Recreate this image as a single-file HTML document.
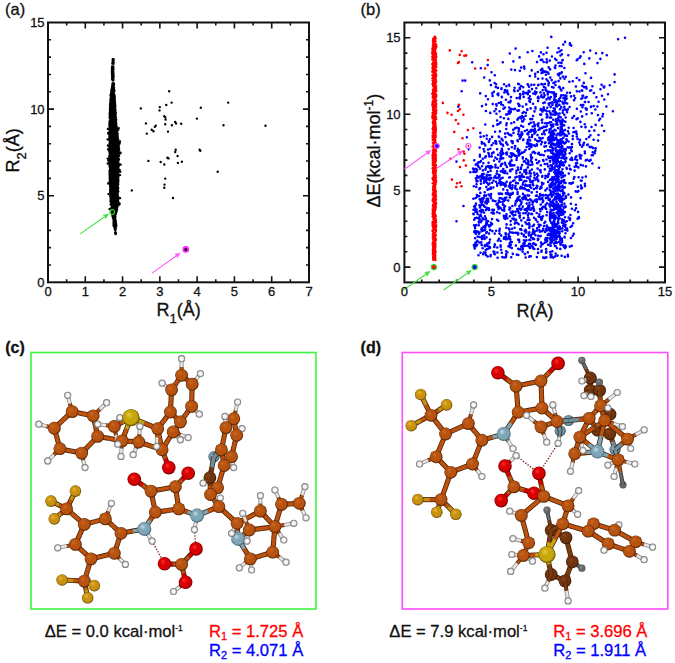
<!DOCTYPE html>
<html><head><meta charset="utf-8"><style>
html,body{margin:0;padding:0;background:#fff;}
body{width:675px;height:663px;overflow:hidden;}
svg{display:block;font-family:"Liberation Sans", sans-serif;}
text{stroke:currentColor;stroke-width:0.3px;}
</style></head><body>
<svg width="675" height="663" viewBox="0 0 675 663">
<path d="M113.0 59.2h0M113.5 59.2h0M113.3 59.4h0M112.7 59.5h0M112.7 59.4h0M112.7 59.2h0M113.1 60.6h0M112.7 60.1h0M113.4 60.7h0M113.3 60.2h0M113.8 59.9h0M113.7 60.1h0M112.7 60.8h0M112.9 61.4h0M112.7 61.2h0M113.3 61.0h0M113.2 60.8h0M112.6 60.9h0M113.3 61.8h0M112.8 62.0h0M113.0 61.7h0M113.5 62.1h0M112.7 62.0h0M113.1 62.2h0M113.4 62.5h0M113.7 62.4h0M112.9 62.9h0M112.5 62.7h0M112.4 62.8h0M113.4 62.8h0M113.5 63.4h0M113.3 63.6h0M113.1 63.5h0M113.5 63.9h0M113.0 63.6h0M112.3 63.7h0M113.0 67.1h0M113.3 66.5h0M112.6 66.8h0M112.0 66.7h0M112.2 66.4h0M112.0 66.9h0M112.1 67.3h0M112.6 67.8h0M112.0 67.5h0M112.8 67.8h0M113.3 67.8h0M112.4 67.4h0M112.5 68.6h0M113.5 68.0h0M112.2 68.1h0M112.3 68.3h0M112.9 68.1h0M111.9 68.2h0M112.5 69.2h0M113.5 69.3h0M112.8 69.2h0M113.0 68.7h0M113.4 69.3h0M113.4 69.3h0M112.6 69.8h0M112.1 70.0h0M112.0 69.6h0M112.3 69.6h0M112.5 69.5h0M111.9 69.6h0M112.1 70.6h0M111.9 71.0h0M112.9 70.4h0M112.3 70.6h0M112.5 70.4h0M113.3 71.1h0M112.7 71.5h0M112.0 71.2h0M112.5 71.3h0M113.3 71.2h0M111.9 71.9h0M112.8 71.2h0M112.8 71.9h0M112.8 72.7h0M113.4 72.5h0M112.3 72.2h0M112.2 72.5h0M112.8 72.5h0M112.5 72.9h0M113.3 73.5h0M113.3 73.3h0M113.3 73.3h0M112.3 73.1h0M112.5 72.7h0M111.9 73.7h0M112.3 74.1h0M113.5 73.9h0M113.5 74.3h0M113.5 73.8h0M112.3 73.7h0M112.2 74.5h0M113.0 75.0h0M113.3 74.7h0M113.0 74.9h0M112.0 74.8h0M113.4 74.9h0M113.2 75.5h0M112.2 75.7h0M112.5 75.7h0M113.6 75.4h0M112.6 75.9h0M113.1 75.2h0M112.1 76.0h0M113.4 76.5h0M112.1 76.6h0M113.6 76.4h0M112.5 76.3h0M112.1 75.9h0M113.6 77.2h0M112.8 77.4h0M112.6 77.4h0M113.3 76.9h0M112.3 76.9h0M112.3 77.2h0M112.3 77.8h0M112.1 78.2h0M112.5 77.9h0M112.9 78.2h0M112.6 78.2h0M112.8 77.9h0M112.8 78.3h0M112.6 78.4h0M111.9 78.9h0M112.2 78.7h0M113.1 78.7h0M112.5 78.7h0M112.8 79.7h0M112.1 79.5h0M112.3 79.3h0M113.2 79.5h0M112.9 79.7h0M113.5 79.5h0M113.0 80.3h0M112.8 80.5h0M112.7 80.3h0M112.8 80.7h0M113.1 80.6h0M113.5 80.1h0M113.3 83.9h0M113.8 83.2h0M112.5 83.5h0M112.5 83.3h0M112.5 83.6h0M113.7 83.8h0M112.6 84.5h0M113.5 84.0h0M113.9 84.7h0M112.7 84.7h0M113.1 84.3h0M114.1 84.6h0M112.5 85.0h0M113.2 85.0h0M112.6 85.0h0M113.6 84.7h0M113.3 85.1h0M112.3 85.0h0M113.4 85.1h0M112.2 86.3h0M113.7 86.3h0M112.3 85.7h0M112.2 86.1h0M112.7 85.6h0M113.0 86.2h0M113.8 85.7h0M112.3 87.0h0M113.3 86.9h0M112.2 86.3h0M113.5 86.6h0M112.1 87.1h0M113.4 86.9h0M112.1 87.0h0M112.0 87.8h0M112.9 87.4h0M113.2 87.8h0M112.5 87.2h0M113.1 87.3h0M112.1 87.2h0M111.9 87.3h0M112.6 87.3h0M113.7 88.1h0M113.0 88.0h0M112.6 87.9h0M112.3 87.9h0M113.6 88.3h0M112.2 88.3h0M114.1 88.0h0M113.8 88.2h0M112.9 89.4h0M112.7 89.1h0M113.5 89.5h0M112.5 89.4h0M113.5 89.2h0M112.7 89.0h0M111.7 88.8h0M111.7 89.3h0M112.2 89.6h0M111.7 90.2h0M114.0 90.0h0M112.3 89.7h0M112.3 89.9h0M111.9 89.9h0M112.2 90.3h0M114.3 89.9h0M112.1 91.1h0M112.3 90.6h0M111.3 90.6h0M112.8 90.7h0M111.9 90.7h0M111.3 90.5h0M111.6 90.6h0M111.4 90.3h0M112.2 90.5h0M113.1 91.5h0M113.6 91.6h0M113.5 91.8h0M112.4 91.4h0M114.4 91.2h0M113.6 91.6h0M111.3 91.8h0M114.1 91.6h0M113.6 91.7h0M111.5 92.3h0M112.8 92.6h0M113.8 92.6h0M113.1 92.6h0M113.4 92.5h0M111.8 91.9h0M111.5 92.2h0M111.4 92.6h0M113.0 92.4h0M113.2 93.2h0M112.7 92.7h0M113.8 93.3h0M112.7 93.1h0M113.3 92.8h0M113.6 92.9h0M111.2 92.9h0M113.6 92.9h0M113.6 93.5h0M112.7 93.0h0M112.6 94.0h0M113.7 94.0h0M113.2 93.6h0M111.3 93.7h0M113.6 93.7h0M112.9 93.5h0M111.0 93.7h0M113.3 94.1h0M113.3 93.7h0M112.7 93.9h0M112.5 94.4h0M114.2 94.5h0M114.5 95.0h0M110.7 94.7h0M113.9 95.1h0M112.4 94.5h0M111.5 95.1h0M111.5 94.8h0M111.2 94.7h0M114.4 94.4h0M113.9 95.5h0M114.2 95.7h0M111.5 95.8h0M112.5 95.1h0M110.5 95.5h0M112.4 95.3h0M111.1 95.4h0M111.8 95.8h0M110.5 95.7h0M114.0 95.2h0M114.4 96.5h0M114.3 96.1h0M112.0 96.2h0M114.7 96.4h0M112.0 96.2h0M111.6 95.9h0M110.8 96.6h0M111.6 96.6h0M111.5 96.1h0M112.6 96.1h0M112.0 96.7h0M114.3 97.3h0M113.1 97.4h0M114.5 97.1h0M113.5 96.7h0M113.6 97.1h0M113.7 97.2h0M111.6 96.7h0M114.5 96.8h0M112.4 97.0h0M111.7 97.3h0M114.7 96.9h0M113.3 97.7h0M112.8 97.8h0M111.1 97.6h0M111.3 98.2h0M112.6 97.7h0M114.4 98.3h0M112.4 97.6h0M111.2 97.6h0M111.9 97.6h0M111.4 97.7h0M112.9 98.2h0M113.7 98.6h0M112.2 98.7h0M112.0 98.6h0M110.6 98.5h0M114.8 98.4h0M112.6 98.8h0M114.3 98.5h0M111.5 98.5h0M112.1 98.7h0M114.7 99.0h0M114.3 98.3h0M110.4 99.7h0M114.5 99.5h0M113.0 99.1h0M112.1 99.8h0M114.1 99.8h0M114.8 99.3h0M110.8 99.2h0M112.7 99.6h0M114.7 99.7h0M113.3 99.7h0M112.4 99.5h0M110.4 100.5h0M111.3 100.6h0M113.3 100.1h0M110.8 100.1h0M113.3 100.5h0M110.7 100.0h0M112.7 100.4h0M112.1 100.1h0M113.1 99.9h0M111.7 100.3h0M114.8 100.4h0M114.5 100.3h0M111.3 100.9h0M114.9 101.3h0M111.7 100.7h0M112.6 101.2h0M112.2 100.9h0M113.5 101.4h0M111.3 100.7h0M111.8 101.0h0M113.5 100.9h0M114.1 101.3h0M112.7 100.9h0M114.9 100.9h0M114.2 101.7h0M111.2 102.1h0M111.6 102.3h0M112.6 101.6h0M111.3 101.8h0M113.5 102.3h0M110.9 101.8h0M111.2 102.3h0M110.8 101.5h0M110.4 101.8h0M114.6 102.2h0M113.8 102.3h0M114.9 102.6h0M111.0 103.0h0M113.9 102.3h0M113.5 102.6h0M112.0 102.6h0M111.0 102.3h0M111.5 102.6h0M115.0 102.4h0M115.0 102.5h0M111.9 103.0h0M114.3 102.6h0M110.3 102.7h0M112.0 103.8h0M111.1 103.4h0M114.7 103.1h0M112.2 103.7h0M114.1 103.1h0M110.2 103.2h0M114.9 103.3h0M114.0 103.8h0M111.8 103.3h0M115.1 103.6h0M111.4 103.7h0M111.7 103.3h0M110.0 104.5h0M114.9 104.4h0M115.0 103.9h0M111.3 104.3h0M115.1 104.7h0M112.1 104.1h0M112.3 104.3h0M115.0 104.0h0M114.3 104.5h0M114.4 104.5h0M113.2 104.2h0M111.7 104.2h0M114.2 104.8h0M111.0 105.3h0M111.3 104.8h0M110.2 105.1h0M111.7 105.5h0M114.8 105.5h0M111.4 104.8h0M110.5 105.1h0M113.8 105.1h0M111.2 105.0h0M113.3 105.2h0M114.0 105.4h0M113.6 104.8h0M114.6 105.7h0M113.1 105.8h0M114.0 105.7h0M111.3 105.7h0M110.8 106.2h0M113.1 105.8h0M112.1 106.3h0M112.7 105.7h0M114.4 106.0h0M115.4 105.6h0M112.6 106.2h0M114.6 106.2h0M110.2 105.7h0M110.6 106.5h0M115.4 106.8h0M115.1 106.6h0M114.8 106.7h0M111.4 106.9h0M115.2 106.4h0M113.3 106.8h0M111.1 106.6h0M110.7 106.5h0M111.3 106.8h0M113.6 106.5h0M110.0 106.6h0M113.7 106.4h0M111.7 107.3h0M114.4 107.5h0M110.2 107.2h0M112.1 107.5h0M113.5 107.2h0M110.8 107.7h0M112.2 107.3h0M111.6 107.9h0M111.7 107.6h0M111.9 107.4h0M114.8 107.9h0M111.9 107.3h0M114.0 107.3h0M109.9 108.6h0M112.3 108.6h0M112.2 108.6h0M112.5 108.0h0M109.9 108.3h0M113.6 108.6h0M110.3 108.4h0M112.0 108.3h0M110.7 108.1h0M112.9 108.6h0M110.5 108.3h0M114.5 108.7h0M111.0 108.0h0M115.4 109.5h0M112.6 108.7h0M115.3 109.0h0M115.1 109.2h0M114.7 108.8h0M114.4 108.9h0M112.2 109.4h0M114.7 108.8h0M111.1 109.0h0M112.9 109.0h0M110.5 108.9h0M114.1 109.4h0M110.0 109.1h0M114.3 109.5h0M114.8 109.6h0M113.4 109.9h0M113.5 109.7h0M112.3 110.0h0M112.3 110.0h0M112.4 109.9h0M109.9 110.0h0M112.7 109.7h0M114.3 110.1h0M112.5 109.6h0M112.6 109.6h0M110.5 109.8h0M110.3 110.7h0M112.8 110.3h0M113.6 110.4h0M114.2 110.9h0M112.8 110.3h0M112.8 110.6h0M115.5 110.4h0M114.9 111.1h0M114.2 111.0h0M110.9 111.1h0M112.7 111.1h0M115.3 110.4h0M114.5 111.0h0M110.1 110.6h0M114.4 111.2h0M115.2 111.3h0M114.7 111.2h0M112.8 111.8h0M111.0 111.3h0M112.8 111.4h0M110.0 111.2h0M110.7 111.8h0M113.9 111.8h0M110.8 111.7h0M110.4 111.5h0M113.6 111.4h0M115.1 111.5h0M113.3 111.8h0M110.4 112.7h0M113.6 112.2h0M114.7 112.1h0M115.9 112.4h0M111.9 112.5h0M112.5 112.0h0M114.3 111.9h0M114.8 112.1h0M113.7 112.7h0M113.3 112.4h0M111.6 111.9h0M109.9 112.0h0M113.5 112.2h0M112.9 112.6h0M110.5 112.9h0M113.8 112.7h0M109.7 113.0h0M110.4 113.0h0M111.1 113.2h0M113.4 112.9h0M113.6 113.1h0M110.5 113.4h0M111.2 112.8h0M110.3 113.2h0M115.2 113.3h0M112.2 112.9h0M109.8 113.2h0M113.2 113.0h0M113.8 113.9h0M115.6 114.1h0M111.2 114.2h0M109.9 113.9h0M112.2 113.7h0M110.0 114.1h0M109.7 113.9h0M115.6 113.6h0M110.9 114.0h0M112.9 114.0h0M114.8 113.6h0M111.6 113.7h0M110.0 114.2h0M114.6 114.1h0M109.7 115.0h0M114.4 114.7h0M114.4 114.7h0M111.1 114.4h0M111.1 114.3h0M111.8 114.9h0M114.1 115.0h0M114.2 114.5h0M113.2 114.6h0M114.7 114.7h0M111.3 114.8h0M115.8 114.5h0M115.3 114.3h0M111.3 114.5h0M114.5 115.9h0M114.5 115.4h0M115.3 115.4h0M111.2 115.8h0M113.7 115.7h0M113.9 115.9h0M112.7 115.8h0M114.2 115.8h0M112.5 115.7h0M113.3 115.3h0M111.0 115.6h0M110.1 115.8h0M110.6 115.1h0M110.3 115.8h0M111.9 116.0h0M109.8 115.9h0M114.1 116.4h0M114.2 116.5h0M110.0 116.4h0M112.0 116.6h0M115.0 116.6h0M110.0 116.6h0M115.6 116.7h0M110.3 116.1h0M110.3 115.9h0M115.2 116.5h0M113.8 116.6h0M113.7 116.1h0M110.2 116.8h0M114.6 116.9h0M111.7 117.0h0M109.7 116.9h0M111.4 117.3h0M112.0 117.0h0M116.0 117.1h0M115.2 117.2h0M109.8 117.0h0M112.5 117.3h0M111.9 117.3h0M113.1 116.9h0M115.3 116.8h0M115.0 116.8h0M109.6 116.9h0M114.7 118.3h0M109.6 117.9h0M112.9 118.1h0M110.8 117.9h0M111.9 118.2h0M111.3 118.3h0M111.5 117.7h0M114.3 117.9h0M110.3 118.0h0M110.1 118.1h0M114.2 118.1h0M113.8 117.8h0M112.2 117.8h0M115.5 117.6h0M115.5 117.5h0M110.9 118.5h0M115.7 118.7h0M112.1 119.0h0M111.1 118.7h0M113.1 118.9h0M114.6 118.8h0M111.9 118.6h0M110.6 119.0h0M114.0 118.9h0M110.7 118.7h0M114.8 118.8h0M110.4 118.7h0M115.5 118.5h0M110.8 118.5h0M114.3 119.0h0M110.6 119.2h0M111.2 119.4h0M113.1 119.2h0M111.8 119.3h0M116.2 119.7h0M110.2 119.9h0M110.2 119.4h0M116.3 119.7h0M114.5 119.4h0M110.8 119.6h0M110.2 119.3h0M112.2 119.1h0M112.2 119.7h0M114.3 119.5h0M113.8 119.5h0M110.5 120.4h0M112.3 120.5h0M115.8 120.2h0M113.5 120.5h0M112.4 120.1h0M114.5 120.6h0M114.9 120.5h0M115.4 120.4h0M113.9 120.3h0M111.7 120.4h0M110.2 120.2h0M114.9 120.5h0M113.9 120.1h0M112.4 120.3h0M113.8 120.2h0M114.2 121.4h0M110.7 121.2h0M114.9 121.0h0M112.9 121.5h0M109.7 121.1h0M110.6 121.3h0M116.1 121.1h0M110.2 121.2h0M113.3 121.3h0M113.1 121.2h0M115.3 121.1h0M112.3 121.5h0M110.9 121.2h0M112.2 121.3h0M110.3 121.5h0M112.0 121.5h0M111.4 121.8h0M109.5 121.8h0M112.4 122.1h0M111.9 121.7h0M111.0 122.1h0M116.1 121.9h0M111.0 122.1h0M112.2 121.7h0M110.3 122.1h0M115.2 122.0h0M112.8 121.9h0M111.0 122.3h0M111.9 122.0h0M115.2 122.2h0M112.8 122.5h0M113.3 122.4h0M115.4 122.6h0M115.5 122.5h0M112.1 122.5h0M112.5 122.4h0M109.4 122.9h0M111.4 122.5h0M111.6 122.7h0M112.5 122.8h0M114.1 122.6h0M116.1 123.0h0M109.8 123.0h0M115.9 122.9h0M110.4 123.0h0M114.0 123.1h0M109.5 123.9h0M114.2 123.3h0M110.1 123.2h0M111.1 123.7h0M111.9 123.2h0M116.0 123.7h0M110.6 123.8h0M113.8 123.7h0M114.2 123.8h0M115.1 123.8h0M110.8 123.7h0M113.2 123.7h0M112.6 123.8h0M113.4 123.3h0M111.1 123.2h0M113.0 123.9h0M112.8 124.0h0M113.0 124.3h0M113.4 124.6h0M109.4 124.6h0M112.8 124.4h0M114.3 124.6h0M112.1 124.2h0M116.4 124.0h0M114.1 124.4h0M109.6 124.4h0M114.4 124.6h0M111.8 124.7h0M113.1 124.3h0M116.0 123.9h0M114.7 124.4h0M111.9 125.4h0M112.1 125.1h0M113.3 125.3h0M110.9 125.0h0M112.5 125.1h0M115.5 124.9h0M115.5 125.0h0M113.1 124.9h0M113.1 125.5h0M114.2 125.3h0M111.8 125.0h0M111.6 125.2h0M114.1 125.3h0M109.7 125.3h0M116.0 125.1h0M109.7 124.9h0M109.4 125.7h0M116.3 126.0h0M114.3 126.1h0M116.2 126.0h0M114.0 126.0h0M114.6 126.0h0M114.5 125.7h0M114.4 125.9h0M115.1 125.6h0M110.7 125.5h0M115.2 126.2h0M114.3 125.8h0M115.6 126.1h0M113.6 125.7h0M111.6 125.8h0M111.8 125.8h0M114.3 127.0h0M109.8 126.8h0M109.7 126.4h0M115.5 126.8h0M116.4 126.7h0M109.5 126.6h0M113.9 127.1h0M116.8 126.7h0M112.5 126.4h0M114.3 126.5h0M110.5 126.3h0M109.4 126.8h0M110.3 127.1h0M110.0 127.0h0M110.3 126.3h0M114.8 126.5h0M115.0 127.2h0M109.7 127.7h0M114.9 127.8h0M115.0 127.2h0M114.2 127.7h0M112.9 127.8h0M111.3 127.9h0M114.9 127.1h0M109.5 127.6h0M115.7 127.2h0M111.8 127.7h0M110.6 127.8h0M113.1 127.1h0M112.2 127.6h0M112.7 127.6h0M110.5 127.7h0M112.2 128.4h0M114.3 128.2h0M112.4 128.5h0M116.7 128.5h0M113.8 128.1h0M109.8 128.7h0M114.8 128.6h0M111.9 128.4h0M117.0 128.6h0M114.0 128.1h0M112.7 128.6h0M112.3 128.4h0M114.0 128.6h0M115.7 128.1h0M109.4 128.1h0M112.6 128.4h0M115.7 128.6h0M109.7 129.4h0M115.8 129.4h0M113.9 128.9h0M116.1 129.3h0M114.7 129.4h0M112.1 128.8h0M113.7 129.3h0M110.9 129.3h0M116.7 128.9h0M114.1 129.2h0M113.0 128.9h0M111.3 129.3h0M115.6 129.1h0M110.0 129.3h0M115.4 128.9h0M113.9 129.4h0M116.3 129.1h0M113.1 130.0h0M110.8 129.7h0M110.8 130.1h0M112.2 130.0h0M112.5 129.9h0M110.5 129.5h0M117.3 129.8h0M110.2 130.0h0M115.6 129.6h0M114.1 129.8h0M113.5 129.5h0M109.6 130.3h0M116.3 129.9h0M113.9 129.7h0M115.6 129.8h0M116.9 130.1h0M115.9 130.3h0M111.4 130.3h0M110.9 130.4h0M110.0 130.3h0M113.8 131.0h0M113.0 131.1h0M116.7 130.4h0M114.2 130.6h0M110.3 131.1h0M111.4 130.8h0M114.5 131.1h0M114.7 130.6h0M112.9 130.4h0M117.1 131.1h0M111.1 130.3h0M111.4 130.6h0M116.6 131.0h0M116.1 130.3h0M115.7 131.7h0M114.6 131.9h0M109.8 131.2h0M115.5 131.9h0M114.9 131.3h0M114.2 131.7h0M110.2 131.4h0M111.4 131.2h0M113.2 131.2h0M111.3 131.2h0M114.9 131.1h0M115.2 131.3h0M109.6 131.8h0M111.1 131.8h0M116.4 131.8h0M110.5 131.5h0M110.1 131.8h0M116.3 132.4h0M113.0 132.2h0M116.1 132.3h0M114.5 132.0h0M111.1 131.9h0M115.2 132.3h0M110.5 132.6h0M111.5 132.2h0M110.6 132.1h0M116.3 132.2h0M110.7 132.3h0M111.9 132.6h0M110.2 132.7h0M109.8 132.6h0M114.8 132.1h0M113.3 132.1h0M111.4 132.1h0M112.3 133.5h0M117.6 133.4h0M110.1 132.9h0M116.8 132.7h0M115.4 132.9h0M117.5 132.7h0M116.0 133.0h0M110.5 132.7h0M116.3 133.1h0M110.8 133.0h0M116.9 132.9h0M114.1 132.8h0M110.8 133.3h0M115.2 132.9h0M110.0 132.8h0M114.4 133.1h0M111.6 132.9h0M114.5 134.1h0M116.2 134.0h0M111.0 133.6h0M115.5 133.8h0M115.4 133.5h0M116.1 133.8h0M116.4 134.2h0M113.5 133.5h0M117.0 133.9h0M116.7 133.7h0M110.9 134.2h0M112.4 133.6h0M112.4 134.0h0M109.3 133.9h0M113.1 133.9h0M110.3 134.1h0M116.2 134.2h0M112.0 134.1h0M112.5 134.9h0M109.8 135.0h0M117.4 134.7h0M113.7 134.7h0M113.9 134.3h0M117.6 134.5h0M110.8 134.4h0M111.4 135.0h0M109.5 134.4h0M115.3 134.5h0M109.4 134.8h0M114.2 134.7h0M115.3 134.4h0M116.7 134.9h0M109.7 134.4h0M113.5 134.7h0M111.7 134.4h0M112.7 134.4h0M114.4 135.8h0M110.5 135.6h0M115.7 135.2h0M116.4 135.9h0M112.6 135.4h0M116.5 135.5h0M112.7 135.9h0M116.0 135.4h0M111.3 135.4h0M113.0 135.9h0M116.2 135.8h0M116.3 135.8h0M109.7 135.5h0M117.6 135.8h0M111.4 135.4h0M114.7 135.4h0M113.9 135.2h0M113.0 135.5h0M109.4 136.0h0M117.7 136.5h0M117.4 136.4h0M116.3 136.6h0M117.0 135.9h0M114.9 136.1h0M115.2 136.1h0M114.0 136.6h0M114.7 136.1h0M113.8 136.2h0M117.6 136.1h0M111.9 136.4h0M110.3 136.4h0M117.6 136.3h0M111.6 136.3h0M113.9 136.0h0M110.3 136.0h0M111.8 136.2h0M111.8 136.9h0M110.0 137.1h0M116.7 137.2h0M114.3 137.2h0M111.0 137.3h0M113.3 137.1h0M114.7 137.1h0M112.0 136.9h0M111.2 137.1h0M112.6 137.2h0M109.4 137.0h0M116.9 136.9h0M114.2 137.1h0M111.8 137.5h0M111.9 137.3h0M110.7 136.8h0M116.9 137.1h0M109.8 137.0h0M113.2 138.1h0M110.2 137.7h0M117.8 138.1h0M110.6 137.8h0M112.4 138.0h0M114.7 138.2h0M116.6 137.9h0M115.8 138.1h0M116.0 137.9h0M116.2 138.1h0M117.4 137.6h0M117.0 137.5h0M116.1 138.0h0M113.7 138.3h0M114.3 137.8h0M116.2 138.2h0M114.7 137.8h0M113.3 137.9h0M115.8 138.5h0M112.8 138.7h0M112.7 138.6h0M116.3 139.0h0M113.7 138.7h0M110.9 138.5h0M110.5 138.8h0M114.5 138.4h0M117.5 138.6h0M116.8 139.0h0M117.9 138.5h0M113.1 139.0h0M109.3 138.3h0M114.3 138.7h0M117.5 138.9h0M114.1 139.1h0M113.9 138.7h0M115.4 138.6h0M112.5 138.8h0M112.4 139.9h0M115.4 139.5h0M110.1 139.4h0M112.9 139.5h0M114.5 139.8h0M118.0 139.5h0M113.2 139.6h0M118.3 139.4h0M114.1 139.8h0M110.8 139.4h0M118.1 139.8h0M113.9 139.2h0M117.4 139.7h0M116.7 139.9h0M117.3 139.4h0M110.7 139.3h0M113.9 139.5h0M110.9 139.2h0M115.0 139.6h0M112.5 140.7h0M115.1 139.9h0M113.0 140.5h0M112.0 140.5h0M109.3 140.1h0M117.0 140.4h0M115.4 140.1h0M113.8 140.3h0M111.7 140.4h0M114.1 140.7h0M114.5 140.2h0M110.3 140.0h0M116.2 140.0h0M110.1 140.0h0M114.0 140.6h0M114.9 140.5h0M109.8 139.9h0M116.3 140.2h0M115.8 140.2h0M110.8 140.9h0M110.1 141.4h0M114.6 141.0h0M113.4 141.0h0M109.7 141.4h0M114.6 141.5h0M113.3 141.2h0M111.5 140.7h0M117.9 141.4h0M112.1 141.4h0M116.8 140.9h0M114.8 141.5h0M113.8 141.5h0M111.5 141.0h0M115.9 140.9h0M112.1 141.4h0M113.7 141.3h0M111.5 140.8h0M112.5 140.8h0M118.3 141.7h0M114.5 141.6h0M114.2 141.8h0M113.0 141.6h0M110.4 142.2h0M112.5 141.7h0M111.0 141.7h0M111.4 141.5h0M115.4 141.8h0M110.7 142.1h0M110.1 141.7h0M117.0 141.6h0M113.4 142.2h0M116.8 141.6h0M112.5 142.1h0M112.7 142.3h0M111.2 142.3h0M113.9 141.7h0M113.5 141.6h0M115.9 142.5h0M117.7 142.8h0M112.7 142.5h0M115.0 142.5h0M117.5 142.4h0M114.1 142.7h0M111.8 142.9h0M112.8 142.8h0M114.6 142.5h0M112.9 142.4h0M110.9 143.0h0M112.2 142.8h0M110.2 142.7h0M112.6 142.7h0M112.0 142.4h0M112.1 142.5h0M110.4 142.9h0M111.9 142.6h0M117.8 142.9h0M117.6 143.8h0M110.5 143.3h0M109.5 143.6h0M115.5 143.4h0M113.1 143.6h0M115.9 143.3h0M117.3 143.4h0M115.2 143.2h0M110.3 143.8h0M116.2 143.7h0M109.6 143.1h0M110.7 143.3h0M112.1 143.4h0M109.6 143.3h0M115.3 143.2h0M117.2 143.6h0M116.0 143.3h0M113.3 143.6h0M112.5 143.1h0M117.2 144.5h0M111.9 143.9h0M117.4 144.4h0M109.7 144.1h0M110.3 144.5h0M111.2 144.6h0M116.4 144.0h0M115.9 144.2h0M116.4 144.6h0M111.9 144.0h0M118.3 144.2h0M118.1 144.5h0M116.3 144.6h0M115.2 144.3h0M109.7 144.5h0M113.3 144.3h0M118.1 144.0h0M116.5 143.9h0M115.9 144.5h0M111.7 144.3h0M118.6 145.2h0M114.5 144.9h0M109.8 145.0h0M113.2 144.9h0M112.2 144.8h0M116.0 145.2h0M111.5 144.9h0M114.2 145.1h0M118.3 145.0h0M112.1 145.4h0M110.6 145.2h0M112.4 145.4h0M114.5 145.3h0M110.8 145.2h0M115.0 145.1h0M116.6 145.4h0M110.3 144.9h0M112.7 144.9h0M109.8 144.9h0M111.1 145.3h0M113.6 145.6h0M112.4 145.9h0M112.7 145.6h0M109.9 145.5h0M118.9 146.1h0M110.0 146.1h0M118.7 146.0h0M110.3 145.9h0M113.4 145.7h0M114.5 145.5h0M118.2 146.0h0M115.3 146.2h0M115.6 145.7h0M111.6 145.6h0M109.5 146.1h0M117.4 145.7h0M111.0 146.0h0M117.4 146.2h0M110.8 146.1h0M117.3 146.1h0M112.4 146.4h0M117.3 146.6h0M112.8 146.7h0M112.8 147.0h0M111.5 146.3h0M114.8 146.8h0M117.2 146.9h0M118.1 147.1h0M114.1 146.7h0M110.7 146.5h0M114.9 146.4h0M115.9 146.4h0M113.5 147.1h0M110.1 146.3h0M113.5 146.5h0M116.3 146.3h0M117.4 147.0h0M116.9 146.6h0M112.0 146.8h0M114.2 146.6h0M112.5 147.5h0M115.8 147.8h0M118.1 147.2h0M112.1 147.5h0M114.8 147.4h0M111.1 147.2h0M112.4 147.5h0M118.8 147.8h0M117.8 147.9h0M118.7 147.6h0M117.2 147.1h0M115.9 147.6h0M112.1 147.6h0M118.6 147.5h0M115.6 147.3h0M112.6 147.8h0M109.5 147.3h0M115.9 147.5h0M110.0 147.6h0M112.9 147.6h0M113.3 148.3h0M114.8 148.2h0M110.3 148.0h0M118.1 148.3h0M110.3 148.6h0M111.7 148.0h0M114.5 148.1h0M114.1 148.3h0M111.5 148.4h0M110.3 148.3h0M115.1 148.0h0M113.3 148.0h0M113.6 148.6h0M114.7 148.5h0M116.7 148.0h0M119.1 148.5h0M110.2 148.6h0M113.1 148.0h0M118.8 148.4h0M116.9 148.0h0M117.0 148.7h0M111.6 149.0h0M109.4 149.2h0M111.3 148.9h0M116.3 149.0h0M118.1 149.2h0M117.9 149.2h0M118.4 149.4h0M110.9 149.3h0M112.6 149.3h0M116.0 149.4h0M110.4 149.0h0M116.6 149.5h0M116.4 148.7h0M115.3 148.8h0M114.7 149.3h0M110.3 149.4h0M116.0 148.9h0M111.1 149.1h0M117.6 149.2h0M110.3 149.5h0M110.3 150.1h0M111.1 149.9h0M112.1 150.0h0M113.0 149.6h0M118.0 149.9h0M116.2 150.1h0M118.8 149.5h0M112.7 149.6h0M114.3 150.2h0M117.3 149.5h0M111.0 150.2h0M116.1 149.8h0M114.0 149.6h0M117.7 149.8h0M118.0 150.0h0M110.0 149.8h0M111.4 150.2h0M115.1 149.5h0M110.9 149.8h0M113.9 150.8h0M113.1 150.6h0M109.3 150.8h0M112.6 150.3h0M113.8 151.1h0M109.7 150.4h0M116.0 150.5h0M112.0 150.7h0M111.8 150.8h0M114.5 151.1h0M119.2 150.3h0M114.9 150.9h0M118.0 150.9h0M115.6 150.8h0M112.9 150.5h0M117.2 151.0h0M118.7 150.8h0M112.3 150.9h0M116.7 150.7h0M115.6 150.6h0M114.7 151.4h0M109.8 151.4h0M112.5 151.9h0M114.0 151.4h0M111.7 151.3h0M112.7 151.2h0M109.3 151.8h0M113.8 151.5h0M114.9 151.3h0M110.9 151.2h0M112.2 151.3h0M116.5 151.5h0M118.6 151.4h0M118.5 151.6h0M110.0 151.2h0M115.0 151.9h0M112.8 151.7h0M113.5 151.8h0M109.9 151.5h0M118.2 151.3h0M111.8 151.9h0M110.9 152.1h0M116.3 152.1h0M113.2 152.1h0M115.3 152.6h0M115.7 152.1h0M116.6 152.7h0M115.2 152.0h0M117.3 152.6h0M112.6 152.0h0M111.1 152.3h0M118.0 152.4h0M118.5 152.1h0M112.5 152.5h0M115.7 152.2h0M116.0 152.2h0M109.8 152.2h0M109.7 152.4h0M112.6 152.3h0M115.2 152.1h0M113.9 152.7h0M118.5 153.2h0M119.1 152.7h0M115.4 153.3h0M112.5 152.8h0M110.8 152.8h0M116.9 152.8h0M117.4 153.0h0M114.6 153.2h0M114.8 153.2h0M115.2 153.0h0M116.6 152.9h0M116.3 153.3h0M117.0 152.9h0M116.9 153.5h0M113.8 152.9h0M114.5 153.5h0M110.5 152.7h0M114.0 153.2h0M117.0 153.0h0M119.1 153.7h0M116.8 153.6h0M109.5 153.6h0M109.8 153.9h0M114.8 153.6h0M118.6 153.8h0M110.7 153.6h0M116.6 154.2h0M110.9 153.5h0M117.0 153.7h0M119.0 153.9h0M115.6 153.8h0M117.2 153.9h0M112.5 154.2h0M110.3 154.1h0M109.9 154.0h0M113.2 154.2h0M109.8 154.0h0M113.3 154.2h0M118.6 154.0h0M111.5 154.5h0M111.8 154.6h0M111.5 154.5h0M116.8 154.8h0M112.2 155.1h0M111.4 154.8h0M110.8 155.0h0M117.9 154.5h0M116.7 155.0h0M112.0 154.6h0M114.1 155.0h0M110.8 154.8h0M115.2 154.7h0M115.0 155.0h0M111.3 155.0h0M112.8 154.9h0M117.8 154.4h0M117.8 155.1h0M112.2 154.3h0M110.4 155.1h0M109.3 155.8h0M110.7 155.7h0M110.2 155.2h0M116.0 155.2h0M112.6 155.8h0M116.3 155.8h0M118.9 155.1h0M111.6 155.7h0M116.1 155.1h0M114.2 155.3h0M113.5 155.2h0M109.5 155.9h0M112.4 155.8h0M110.4 155.5h0M110.6 155.4h0M111.0 155.6h0M110.7 155.7h0M114.2 155.2h0M112.7 155.5h0M118.3 155.4h0M111.4 156.7h0M118.0 156.5h0M112.0 156.0h0M111.9 156.0h0M109.7 156.3h0M113.3 156.3h0M112.8 155.9h0M116.0 156.4h0M114.6 156.3h0M116.1 156.7h0M117.9 156.5h0M113.2 156.2h0M113.4 156.7h0M113.1 156.2h0M113.3 156.0h0M119.1 155.9h0M115.2 156.6h0M111.8 156.4h0M113.0 156.1h0M111.2 156.0h0M117.5 157.3h0M118.2 156.7h0M116.1 157.0h0M115.6 157.1h0M112.4 157.5h0M109.3 157.3h0M117.6 157.1h0M115.1 157.5h0M111.6 157.2h0M116.6 157.0h0M116.3 157.0h0M114.4 157.2h0M115.9 157.0h0M115.4 157.1h0M111.5 157.2h0M111.9 157.4h0M113.9 157.3h0M114.4 157.1h0M111.4 156.8h0M118.4 157.1h0M114.4 157.9h0M117.2 157.7h0M111.0 158.2h0M113.8 158.0h0M117.4 158.2h0M117.8 157.5h0M113.0 158.2h0M117.3 157.6h0M110.8 157.7h0M110.3 157.8h0M117.1 157.9h0M113.7 157.6h0M113.1 158.3h0M116.1 157.9h0M114.0 158.1h0M116.7 157.6h0M115.9 157.8h0M114.4 157.7h0M112.9 157.8h0M113.0 157.5h0M111.2 158.8h0M109.9 158.4h0M116.3 158.5h0M112.4 158.5h0M117.4 158.4h0M115.5 159.0h0M111.3 158.6h0M117.0 158.8h0M112.9 158.3h0M113.6 158.6h0M116.2 158.5h0M113.3 158.8h0M117.2 158.6h0M113.0 158.8h0M118.3 158.5h0M118.8 158.9h0M112.9 158.8h0M112.5 158.4h0M116.7 158.6h0M114.4 158.7h0M118.1 159.7h0M109.5 159.6h0M113.8 159.5h0M117.5 159.4h0M113.9 159.8h0M113.6 159.5h0M114.3 159.8h0M115.8 159.7h0M113.2 159.1h0M115.9 159.5h0M116.8 159.7h0M110.4 159.3h0M110.0 159.8h0M110.3 159.2h0M116.6 159.6h0M109.8 159.6h0M116.2 159.5h0M109.8 159.7h0M113.4 159.6h0M119.0 159.8h0M117.8 160.0h0M112.5 160.3h0M109.4 160.7h0M112.0 160.1h0M112.3 160.1h0M117.6 160.3h0M114.3 160.2h0M109.8 160.1h0M117.7 160.5h0M117.6 160.1h0M111.3 159.9h0M114.5 160.2h0M113.8 160.3h0M115.0 160.2h0M117.1 160.1h0M118.2 160.3h0M109.8 160.2h0M114.5 160.2h0M114.8 160.2h0M112.0 160.5h0M112.1 161.3h0M117.1 161.2h0M113.7 161.4h0M113.6 161.4h0M109.9 161.0h0M115.5 160.7h0M117.6 160.8h0M115.1 160.8h0M118.2 161.1h0M117.0 161.1h0M115.8 161.2h0M112.2 160.9h0M117.4 160.8h0M118.2 160.9h0M110.3 160.8h0M116.9 161.5h0M113.3 161.2h0M111.8 161.4h0M115.9 160.8h0M109.9 161.3h0M109.7 162.2h0M112.1 161.7h0M114.9 161.8h0M114.7 161.6h0M118.1 161.8h0M117.4 161.6h0M117.0 162.3h0M113.1 161.5h0M113.0 162.0h0M111.5 161.9h0M110.2 161.9h0M116.3 161.8h0M115.9 161.6h0M117.3 161.6h0M118.2 162.3h0M118.4 161.9h0M112.1 161.8h0M116.5 161.9h0M118.3 161.6h0M114.0 162.2h0M115.1 162.7h0M110.2 162.4h0M111.9 163.0h0M117.4 162.5h0M118.2 162.3h0M115.1 163.1h0M112.6 163.1h0M115.6 162.3h0M112.5 162.7h0M111.7 162.9h0M111.0 162.9h0M112.2 162.4h0M114.7 162.4h0M114.6 162.9h0M115.0 162.7h0M109.7 162.7h0M110.3 162.8h0M110.6 162.8h0M112.7 162.6h0M115.7 163.2h0M111.0 163.9h0M112.5 163.8h0M117.7 163.5h0M110.8 163.2h0M117.7 163.2h0M114.1 163.5h0M110.5 163.5h0M110.9 163.5h0M114.2 163.4h0M111.2 163.4h0M111.3 163.2h0M111.6 163.8h0M114.1 163.8h0M109.5 163.9h0M114.0 163.7h0M114.8 163.7h0M111.5 163.7h0M110.8 163.3h0M109.6 164.2h0M114.3 164.1h0M117.8 164.0h0M114.9 164.1h0M115.0 164.5h0M116.1 163.9h0M111.7 164.4h0M118.7 163.9h0M115.2 164.5h0M117.1 164.2h0M117.1 164.3h0M118.1 163.9h0M118.3 164.2h0M113.2 164.0h0M111.7 164.5h0M115.8 164.0h0M112.6 164.0h0M111.2 164.1h0M112.5 164.7h0M118.8 165.3h0M113.9 165.1h0M116.8 165.4h0M116.5 165.2h0M111.2 165.2h0M117.4 165.3h0M110.2 165.3h0M112.7 164.8h0M118.5 165.2h0M116.4 164.8h0M117.2 165.4h0M117.9 165.3h0M117.3 165.3h0M115.0 165.0h0M117.2 165.3h0M117.6 164.9h0M118.5 165.1h0M118.3 164.8h0M118.5 165.3h0M111.7 166.2h0M111.6 165.7h0M113.7 165.7h0M114.0 166.2h0M115.8 166.1h0M113.1 166.1h0M116.9 166.0h0M118.3 166.2h0M113.2 165.6h0M115.5 166.2h0M112.6 166.0h0M117.3 166.1h0M109.4 165.9h0M109.5 165.6h0M117.0 165.8h0M115.1 165.9h0M112.5 165.7h0M112.7 166.2h0M115.2 165.7h0M110.2 166.5h0M116.0 166.7h0M115.6 166.9h0M110.5 166.8h0M109.8 167.0h0M111.1 166.5h0M118.4 166.6h0M111.5 167.0h0M115.1 167.0h0M113.1 166.7h0M118.4 166.7h0M118.7 166.5h0M117.2 166.4h0M114.3 166.3h0M111.0 167.1h0M113.7 166.9h0M111.7 166.6h0M110.3 166.7h0M117.5 166.7h0M112.9 167.8h0M117.8 167.6h0M110.1 167.6h0M113.5 167.9h0M112.8 167.6h0M115.3 167.4h0M114.3 167.6h0M117.9 167.5h0M112.8 167.9h0M109.9 167.8h0M115.8 167.5h0M113.6 167.7h0M117.8 167.7h0M116.4 167.1h0M112.4 167.2h0M118.3 167.8h0M110.7 167.6h0M114.8 167.1h0M113.1 167.7h0M115.4 168.1h0M116.5 168.1h0M114.5 168.2h0M118.5 168.4h0M116.9 168.4h0M112.9 168.7h0M116.0 168.5h0M112.0 168.0h0M114.8 168.6h0M116.8 168.2h0M110.7 168.3h0M117.6 168.0h0M116.3 168.0h0M112.3 167.9h0M112.2 168.2h0M118.4 168.7h0M111.1 168.1h0M118.2 168.1h0M112.4 168.3h0M110.4 168.9h0M113.1 169.0h0M118.4 168.9h0M111.3 169.4h0M113.6 169.4h0M115.3 169.3h0M112.3 168.8h0M116.5 169.1h0M114.6 169.2h0M116.4 168.9h0M112.8 169.4h0M114.3 168.9h0M115.3 168.9h0M116.6 168.7h0M117.1 169.2h0M112.7 169.5h0M111.9 168.9h0M110.0 169.1h0M116.4 169.2h0M113.2 170.1h0M110.4 169.7h0M115.4 170.3h0M115.3 170.1h0M116.6 169.8h0M118.1 170.1h0M112.6 169.8h0M116.9 169.8h0M111.1 170.2h0M114.3 169.9h0M115.6 170.2h0M110.6 169.8h0M110.0 169.8h0M114.1 170.2h0M115.6 170.0h0M113.2 170.0h0M111.9 170.2h0M116.7 170.2h0M110.8 170.0h0M116.4 170.7h0M117.7 171.0h0M116.3 171.0h0M115.4 171.0h0M110.6 170.9h0M115.9 170.8h0M112.0 170.4h0M115.0 171.0h0M111.9 170.5h0M111.5 170.4h0M115.7 171.1h0M116.9 170.6h0M115.9 170.4h0M117.2 170.6h0M109.4 170.8h0M110.7 170.5h0M110.0 170.7h0M114.6 170.9h0M109.8 171.0h0M110.5 171.3h0M115.2 171.4h0M112.5 171.6h0M111.4 171.7h0M111.4 171.8h0M116.9 171.5h0M109.7 171.7h0M109.7 171.5h0M113.3 171.2h0M115.3 171.7h0M114.8 171.4h0M114.2 171.6h0M111.5 171.8h0M118.6 171.7h0M118.3 171.4h0M118.5 171.2h0M113.8 171.2h0M113.6 171.6h0M116.0 171.5h0M112.6 172.1h0M113.2 172.1h0M111.2 172.5h0M114.2 172.3h0M111.3 172.5h0M111.3 172.1h0M114.6 172.5h0M118.4 172.5h0M118.2 172.6h0M116.1 172.5h0M110.0 172.1h0M109.6 172.6h0M116.1 172.4h0M111.9 172.2h0M111.0 172.4h0M118.6 172.1h0M109.9 172.0h0M112.7 172.6h0M116.9 172.3h0M110.4 172.8h0M110.9 173.3h0M113.8 173.5h0M117.8 173.3h0M113.8 173.4h0M110.6 172.8h0M114.6 173.1h0M111.4 172.9h0M109.7 173.4h0M116.0 173.5h0M118.5 173.0h0M116.2 173.0h0M116.9 173.4h0M110.7 172.7h0M111.4 173.2h0M112.9 172.7h0M117.1 173.3h0M113.7 172.7h0M117.6 173.1h0M110.1 173.8h0M115.2 174.2h0M113.9 174.0h0M111.4 173.7h0M117.8 173.8h0M110.4 174.0h0M110.6 173.7h0M113.7 174.0h0M115.3 174.1h0M113.5 173.6h0M116.1 173.5h0M113.8 173.8h0M115.6 174.1h0M111.7 174.0h0M115.8 173.9h0M110.8 174.2h0M115.0 173.6h0M111.7 174.3h0M111.6 173.8h0M116.7 175.0h0M115.3 174.9h0M109.8 174.4h0M118.4 174.9h0M109.8 174.3h0M111.7 175.0h0M111.5 174.8h0M118.0 174.8h0M117.9 174.5h0M110.9 174.3h0M116.4 174.4h0M118.4 174.9h0M111.2 174.9h0M111.0 174.7h0M110.5 174.9h0M117.6 175.0h0M109.5 175.0h0M114.6 175.0h0M114.1 174.8h0M114.9 175.7h0M110.2 175.1h0M114.5 175.3h0M113.1 175.1h0M116.3 175.1h0M117.0 175.7h0M113.7 175.2h0M115.4 175.3h0M113.4 175.2h0M118.4 175.5h0M112.7 175.2h0M116.1 175.8h0M117.2 175.2h0M112.8 175.3h0M116.4 175.2h0M115.0 175.9h0M116.5 175.1h0M110.2 175.2h0M115.8 175.6h0M114.2 176.3h0M113.2 176.4h0M115.4 176.6h0M116.2 176.5h0M117.8 176.6h0M116.0 175.9h0M115.7 176.6h0M113.4 176.6h0M111.2 176.7h0M113.5 176.5h0M111.8 176.1h0M112.7 176.2h0M110.4 176.3h0M118.4 176.4h0M118.0 176.5h0M117.1 176.7h0M116.3 176.1h0M111.8 176.2h0M109.7 176.1h0M117.5 177.4h0M112.5 177.3h0M116.5 177.4h0M116.7 177.1h0M110.5 177.4h0M112.4 177.2h0M112.9 177.1h0M118.2 176.8h0M114.3 177.2h0M114.4 177.5h0M113.2 177.4h0M115.8 177.5h0M110.4 176.9h0M112.1 177.4h0M109.7 176.9h0M116.0 177.5h0M111.1 177.1h0M115.7 177.3h0M116.3 177.3h0M111.8 177.7h0M109.8 178.1h0M111.4 177.7h0M118.2 178.0h0M114.9 178.0h0M114.9 178.1h0M112.3 177.6h0M110.2 177.5h0M112.8 177.6h0M110.6 177.9h0M118.3 178.1h0M112.0 178.1h0M111.2 177.6h0M112.3 177.8h0M115.8 177.9h0M116.1 177.6h0M117.9 177.8h0M117.0 177.5h0M117.0 178.5h0M117.2 178.9h0M115.6 178.5h0M109.7 178.5h0M117.7 178.4h0M115.5 178.8h0M115.5 178.4h0M110.9 178.4h0M118.4 178.6h0M115.4 178.8h0M111.6 178.4h0M109.7 179.0h0M110.7 179.1h0M112.8 178.9h0M110.8 178.9h0M111.8 178.6h0M114.3 178.4h0M111.8 178.9h0M112.1 179.4h0M116.4 179.3h0M111.3 179.3h0M113.0 179.4h0M115.3 179.5h0M117.3 179.1h0M115.5 179.8h0M111.7 179.1h0M113.5 179.2h0M113.7 179.7h0M110.4 179.2h0M113.9 179.2h0M111.6 179.5h0M110.6 179.2h0M112.8 179.5h0M117.9 179.5h0M110.2 179.3h0M116.2 179.6h0M117.3 180.7h0M117.2 180.0h0M118.0 180.3h0M111.7 180.0h0M117.3 180.1h0M110.3 180.1h0M117.8 180.3h0M116.1 180.0h0M113.6 180.2h0M111.4 180.4h0M112.8 180.0h0M118.4 180.3h0M111.2 179.9h0M115.4 180.3h0M109.8 180.3h0M116.2 180.3h0M111.7 180.3h0M115.0 180.4h0M110.9 181.3h0M118.0 181.3h0M117.2 181.0h0M117.6 180.8h0M111.6 181.2h0M117.6 180.8h0M111.5 180.7h0M113.5 180.8h0M111.3 181.3h0M114.8 181.5h0M113.2 181.2h0M109.7 181.5h0M111.7 181.1h0M114.2 181.5h0M114.0 181.5h0M115.1 180.9h0M117.0 180.9h0M118.5 181.1h0M111.6 182.3h0M112.5 181.8h0M112.7 182.0h0M109.8 181.8h0M111.1 182.2h0M109.6 182.0h0M111.9 181.9h0M114.6 182.1h0M110.9 181.7h0M110.7 182.3h0M111.0 181.6h0M114.2 182.0h0M117.5 181.5h0M111.7 181.6h0M114.8 181.9h0M113.2 182.2h0M115.5 182.2h0M118.1 181.7h0M117.9 182.6h0M110.1 183.0h0M110.6 182.3h0M112.2 182.5h0M118.2 183.0h0M113.3 182.7h0M117.1 182.9h0M115.4 182.7h0M110.7 182.5h0M115.4 182.8h0M116.7 183.0h0M118.1 182.5h0M110.3 183.0h0M114.7 182.4h0M115.7 182.5h0M111.7 182.6h0M114.3 182.8h0M110.3 182.9h0M115.1 183.5h0M115.6 183.7h0M109.8 183.5h0M115.6 183.7h0M115.3 183.2h0M118.1 183.7h0M111.7 183.4h0M118.1 183.3h0M113.3 183.9h0M117.6 183.3h0M116.1 183.4h0M115.5 183.7h0M110.8 183.3h0M111.6 183.3h0M110.0 183.2h0M113.2 183.4h0M110.4 183.6h0M117.9 183.6h0M112.8 184.5h0M113.5 184.0h0M113.9 183.9h0M115.6 184.0h0M112.9 184.7h0M116.4 184.6h0M115.3 184.4h0M115.8 184.7h0M111.4 184.5h0M112.3 184.1h0M116.9 184.4h0M117.1 184.6h0M114.8 184.1h0M109.8 184.3h0M116.0 184.1h0M110.3 183.9h0M111.2 184.5h0M109.7 184.1h0M112.0 185.3h0M118.3 184.7h0M110.7 185.4h0M118.1 184.8h0M112.6 185.1h0M112.5 185.0h0M113.9 184.9h0M110.2 184.8h0M111.1 184.8h0M115.1 185.3h0M112.0 185.3h0M116.0 185.0h0M114.0 184.9h0M117.8 185.1h0M110.1 184.8h0M115.7 185.0h0M115.9 184.9h0M116.6 185.3h0M110.6 186.0h0M111.4 186.1h0M116.7 186.1h0M111.7 185.6h0M115.5 186.0h0M110.9 185.7h0M114.8 185.6h0M115.2 185.7h0M112.0 185.8h0M114.4 186.1h0M110.0 186.1h0M111.7 185.7h0M115.3 186.1h0M115.1 186.2h0M111.5 185.7h0M115.5 185.7h0M111.1 185.7h0M116.4 186.2h0M116.0 187.1h0M116.6 186.5h0M112.5 186.9h0M110.2 186.8h0M110.5 186.3h0M114.2 186.4h0M117.8 187.0h0M113.8 186.5h0M110.8 186.7h0M114.3 186.6h0M116.0 186.7h0M116.5 186.4h0M110.4 186.6h0M113.9 186.5h0M115.5 186.5h0M112.5 186.7h0M115.9 186.9h0M113.0 186.7h0M117.8 187.8h0M115.1 187.2h0M113.7 187.6h0M112.2 187.1h0M118.2 187.8h0M110.9 187.5h0M115.1 187.3h0M110.4 187.7h0M116.4 187.4h0M110.5 187.4h0M110.6 187.9h0M110.2 187.3h0M116.4 187.2h0M110.7 187.2h0M111.2 187.5h0M117.0 187.2h0M111.3 187.7h0M113.5 187.4h0M110.9 188.1h0M118.2 188.0h0M112.1 188.5h0M117.5 188.6h0M113.9 188.7h0M115.0 188.1h0M113.8 188.5h0M116.1 188.0h0M111.5 188.7h0M110.7 188.6h0M112.7 188.1h0M112.0 188.3h0M118.3 188.0h0M117.2 188.2h0M111.3 188.5h0M112.8 188.1h0M113.4 188.6h0M117.2 188.4h0M110.0 189.3h0M115.0 189.4h0M118.0 189.0h0M117.1 189.4h0M112.1 189.0h0M113.1 189.0h0M113.1 188.8h0M111.8 189.4h0M113.4 189.2h0M117.4 189.3h0M111.9 189.4h0M116.7 189.5h0M116.1 189.3h0M116.8 188.9h0M115.5 189.0h0M117.0 188.8h0M114.5 189.0h0M116.9 189.0h0M117.1 190.2h0M117.4 189.6h0M117.9 190.1h0M115.7 190.0h0M110.3 190.2h0M114.6 189.9h0M112.8 190.1h0M116.5 190.2h0M111.7 189.8h0M112.0 189.6h0M112.7 189.5h0M116.7 189.7h0M110.5 189.6h0M116.2 189.7h0M113.8 189.8h0M116.7 190.3h0M112.5 190.0h0M117.5 189.9h0M117.5 190.9h0M112.6 191.0h0M114.8 190.4h0M114.9 191.0h0M114.3 190.7h0M113.5 191.0h0M115.6 190.5h0M113.0 190.6h0M118.0 190.9h0M111.0 191.0h0M110.2 190.8h0M113.6 190.9h0M113.6 190.4h0M114.4 191.0h0M116.6 190.6h0M111.8 190.9h0M116.7 190.5h0M117.4 191.1h0M113.6 191.4h0M116.0 191.8h0M111.7 191.3h0M112.7 191.7h0M111.5 191.5h0M114.2 191.6h0M111.2 191.9h0M118.4 191.5h0M116.7 191.2h0M117.6 191.5h0M116.4 191.8h0M113.0 191.8h0M111.7 191.1h0M114.2 191.8h0M117.6 191.9h0M114.3 191.8h0M114.7 191.2h0M115.3 191.7h0M113.6 192.4h0M112.2 192.1h0M113.5 192.3h0M113.9 192.0h0M110.0 192.2h0M116.0 192.5h0M112.0 192.1h0M114.3 192.0h0M115.1 192.6h0M111.7 192.4h0M116.1 192.5h0M116.0 192.5h0M112.3 192.6h0M117.8 191.9h0M117.9 192.3h0M110.7 192.0h0M116.7 192.4h0M111.2 192.3h0M115.4 193.5h0M112.8 193.3h0M112.1 192.9h0M111.4 193.0h0M115.2 192.9h0M111.4 192.9h0M110.7 192.9h0M112.7 193.1h0M111.6 193.1h0M113.7 193.5h0M114.1 193.5h0M114.0 192.9h0M115.0 192.8h0M111.4 192.8h0M115.9 193.5h0M113.4 193.0h0M113.6 193.0h0M115.8 193.8h0M111.3 194.2h0M114.8 193.5h0M117.1 194.1h0M113.0 194.0h0M117.7 193.8h0M113.7 193.7h0M114.7 194.0h0M116.2 194.3h0M111.3 193.8h0M117.2 194.1h0M115.0 194.0h0M112.9 194.3h0M114.6 193.8h0M111.6 193.6h0M117.5 194.1h0M110.3 193.8h0M114.1 194.7h0M113.1 195.0h0M113.0 194.7h0M117.8 194.8h0M114.1 194.6h0M113.3 194.8h0M116.6 194.5h0M113.2 194.6h0M113.1 195.0h0M114.6 194.5h0M112.9 195.0h0M111.4 194.9h0M110.3 194.5h0M110.6 194.9h0M111.3 194.5h0M110.6 194.5h0M116.2 194.9h0M117.7 195.9h0M114.7 195.8h0M110.9 195.8h0M113.7 195.3h0M116.3 195.8h0M113.3 195.2h0M117.3 195.7h0M115.1 195.9h0M110.4 195.1h0M111.1 195.1h0M116.0 195.6h0M111.1 195.2h0M111.6 195.6h0M115.7 195.9h0M113.1 195.9h0M113.7 195.4h0M112.2 195.3h0M118.2 196.7h0M116.0 196.0h0M111.6 196.0h0M113.0 196.5h0M110.6 196.3h0M115.8 195.9h0M113.8 196.5h0M114.9 196.3h0M117.4 196.4h0M112.9 196.2h0M117.9 196.6h0M117.7 196.3h0M111.3 196.0h0M113.3 196.5h0M110.2 196.5h0M116.6 196.3h0M110.2 196.5h0M113.6 197.2h0M114.9 197.3h0M113.5 197.5h0M118.0 197.4h0M115.2 197.0h0M113.3 196.9h0M117.6 197.3h0M116.7 197.4h0M118.3 197.3h0M112.8 197.3h0M112.3 197.2h0M111.5 197.4h0M114.2 196.9h0M117.8 196.8h0M117.8 197.3h0M111.4 197.3h0M114.9 197.4h0M115.0 197.8h0M117.9 197.6h0M116.6 197.6h0M112.5 197.6h0M117.3 197.9h0M116.2 197.7h0M116.2 198.0h0M111.0 197.9h0M116.1 197.7h0M115.6 197.7h0M113.2 198.2h0M117.9 198.3h0M113.7 198.0h0M116.8 198.1h0M113.9 198.2h0M113.5 198.3h0M114.1 197.6h0M116.4 198.4h0M115.8 198.3h0M118.3 198.7h0M116.3 198.4h0M115.4 198.6h0M112.3 199.0h0M110.5 198.7h0M111.0 199.0h0M117.5 198.3h0M114.0 198.7h0M116.1 198.9h0M113.0 199.0h0M111.8 198.4h0M116.9 198.4h0M111.8 198.7h0M113.0 198.4h0M117.8 198.7h0M116.7 199.3h0M117.7 199.3h0M117.6 199.6h0M118.2 199.7h0M115.4 199.5h0M117.2 199.5h0M111.1 199.8h0M116.8 199.6h0M116.3 199.3h0M114.0 199.8h0M118.1 199.8h0M111.6 199.6h0M114.8 199.4h0M111.6 199.2h0M114.1 199.5h0M112.5 199.4h0M114.8 199.7h0M115.1 200.0h0M117.5 200.2h0M118.0 200.7h0M111.5 200.4h0M118.1 200.2h0M114.7 200.2h0M110.6 200.1h0M111.3 200.1h0M115.4 200.4h0M118.0 200.4h0M113.2 200.7h0M115.4 200.3h0M117.3 200.4h0M113.2 200.4h0M112.7 200.7h0M112.3 200.7h0M110.8 199.9h0M114.8 200.9h0M114.4 200.8h0M117.0 201.2h0M115.8 201.4h0M118.2 201.2h0M116.0 200.7h0M110.8 201.0h0M118.1 201.0h0M114.9 200.7h0M113.7 201.4h0M115.0 201.4h0M110.5 200.9h0M111.8 201.4h0M111.2 201.4h0M112.5 201.4h0M114.5 201.0h0M118.0 201.0h0M115.9 201.6h0M116.9 202.3h0M111.3 202.1h0M112.5 201.6h0M113.3 202.0h0M117.9 202.3h0M118.2 202.0h0M115.5 201.6h0M116.1 201.9h0M113.2 202.2h0M112.4 201.6h0M111.7 201.6h0M115.0 202.1h0M111.7 201.9h0M114.9 201.9h0M113.6 201.9h0M110.5 201.5h0M113.7 202.5h0M116.3 202.5h0M116.8 202.5h0M111.2 202.7h0M113.5 202.6h0M116.4 202.5h0M115.6 203.0h0M114.0 202.7h0M117.6 202.8h0M111.9 202.4h0M111.1 202.6h0M111.2 202.8h0M113.7 202.5h0M114.4 203.0h0M112.4 202.4h0M112.8 202.6h0M117.4 203.7h0M113.8 203.2h0M110.9 203.2h0M116.9 203.6h0M111.7 203.6h0M111.0 203.5h0M113.1 203.2h0M116.1 203.7h0M114.4 203.2h0M115.6 203.4h0M115.5 203.2h0M117.4 203.1h0M112.2 203.4h0M112.0 203.2h0M115.7 203.9h0M113.1 203.3h0M115.6 204.1h0M113.6 204.5h0M113.8 204.0h0M111.1 204.3h0M117.9 204.6h0M111.3 204.3h0M114.2 204.1h0M115.6 204.3h0M116.6 204.1h0M117.5 204.6h0M114.1 204.0h0M114.2 204.0h0M115.7 204.5h0M114.9 204.7h0M110.9 204.5h0M116.5 204.0h0M113.0 204.7h0M114.9 205.3h0M113.2 205.3h0M113.3 205.3h0M112.7 205.5h0M113.8 204.7h0M111.3 205.3h0M117.0 205.2h0M111.8 205.4h0M115.9 204.8h0M113.4 205.2h0M110.7 204.7h0M113.2 205.4h0M117.9 205.0h0M117.3 205.3h0M117.0 205.2h0M117.7 206.0h0M117.5 206.0h0M112.1 205.9h0M114.2 205.8h0M113.4 205.9h0M114.9 205.7h0M112.7 205.9h0M114.3 205.8h0M115.5 205.6h0M114.5 205.7h0M116.2 206.1h0M116.3 205.9h0M112.5 206.2h0M114.4 205.8h0M112.8 205.8h0M115.7 207.0h0M114.2 206.9h0M112.2 206.7h0M113.3 206.5h0M113.3 206.9h0M115.9 206.5h0M112.4 206.9h0M115.4 206.8h0M115.2 206.9h0M112.7 206.3h0M113.3 206.3h0M117.5 206.7h0M115.5 207.1h0M116.4 206.5h0M113.1 206.4h0M116.3 207.7h0M114.2 207.4h0M112.7 207.5h0M115.7 207.8h0M116.7 207.8h0M113.8 207.4h0M113.0 207.9h0M112.1 207.2h0M112.7 207.8h0M116.7 207.4h0M116.7 207.8h0M113.8 207.3h0M116.2 207.4h0M111.6 207.8h0M113.8 207.4h0M114.9 208.1h0M111.0 208.2h0M113.4 207.9h0M113.4 208.5h0M113.1 208.4h0M115.1 208.1h0M111.0 208.4h0M115.0 208.1h0M112.2 208.6h0M117.0 208.1h0M114.8 208.4h0M113.0 207.9h0M113.1 208.4h0M115.0 208.3h0M111.7 208.1h0M113.0 209.0h0M113.3 209.4h0M111.7 209.5h0M112.5 209.4h0M112.5 209.2h0M113.4 208.7h0M116.2 209.3h0M112.7 209.3h0M114.1 209.5h0M111.3 209.0h0M112.4 209.2h0M116.1 209.4h0M114.6 209.0h0M116.2 208.8h0M112.6 209.3h0M113.8 210.3h0M111.7 209.9h0M112.4 209.5h0M111.7 209.6h0M113.4 209.8h0M114.2 209.7h0M115.5 209.9h0M117.2 209.6h0M114.3 209.9h0M113.4 210.2h0M112.4 210.2h0M113.3 209.8h0M114.9 210.0h0M112.9 209.6h0M116.8 210.6h0M111.9 210.8h0M114.3 210.6h0M113.2 211.0h0M113.2 210.6h0M116.8 210.6h0M113.6 210.4h0M115.1 210.8h0M113.8 210.6h0M112.6 210.9h0M113.9 211.0h0M113.4 210.9h0M111.4 210.5h0M116.6 211.6h0M115.0 211.5h0M114.0 211.3h0M112.4 211.6h0M115.1 211.3h0M114.9 211.2h0M114.7 211.2h0M114.2 211.4h0M114.4 211.2h0M114.0 211.6h0M112.2 211.3h0M115.1 211.5h0M114.6 212.5h0M114.4 212.1h0M113.8 212.6h0M114.4 212.5h0M113.4 212.3h0M116.4 212.6h0M114.8 212.0h0M114.6 211.9h0M116.2 212.7h0M115.2 212.1h0M115.7 212.0h0M115.7 212.3h0M111.9 213.4h0M113.7 213.4h0M114.8 213.1h0M115.6 212.9h0M115.8 213.0h0M111.9 213.0h0M112.1 212.8h0M114.6 212.8h0M112.5 212.9h0M113.0 213.4h0M115.8 213.4h0M115.9 213.9h0M115.1 213.7h0M115.7 214.1h0M114.9 213.7h0M112.3 214.2h0M114.2 214.0h0M115.4 213.6h0M114.8 213.9h0M115.1 213.9h0M112.7 214.3h0M113.1 214.9h0M115.1 214.5h0M114.6 214.6h0M112.9 214.5h0M115.5 214.6h0M114.0 214.7h0M112.2 214.9h0M114.8 215.0h0M113.4 214.5h0M113.5 215.7h0M114.5 215.4h0M114.0 215.2h0M115.3 215.5h0M114.0 215.7h0M113.0 215.7h0M113.5 215.7h0M112.6 215.3h0M114.4 215.5h0M113.7 216.4h0M113.2 216.2h0M112.5 216.5h0M113.3 216.6h0M114.2 216.4h0M114.4 216.0h0M114.9 216.1h0M115.2 216.5h0M114.6 216.6h0M114.0 217.2h0M115.5 216.9h0M113.0 217.0h0M114.2 216.8h0M113.3 217.4h0M113.8 216.8h0M113.2 217.2h0M113.3 217.1h0M114.3 217.9h0M114.3 218.2h0M112.9 218.2h0M113.4 217.5h0M115.0 218.0h0M114.4 217.7h0M115.0 217.7h0M114.9 217.7h0M114.5 218.8h0M114.0 218.7h0M113.3 218.8h0M114.8 218.4h0M114.5 218.9h0M113.3 219.0h0M115.3 218.3h0M113.7 218.4h0M113.9 219.2h0M114.4 219.3h0M114.0 219.5h0M114.1 219.7h0M115.0 219.2h0M113.8 219.1h0M114.0 219.2h0M115.0 220.5h0M115.6 220.1h0M113.5 220.5h0M114.3 220.6h0M114.3 220.1h0M113.6 220.7h0M114.6 220.3h0M114.4 221.3h0M115.4 221.1h0M113.8 221.0h0M115.5 221.0h0M115.0 221.1h0M114.5 221.2h0M114.0 221.1h0M115.6 221.6h0M114.3 222.2h0M115.9 221.5h0M115.0 222.0h0M115.5 221.9h0M113.7 221.7h0M115.2 222.1h0M113.9 222.0h0M115.1 222.8h0M113.5 222.7h0M114.3 222.8h0M114.3 222.4h0M115.2 222.5h0M115.5 222.5h0M114.8 222.9h0M113.7 222.9h0M113.6 223.8h0M113.5 223.7h0M114.4 223.2h0M114.5 223.5h0M114.6 223.2h0M114.9 223.3h0M116.1 223.4h0M114.6 223.3h0M116.2 224.2h0M115.3 224.6h0M114.5 224.5h0M114.2 224.0h0M113.5 224.3h0M115.9 224.1h0M114.7 224.5h0M114.2 224.0h0M115.0 225.0h0M116.3 225.4h0M114.1 225.1h0M114.7 224.7h0M114.8 225.4h0M114.3 225.2h0M115.6 224.8h0M116.2 224.8h0M114.3 225.3h0M113.5 225.8h0M113.8 225.9h0M113.5 225.6h0M114.1 225.6h0M113.7 225.7h0M115.0 225.6h0M116.0 225.8h0M114.2 225.7h0M116.1 225.5h0M115.7 226.4h0M116.2 226.6h0M115.3 227.0h0M114.0 226.4h0M115.6 226.8h0M115.6 226.5h0M115.1 226.4h0M114.9 226.5h0M115.3 227.3h0M114.7 227.6h0M114.3 227.7h0M115.1 227.3h0M114.4 227.5h0M115.1 227.7h0M114.9 227.4h0M115.7 228.1h0M115.8 228.6h0M115.8 228.7h0M114.9 228.6h0M115.3 228.1h0M115.8 228.4h0M115.5 229.1h0M115.0 229.4h0M115.0 228.9h0M115.3 228.9h0M115.2 229.3h0M115.0 230.0h0M115.0 229.9h0M115.4 230.0h0M114.9 229.7h0M115.6 229.8h0M115.3 232.2h0M115.6 232.5h0M115.5 232.2h0M115.5 232.3h0M115.1 232.7h0M115.9 233.3h0M115.9 233.1h0M115.8 232.9h0M115.7 233.3h0M115.9 233.4h0M115.9 233.7h0M115.8 233.9h0M115.2 233.8h0M115.8 234.2h0M115.8 234.0h0M107.6 139.5h0M119.9 170.1h0M108.3 133.7h0M120.5 171.8h0M108.1 149.5h0M107.6 158.6h0M119.7 143.7h0M120.1 198.2h0M108.1 133.0h0M107.9 145.4h0M108.2 160.7h0M108.0 149.4h0M109.4 209.1h0M120.0 175.2h0M108.4 194.1h0M120.2 164.3h0M120.0 141.3h0M119.6 203.4h0M120.6 152.7h0M118.8 128.2h0M119.6 204.2h0M119.3 204.7h0M120.7 164.7h0M108.1 183.5h0M108.1 146.1h0M119.8 142.8h0M120.6 153.3h0M107.8 129.0h0M118.3 129.9h0M107.7 163.5h0" stroke="#000" stroke-width="2.3" stroke-linecap="round" fill="none"/>
<path d="M169.2 91.2h0M171.6 102.6h0M166.3 105.0h0M140.8 108.4h0M159.8 107.1h0M159.5 110.4h0M164.3 116.2h0M165.2 117.1h0M165.6 119.5h0M196.9 118.6h0M145.9 123.4h0M155.8 125.6h0M154.9 126.7h0M165.2 124.3h0M171.9 125.2h0M175.2 122.0h0M176.1 123.4h0M181.2 123.8h0M151.7 129.8h0M153.5 131.2h0M146.8 133.6h0M168.0 131.6h0M175.7 149.7h0M175.2 152.0h0M177.6 156.0h0M167.4 157.8h0M168.5 158.4h0M148.4 160.9h0M160.7 162.0h0M164.3 164.5h0M177.9 162.9h0M181.9 161.8h0M165.2 178.6h0M164.5 184.6h0M164.3 187.7h0M131.8 190.4h0M173.0 198.0h0M199.6 149.7h0M200.8 107.7h0M228.2 102.6h0M223.5 125.3h0M265.5 125.7h0M200.3 150.7h0M217.7 171.7h0" stroke="#000" stroke-width="2.4" stroke-linecap="round" fill="none"/>
<rect x="48" y="22.5" width="261" height="259.8" fill="none" stroke="#111" stroke-width="2"/>
<path d="M85.29 282.3v-6M85.29 22.5v6M122.57 282.3v-6M122.57 22.5v6M159.86 282.3v-6M159.86 22.5v6M197.14 282.3v-6M197.14 22.5v6M234.43 282.3v-6M234.43 22.5v6M271.71 282.3v-6M271.71 22.5v6M66.64 282.3v-3M66.64 22.5v3M103.93 282.3v-3M103.93 22.5v3M141.21 282.3v-3M141.21 22.5v3M178.50 282.3v-3M178.50 22.5v3M215.79 282.3v-3M215.79 22.5v3M253.07 282.3v-3M253.07 22.5v3M290.36 282.3v-3M290.36 22.5v3M48 195.70h6M309 195.70h-6M48 109.10h6M309 109.10h-6M48 264.98h3M309 264.98h-3M48 247.66h3M309 247.66h-3M48 230.34h3M309 230.34h-3M48 213.02h3M309 213.02h-3M48 178.38h3M309 178.38h-3M48 161.06h3M309 161.06h-3M48 143.74h3M309 143.74h-3M48 126.42h3M309 126.42h-3M48 91.78h3M309 91.78h-3M48 74.46h3M309 74.46h-3M48 57.14h3M309 57.14h-3M48 39.82h3M309 39.82h-3" stroke="#111" stroke-width="1.6" fill="none"/>
<line x1="80.2" y1="233.9" x2="104.39" y2="216.96" stroke="#44e044" stroke-width="1.1"/>
<polygon points="108.9,213.8 105.89,219.08 102.90,214.83" fill="#44e044"/>
<circle cx="112.2" cy="212.0" r="2.3" fill="none" stroke="#22cc22" stroke-width="1.2"/>
<line x1="152" y1="273.1" x2="176.11" y2="255.98" stroke="#ff5cff" stroke-width="1.1"/>
<polygon points="180.6,252.8 177.62,258.10 174.61,253.86" fill="#ff5cff"/>
<circle cx="185.8" cy="249.4" r="2.4" fill="#111" stroke="#ff22ff" stroke-width="1.8"/>
<text x="48.0" y="295.6" font-size="13" text-anchor="middle" fill="#111" color="#111" font-weight="normal" >0</text>
<text x="85.3" y="295.6" font-size="13" text-anchor="middle" fill="#111" color="#111" font-weight="normal" >1</text>
<text x="122.6" y="295.6" font-size="13" text-anchor="middle" fill="#111" color="#111" font-weight="normal" >2</text>
<text x="159.9" y="295.6" font-size="13" text-anchor="middle" fill="#111" color="#111" font-weight="normal" >3</text>
<text x="197.1" y="295.6" font-size="13" text-anchor="middle" fill="#111" color="#111" font-weight="normal" >4</text>
<text x="234.4" y="295.6" font-size="13" text-anchor="middle" fill="#111" color="#111" font-weight="normal" >5</text>
<text x="271.7" y="295.6" font-size="13" text-anchor="middle" fill="#111" color="#111" font-weight="normal" >6</text>
<text x="309.0" y="295.6" font-size="13" text-anchor="middle" fill="#111" color="#111" font-weight="normal" >7</text>
<text x="44.6" y="286.7" font-size="13" text-anchor="end" fill="#111" color="#111" font-weight="normal" >0</text>
<text x="44.6" y="200.1" font-size="13" text-anchor="end" fill="#111" color="#111" font-weight="normal" >5</text>
<text x="44.6" y="113.5" font-size="13" text-anchor="end" fill="#111" color="#111" font-weight="normal" >10</text>
<text x="44.6" y="26.9" font-size="13" text-anchor="end" fill="#111" color="#111" font-weight="normal" >15</text>
<text x="5" y="14.8" font-size="16.5" text-anchor="start" fill="#111" color="#111" font-weight="normal" >(a)</text>
<text x="156.6" y="316" font-size="18" fill="#111" color="#111">R<tspan font-size="13" dy="7">1</tspan><tspan dy="-7">(Å)</tspan></text>
<text transform="translate(19.2,150.3) rotate(-90)" font-size="18" fill="#111" text-anchor="middle">R<tspan font-size="13" dy="7">2</tspan><tspan dy="-7">(Å)</tspan></text>
<path d="M589.7 146.9h0M508.8 228.6h0M531.2 237.4h0M555.5 236.3h0M566.4 110.3h0M517.9 110.8h0M555.6 81.8h0M491.5 72.3h0M523.8 243.6h0M496.2 104.4h0M557.6 160.6h0M535.7 219.3h0M490.6 170.9h0M565.1 162.2h0M518.3 233.3h0M486.3 233.0h0M560.2 98.0h0M582.5 107.2h0M533.7 209.1h0M576.7 78.0h0M519.3 241.9h0M550.9 192.8h0M499.5 213.2h0M529.3 227.9h0M539.8 231.7h0M514.4 155.1h0M600.5 89.3h0M520.2 178.5h0M562.7 210.3h0M549.9 218.4h0M495.4 167.1h0M485.7 181.5h0M572.0 144.1h0M525.0 241.8h0M573.7 178.7h0M501.9 97.2h0M561.6 141.6h0M501.1 143.9h0M486.7 207.8h0M479.6 219.0h0M479.7 199.4h0M563.5 165.5h0M524.3 119.2h0M495.5 201.2h0M490.2 148.8h0M492.8 104.1h0M556.9 226.2h0M542.8 97.5h0M496.6 178.0h0M553.2 126.2h0M576.2 131.6h0M561.7 66.2h0M509.2 85.6h0M553.4 229.2h0M538.5 130.0h0M557.9 193.6h0M543.2 160.1h0M520.1 229.2h0M555.8 124.2h0M561.9 123.4h0M524.1 66.6h0M488.2 189.3h0M543.2 228.7h0M576.0 163.4h0M596.0 53.2h0M557.4 150.9h0M505.1 206.2h0M526.1 169.9h0M494.6 83.0h0M536.8 201.9h0M556.7 242.7h0M582.2 116.4h0M560.0 101.0h0M474.7 248.5h0M559.4 141.4h0M543.2 206.8h0M562.9 76.6h0M481.7 200.7h0M550.3 243.1h0M550.3 139.2h0M524.5 243.6h0M563.8 143.1h0M548.0 72.6h0M561.9 222.6h0M572.4 117.9h0M500.0 207.5h0M533.0 239.1h0M557.7 150.9h0M486.0 104.6h0M555.8 120.9h0M493.5 200.7h0M556.0 112.6h0M503.3 169.0h0M539.3 141.1h0M537.4 199.6h0M519.4 150.2h0M547.7 197.6h0M485.8 177.6h0M564.5 143.5h0M581.3 98.7h0M531.6 146.8h0M553.8 207.6h0M488.0 149.6h0M550.8 125.1h0M545.5 208.0h0M521.8 187.2h0M497.5 94.2h0M523.9 240.3h0M499.9 131.4h0M552.3 251.3h0M535.2 153.1h0M490.2 230.3h0M510.0 185.9h0M531.9 208.2h0M544.9 84.0h0M583.0 165.5h0M527.8 252.4h0M558.7 179.7h0M475.0 226.7h0M506.3 227.7h0M512.6 192.7h0M557.4 223.7h0M572.8 235.8h0M483.5 177.0h0M510.4 161.6h0M562.5 200.0h0M552.9 159.2h0M483.6 226.8h0M504.2 237.4h0M557.6 232.2h0M558.4 212.3h0M550.0 217.4h0M551.3 36.9h0M563.3 213.1h0M553.4 143.7h0M493.5 180.5h0M529.9 244.0h0M559.6 113.5h0M485.6 168.8h0M557.0 232.6h0M549.9 117.6h0M518.9 151.9h0M590.1 90.8h0M517.5 199.4h0M550.1 214.3h0M603.0 114.0h0M531.7 145.1h0M479.8 211.0h0M528.8 144.7h0M584.3 63.9h0M577.6 138.9h0M533.9 152.0h0M479.1 177.1h0M564.9 135.6h0M550.2 245.6h0M495.3 141.0h0M556.0 231.0h0M489.7 166.4h0M542.2 119.5h0M496.0 141.2h0M547.7 80.8h0M481.1 216.3h0M552.0 230.5h0M483.6 149.1h0M509.3 110.8h0M525.0 254.1h0M529.1 195.6h0M570.0 92.7h0M492.8 200.5h0M525.9 197.9h0M527.5 245.8h0M544.0 226.0h0M566.5 167.7h0M553.6 162.4h0M541.5 219.9h0M572.8 139.1h0M510.2 102.2h0M550.0 206.6h0M491.3 178.1h0M559.4 200.3h0M555.7 102.4h0M544.4 257.9h0M537.0 195.6h0M551.6 179.1h0M494.3 246.9h0M475.4 208.2h0M497.1 203.7h0M486.0 225.3h0M519.9 70.7h0M565.7 96.5h0M557.3 52.5h0M512.3 153.6h0M561.5 63.1h0M501.9 148.7h0M507.6 144.8h0M550.8 238.8h0M495.1 131.8h0M516.7 98.1h0M558.3 141.9h0M484.7 245.9h0M562.9 187.2h0M554.4 216.7h0M476.4 171.8h0M519.5 136.2h0M516.4 170.8h0M523.9 188.2h0M506.4 217.8h0M555.5 165.8h0M565.6 207.1h0M500.8 208.2h0M590.5 135.3h0M515.3 177.5h0M569.8 219.9h0M481.7 203.2h0M509.8 246.0h0M546.3 257.4h0M543.4 183.5h0M525.3 245.7h0M499.7 198.0h0M549.6 230.4h0M554.4 236.8h0M560.5 55.5h0M540.6 225.1h0M582.4 98.0h0M562.6 101.9h0M519.6 105.7h0M508.6 238.5h0M523.1 188.2h0M533.1 116.0h0M549.8 122.4h0M505.9 185.5h0M497.1 171.3h0M548.6 227.8h0M546.8 225.6h0M518.9 128.4h0M546.5 79.3h0M521.2 86.0h0M583.8 82.9h0M488.8 208.2h0M475.5 242.5h0M577.6 218.7h0M562.8 180.8h0M580.8 158.5h0M556.7 194.5h0M550.9 236.0h0M522.8 184.6h0M561.2 140.0h0M574.8 210.2h0M585.4 127.3h0M529.9 76.0h0M567.0 135.9h0M524.4 68.6h0M549.5 229.9h0M576.1 208.2h0M554.1 93.4h0M551.7 126.4h0M519.0 106.0h0M490.8 187.6h0M560.1 182.2h0M566.2 157.8h0M477.2 164.4h0M535.2 73.9h0M552.1 233.6h0M536.8 230.6h0M558.2 185.0h0M541.2 96.8h0M555.5 215.8h0M554.2 172.3h0M525.7 185.3h0M497.3 124.8h0M528.9 235.4h0M494.9 245.2h0M546.3 251.5h0M555.2 170.3h0M475.9 169.1h0M560.7 191.1h0M541.6 250.6h0M487.9 199.9h0M577.8 186.8h0M551.7 142.8h0M552.6 222.6h0M551.9 56.5h0M519.3 206.3h0M553.9 235.6h0M546.1 252.8h0M571.9 147.0h0M558.0 222.1h0M541.5 217.0h0M482.9 210.2h0M561.5 158.2h0M591.0 106.9h0M552.4 179.5h0M555.6 204.7h0M557.4 206.1h0M540.0 188.8h0M538.7 141.2h0M475.9 178.4h0M552.2 167.7h0M501.3 164.2h0M519.7 87.8h0M551.5 151.9h0M549.9 140.9h0M542.0 195.3h0M548.5 227.6h0M539.8 170.3h0M522.8 157.4h0M558.9 162.1h0M506.3 197.5h0M551.2 144.5h0M583.3 105.0h0M574.6 166.7h0M534.4 200.9h0M595.6 124.9h0M561.6 121.6h0M526.0 199.2h0M565.9 197.7h0M543.3 195.1h0M538.5 216.5h0M544.4 223.0h0M507.2 90.5h0M539.6 216.9h0M551.6 194.6h0M570.6 227.0h0M537.5 135.1h0M506.7 239.2h0M572.8 136.1h0M560.9 239.8h0M481.2 221.4h0M551.6 254.7h0M561.5 180.7h0M524.6 209.5h0M556.2 208.4h0M478.9 222.6h0M552.9 111.2h0M528.1 223.9h0M586.1 87.0h0M552.2 147.7h0M506.4 86.2h0M539.7 129.3h0M500.6 143.6h0M552.6 169.3h0M558.5 197.8h0M492.1 153.4h0M598.1 140.6h0M519.5 196.6h0M554.5 160.9h0M553.9 240.0h0M556.0 170.4h0M475.1 238.3h0M490.0 239.6h0M564.3 155.8h0M559.3 147.1h0M536.1 159.8h0M534.8 133.0h0M545.7 204.7h0M559.6 171.7h0M552.3 237.6h0M567.1 228.5h0M542.3 122.7h0M481.7 245.1h0M523.3 213.2h0M565.1 100.2h0M508.9 84.8h0M527.3 109.4h0M546.2 209.0h0M526.5 240.2h0M529.6 226.6h0M575.7 191.4h0M540.7 204.6h0M499.6 175.8h0M555.8 96.2h0M586.5 88.4h0M563.3 131.0h0M549.6 171.3h0M550.7 240.8h0M521.0 167.6h0M510.9 244.8h0M527.0 92.8h0M583.7 52.2h0M555.9 138.9h0M531.1 200.2h0M565.7 135.3h0M551.6 183.1h0M523.8 236.1h0M528.0 177.6h0M509.2 163.5h0M559.4 86.8h0M561.4 196.8h0M498.1 203.2h0M562.1 126.3h0M508.3 94.2h0M564.4 68.0h0M524.8 161.4h0M560.9 132.6h0M571.8 245.9h0M504.9 90.0h0M506.0 239.3h0M479.2 196.1h0M555.9 189.0h0M499.6 111.2h0M554.7 226.4h0M563.1 141.9h0M499.0 238.8h0M570.0 168.9h0M501.0 178.5h0M515.3 186.8h0M558.7 48.2h0M510.8 111.9h0M543.7 107.3h0M543.9 87.0h0M504.4 171.3h0M558.3 117.9h0M506.7 181.8h0M547.2 212.1h0M565.8 142.4h0M522.9 199.2h0M529.4 101.1h0M557.0 122.7h0M558.3 219.9h0M531.9 169.5h0M561.4 90.4h0M488.3 184.8h0M583.1 95.8h0M557.6 140.8h0M558.0 211.3h0M525.4 222.3h0M518.9 129.7h0M554.6 235.4h0M563.4 214.3h0M522.6 152.8h0M561.2 139.7h0M591.8 113.3h0M492.4 231.1h0M560.6 62.8h0M551.1 232.0h0M529.7 179.4h0M536.0 188.0h0M513.4 61.4h0M514.1 90.3h0M512.7 143.1h0M555.2 230.3h0M548.6 233.7h0M511.6 160.4h0M571.7 147.6h0M543.2 257.6h0M555.5 100.0h0M553.0 228.6h0M560.7 139.2h0M538.2 126.1h0M559.0 87.3h0M511.8 147.3h0M538.5 84.9h0M576.6 119.1h0M551.6 201.9h0M550.3 201.6h0M503.1 145.7h0M503.9 118.2h0M555.7 233.2h0M503.7 199.9h0M556.8 242.9h0M550.4 233.7h0M581.2 188.4h0M550.5 184.3h0M496.6 204.6h0M559.1 188.3h0M527.2 190.2h0M540.9 70.1h0M484.7 230.2h0M559.3 226.3h0M525.2 189.1h0M486.2 179.6h0M585.9 176.6h0M495.3 176.1h0M556.8 156.4h0M489.5 183.6h0M527.9 200.0h0M564.3 114.7h0M484.3 235.4h0M539.9 128.4h0M542.4 111.6h0M571.1 150.2h0M522.5 246.7h0M535.0 91.6h0M552.2 177.5h0M588.6 102.0h0M564.0 149.3h0M481.5 220.9h0M553.2 217.8h0M488.9 154.3h0M604.3 86.5h0M529.1 86.7h0M529.9 248.0h0M479.9 154.7h0M553.4 163.7h0M505.9 193.4h0M486.7 198.9h0M497.2 183.7h0M544.0 71.6h0M488.4 153.0h0M552.5 227.9h0M490.9 166.0h0M559.9 199.0h0M474.3 246.6h0M559.8 194.9h0M562.2 219.2h0M562.5 210.6h0M547.4 176.1h0M494.7 233.6h0M498.3 93.5h0M477.1 169.9h0M506.2 255.9h0M523.1 94.0h0M568.6 217.5h0M555.6 147.8h0M556.7 188.6h0M544.8 164.0h0M498.8 206.6h0M482.0 236.1h0M481.8 228.4h0M550.0 179.7h0M539.9 199.3h0M521.2 67.6h0M560.1 121.8h0M548.3 140.1h0M562.9 151.1h0M473.9 245.1h0M523.4 139.6h0M564.3 247.1h0M555.5 224.4h0M479.4 242.5h0M522.8 248.9h0M503.4 183.2h0M566.4 139.2h0M559.0 101.1h0M534.1 217.8h0M562.9 193.5h0M482.7 230.7h0M529.5 219.9h0M558.0 206.9h0M543.3 103.1h0M550.6 135.4h0M535.5 235.2h0M480.3 192.9h0M560.1 208.2h0M512.1 165.4h0M554.5 95.7h0M563.4 213.2h0M545.9 74.7h0M479.8 188.3h0M554.9 169.5h0M567.8 254.9h0M523.2 182.5h0M494.2 177.5h0M555.3 144.5h0M556.5 101.2h0M501.5 182.2h0M586.5 114.2h0M558.3 169.8h0M590.6 159.7h0M535.7 131.7h0M534.4 233.1h0M559.1 241.8h0M481.7 178.2h0M550.7 212.8h0M597.3 106.5h0M492.1 224.0h0M521.4 179.7h0M554.6 167.2h0M533.0 103.7h0M565.7 117.5h0M561.0 139.8h0M510.6 182.5h0M574.4 177.0h0M593.2 148.1h0M556.1 237.8h0M570.9 203.7h0M525.7 213.2h0M517.9 90.7h0M515.4 214.7h0M492.6 95.9h0M519.4 177.5h0M520.4 249.4h0M483.4 205.1h0M540.8 165.3h0M596.4 97.2h0M529.9 145.6h0M537.1 177.0h0M489.9 139.2h0M568.9 133.5h0M478.5 162.2h0M559.0 75.5h0M560.1 150.2h0M539.9 154.8h0M556.7 163.8h0M558.4 154.3h0M524.8 131.0h0M562.9 150.8h0M559.5 73.4h0M532.2 119.1h0M481.3 229.5h0M554.7 108.7h0M503.4 199.8h0M479.9 162.1h0M508.9 186.4h0M562.4 169.3h0M567.2 103.5h0M518.2 239.8h0M505.5 200.0h0M533.4 207.1h0M555.1 218.9h0M478.1 231.9h0M532.9 184.3h0M551.7 80.1h0M562.0 125.6h0M497.9 207.1h0M509.4 209.7h0M499.1 137.1h0M555.3 184.1h0M553.4 184.1h0M523.1 126.7h0M513.5 211.8h0M538.2 96.8h0M522.3 198.2h0M548.6 103.5h0M572.3 159.9h0M530.8 154.8h0M548.1 156.6h0M478.5 166.8h0M554.0 99.8h0M500.6 117.0h0M571.4 183.2h0M585.7 108.4h0M556.1 181.3h0M549.9 161.1h0M560.5 213.6h0M566.0 196.2h0M600.4 58.9h0M552.6 234.0h0M507.3 173.5h0M550.7 211.2h0M531.6 158.0h0M551.7 168.5h0M546.4 230.6h0M528.7 190.1h0M473.3 213.7h0M542.1 218.5h0M562.1 152.7h0M507.3 190.3h0M534.4 177.8h0M473.4 172.0h0M553.2 102.5h0M557.6 133.9h0M548.5 173.7h0M556.9 153.0h0M560.1 198.5h0M556.5 187.2h0M578.6 177.2h0M515.1 155.7h0M514.1 122.3h0M519.3 199.9h0M524.4 171.9h0M555.0 187.4h0M557.3 231.0h0M538.1 101.0h0M551.4 151.6h0M551.8 146.8h0M559.8 228.6h0M496.6 105.6h0M545.3 221.8h0M567.4 230.6h0M510.6 100.9h0M565.5 182.9h0M477.4 240.9h0M538.1 85.2h0M552.0 137.1h0M530.1 140.4h0M484.2 77.5h0M562.3 147.9h0M559.9 163.5h0M552.5 210.3h0M556.3 106.4h0M556.6 120.9h0M479.5 232.7h0M482.0 166.2h0M541.1 144.2h0M557.0 143.4h0M554.2 191.4h0M550.7 243.2h0M568.3 55.2h0M510.7 169.7h0M589.3 58.4h0M551.9 165.9h0M561.2 209.5h0M559.4 174.0h0M506.1 254.3h0M564.9 212.0h0M485.0 246.3h0M558.6 81.1h0M553.6 199.9h0M546.7 117.4h0M565.0 217.3h0M555.9 105.3h0M591.2 90.2h0M556.1 119.4h0M499.7 141.6h0M560.2 239.3h0M552.5 177.4h0M558.4 145.4h0M489.7 189.0h0M550.5 139.5h0M512.4 206.0h0M496.1 230.8h0M549.8 60.6h0M562.6 132.1h0M557.1 159.1h0M569.7 153.2h0M534.6 124.6h0M499.7 228.9h0M562.8 164.2h0M519.0 84.2h0M572.0 225.8h0M559.1 141.2h0M553.7 203.3h0M560.4 244.1h0M563.0 110.6h0M530.7 99.2h0M609.8 85.3h0M541.4 251.7h0M501.2 235.6h0M553.5 134.7h0M565.1 221.9h0M558.1 180.7h0M510.2 182.8h0M576.9 91.3h0M498.9 176.4h0M504.3 92.5h0M519.8 154.2h0M482.6 201.5h0M569.3 165.5h0M494.1 252.1h0M476.6 181.5h0M560.2 187.6h0M541.9 182.7h0M484.2 206.3h0M533.2 208.5h0M522.1 165.1h0M531.5 200.6h0M556.5 135.5h0M527.1 130.0h0M506.2 251.2h0M533.9 130.0h0M542.0 231.3h0M546.8 111.3h0M502.2 150.9h0M550.9 97.1h0M501.1 156.9h0M517.4 140.4h0M509.8 53.5h0M482.9 199.3h0M546.6 241.8h0M502.3 163.7h0M478.0 166.0h0M480.7 201.9h0M559.6 212.9h0M476.6 241.7h0M546.5 130.1h0M559.6 231.8h0M504.2 210.7h0M492.3 209.8h0M531.3 181.3h0M564.1 182.4h0M521.8 134.9h0M560.4 132.0h0M551.1 242.6h0M563.3 137.7h0M506.7 123.3h0M545.1 231.9h0M528.7 90.8h0M491.6 145.2h0M595.2 151.1h0M511.2 212.8h0M545.8 238.0h0M539.3 137.7h0M567.8 109.4h0M540.5 92.4h0M511.3 69.6h0M558.1 178.3h0M544.8 134.3h0M506.3 216.1h0M489.0 175.2h0M489.4 242.3h0M483.9 219.3h0M503.0 153.8h0M531.9 162.0h0M498.7 136.5h0M475.5 172.0h0M557.1 102.9h0M505.3 219.0h0M521.4 118.6h0M505.5 164.7h0M533.6 122.3h0M556.1 138.0h0M511.1 157.3h0M579.3 142.4h0M511.9 212.4h0M474.1 225.2h0M509.1 177.5h0M557.1 196.6h0M534.1 232.6h0M522.3 188.5h0M560.3 248.9h0M558.9 150.7h0M558.3 177.3h0M554.4 138.4h0M543.5 54.2h0M563.3 157.7h0M500.5 155.5h0M535.2 76.5h0M480.8 68.3h0M575.1 98.2h0M518.3 255.0h0M557.1 209.1h0M485.3 145.4h0M557.7 175.3h0M489.6 178.0h0M595.3 109.5h0M559.9 187.7h0M503.7 205.2h0M592.4 163.5h0M495.6 167.4h0M558.7 165.7h0M536.7 213.0h0M483.3 163.2h0M483.9 182.7h0M485.6 201.5h0M573.0 182.6h0M533.0 247.3h0M538.6 224.5h0M525.8 232.5h0M559.9 227.0h0M479.1 222.5h0M545.0 71.9h0M477.5 163.2h0M506.4 125.1h0M536.9 192.0h0M505.7 91.1h0M532.0 136.9h0M563.1 110.3h0M546.1 146.3h0M526.7 203.6h0M531.0 173.5h0M521.8 152.6h0M486.4 220.7h0M530.3 199.4h0M568.4 194.6h0M561.5 177.5h0M558.9 168.8h0M521.4 208.9h0M578.1 211.9h0M556.5 201.5h0M479.3 218.9h0M583.4 144.4h0M553.0 217.7h0M560.3 243.0h0M511.1 194.6h0M564.9 152.2h0M548.5 85.3h0M558.6 195.6h0M577.1 163.0h0M502.4 210.1h0M576.8 136.5h0M556.7 139.2h0M490.9 85.1h0M546.5 52.8h0M553.9 94.3h0M560.7 117.2h0M517.4 119.7h0M598.0 115.1h0M506.2 142.4h0M531.4 84.9h0M554.9 245.9h0M562.1 123.0h0M561.8 150.8h0M543.6 195.4h0M537.3 141.1h0M571.7 151.2h0M557.0 170.4h0M530.1 186.8h0M567.9 256.4h0M518.7 224.3h0M490.7 255.1h0M487.0 182.8h0M548.7 67.4h0M545.2 151.3h0M561.7 139.5h0M504.1 84.2h0M561.5 171.8h0M517.0 189.5h0M501.6 171.0h0M492.9 200.6h0M521.1 209.8h0M486.7 138.7h0M560.8 89.6h0M575.2 159.3h0M554.6 198.9h0M562.6 156.9h0M539.2 161.4h0M531.5 213.9h0M553.6 92.7h0M559.9 135.2h0M560.5 173.5h0M511.2 257.3h0M493.6 152.4h0M540.3 195.2h0M532.4 182.2h0M536.0 195.8h0M591.7 155.3h0M560.5 244.7h0M564.3 103.5h0M550.6 218.2h0M527.0 143.4h0M514.6 87.8h0M498.0 154.8h0M549.3 132.4h0M584.8 151.6h0M566.7 139.9h0M557.2 158.3h0M496.0 109.1h0M490.7 196.3h0M545.4 87.8h0M499.6 180.4h0M546.5 159.5h0M473.7 214.2h0M519.9 200.1h0M505.0 216.5h0M545.2 123.3h0M543.0 216.3h0M542.2 68.8h0M578.8 217.0h0M571.0 197.4h0M539.0 226.7h0M561.3 182.7h0M559.5 205.9h0M509.7 194.9h0M476.6 184.3h0M580.6 198.1h0M482.9 170.4h0M557.4 150.6h0M531.1 235.1h0M552.8 156.8h0M544.4 146.6h0M519.7 213.0h0M535.5 107.3h0M525.6 240.7h0M558.5 170.6h0M501.8 252.7h0M547.8 123.2h0M506.1 237.5h0M575.9 86.5h0M554.0 220.4h0M534.2 210.7h0M491.2 224.7h0M522.2 225.8h0M579.3 80.1h0M540.4 236.2h0M549.8 98.1h0M549.1 158.0h0M555.5 159.4h0M527.9 167.4h0M478.0 165.6h0M476.3 187.0h0M540.8 246.4h0M518.7 131.5h0M554.4 233.8h0M528.2 93.1h0M551.0 128.5h0M504.9 107.6h0M591.6 147.1h0M602.0 95.8h0M557.7 159.7h0M557.5 208.6h0M538.1 175.6h0M521.1 201.5h0M507.4 92.2h0M532.6 152.5h0M595.7 148.4h0M547.7 177.0h0M504.2 209.7h0M516.3 173.3h0M549.7 204.2h0M555.9 182.6h0M562.0 54.2h0M573.2 223.3h0M563.8 207.8h0M473.5 209.8h0M556.0 175.8h0M561.9 130.3h0M522.1 121.4h0M555.7 235.0h0M501.3 158.6h0M577.1 160.1h0M586.6 97.1h0M485.2 245.1h0M550.1 69.4h0M484.7 192.2h0M539.4 230.0h0M501.1 249.8h0M535.9 219.7h0M556.3 60.0h0M509.8 134.9h0M475.7 198.0h0M521.6 202.5h0M550.4 237.5h0M561.9 238.5h0M520.0 172.5h0M556.2 242.3h0M552.1 178.7h0M498.6 177.6h0M481.8 142.0h0M532.6 233.4h0M490.2 168.2h0M565.8 149.2h0M559.7 87.5h0M506.2 114.6h0M574.6 170.6h0M492.3 93.4h0M474.8 206.3h0M489.6 195.4h0M475.0 209.4h0M475.8 233.7h0M554.2 160.0h0M513.4 109.3h0M529.9 96.2h0M555.5 148.8h0M517.7 192.3h0M515.0 146.1h0M563.3 175.7h0M550.7 157.9h0M555.1 238.5h0M555.1 238.2h0M546.6 114.0h0M563.1 191.5h0M486.3 187.0h0M545.7 126.7h0M495.3 157.6h0M560.6 131.3h0M486.5 237.4h0M537.0 173.8h0M576.9 108.8h0M488.0 166.1h0M555.1 196.7h0M556.5 157.4h0M479.6 216.1h0M586.8 109.1h0M565.4 153.5h0M556.4 161.5h0M496.5 113.8h0M591.0 106.6h0M480.5 176.2h0M494.9 254.2h0M542.2 208.9h0M485.0 226.0h0M552.6 223.7h0M582.4 85.9h0M475.7 204.9h0M523.2 140.0h0M511.8 211.7h0M549.8 189.9h0M535.3 146.0h0M479.3 189.2h0M494.0 213.5h0M557.4 146.5h0M489.0 225.4h0M506.2 238.8h0M486.7 135.5h0M537.8 98.0h0M497.2 204.9h0M541.6 73.0h0M555.9 197.6h0M550.0 216.0h0M522.8 206.6h0M552.3 152.9h0M552.0 87.0h0M561.7 129.2h0M520.8 186.9h0M514.8 223.6h0M565.3 226.8h0M529.4 239.9h0M552.3 131.1h0M533.2 185.3h0M550.2 146.7h0M562.3 130.1h0M559.3 157.4h0M538.1 252.9h0M491.3 223.6h0M488.0 99.2h0M489.1 210.0h0M529.1 223.2h0M580.0 157.2h0M558.9 216.0h0M532.0 89.1h0M480.0 168.6h0M484.1 143.5h0M584.9 102.0h0M548.9 174.2h0M481.1 205.3h0M556.4 217.5h0M559.0 233.4h0M552.9 148.3h0M516.7 254.6h0M543.8 108.8h0M515.3 205.2h0M485.8 96.1h0M511.5 141.0h0M562.0 240.4h0M555.4 232.6h0M512.4 211.6h0M508.2 200.6h0M530.0 101.9h0M509.5 156.4h0M512.9 181.0h0M505.9 99.7h0M487.0 200.6h0M481.4 237.5h0M523.4 243.6h0M480.6 136.9h0M556.2 113.9h0M509.8 197.4h0M540.8 172.2h0M540.1 194.0h0M489.0 167.3h0M493.5 251.6h0M562.0 219.7h0M514.5 91.2h0M499.4 175.0h0M551.2 122.3h0M481.7 198.5h0M577.7 118.4h0M580.7 164.9h0M538.1 78.7h0M500.1 201.8h0M552.3 205.8h0M511.3 123.3h0M486.5 222.7h0M486.9 208.9h0M524.4 170.3h0M555.6 253.6h0M563.4 98.2h0M478.5 255.2h0M501.0 102.4h0M565.8 76.8h0M473.9 171.0h0M512.8 253.9h0M541.4 95.3h0M526.2 104.4h0M520.7 176.6h0M510.9 109.5h0M489.0 154.8h0M516.8 157.9h0M549.4 92.0h0M546.1 249.0h0M554.1 223.2h0M473.8 186.2h0M487.2 249.0h0M550.9 151.2h0M550.6 209.6h0M542.1 142.0h0M523.2 87.2h0M500.6 241.0h0M550.9 186.7h0M486.6 179.8h0M566.5 229.1h0M592.7 152.2h0M500.7 246.7h0M530.4 176.4h0M584.9 183.8h0M551.5 179.6h0M559.8 121.4h0M501.7 198.6h0M484.3 151.4h0M569.9 44.8h0M549.7 130.1h0M579.7 57.8h0M577.4 191.7h0M551.5 170.5h0M561.0 130.7h0M481.5 209.8h0M550.4 132.6h0M490.2 225.9h0M569.9 147.6h0M508.7 236.3h0M506.7 193.8h0M527.3 185.8h0M561.4 172.5h0M560.3 206.9h0M483.8 178.9h0M584.4 87.1h0M547.7 150.3h0M559.4 236.2h0M536.5 92.4h0M543.9 93.3h0M565.5 224.7h0M537.9 240.0h0M560.8 154.6h0M494.4 111.3h0M490.0 229.9h0M564.5 78.7h0M507.7 133.1h0M518.3 248.9h0M552.6 149.8h0M563.2 176.6h0M555.6 162.4h0M482.0 174.4h0M550.7 245.8h0M540.2 114.6h0M530.9 209.5h0M483.7 197.9h0M553.1 132.0h0M548.2 91.7h0M558.7 116.4h0M604.0 87.5h0M523.4 117.1h0M550.0 194.6h0M524.3 245.9h0M521.3 220.4h0M488.0 172.0h0M514.9 128.4h0M542.6 202.2h0M561.5 162.7h0M515.6 48.6h0M486.2 223.2h0M569.6 107.0h0M580.9 105.1h0M530.3 240.2h0M564.6 158.9h0M514.7 148.6h0M525.6 229.9h0M552.3 233.9h0M555.8 230.9h0M528.7 132.2h0M564.7 237.5h0M529.4 148.9h0M484.3 181.4h0M486.3 166.9h0M547.8 94.4h0M548.2 197.3h0M547.7 92.8h0M519.0 104.6h0M546.0 90.4h0M494.8 75.3h0M531.3 146.9h0M524.5 181.1h0M556.6 239.0h0M562.9 103.5h0M499.9 181.7h0M549.7 186.9h0M541.4 84.1h0M498.8 193.5h0M604.3 99.5h0M598.6 101.8h0M558.8 236.0h0M536.8 185.8h0M506.4 143.2h0M554.7 227.2h0M489.2 209.6h0M580.4 121.9h0M564.4 203.8h0M528.1 85.1h0M475.5 244.0h0M491.7 156.4h0M563.3 44.6h0M502.9 204.7h0M574.6 170.7h0M563.4 95.3h0M564.3 106.9h0M528.7 98.2h0M529.4 224.6h0M542.3 176.0h0M566.8 168.8h0M538.0 124.2h0M608.0 94.2h0M552.1 202.6h0M563.2 220.2h0M507.2 92.4h0M564.5 236.9h0M555.4 233.8h0M481.0 222.1h0M510.6 241.9h0M559.2 87.0h0M524.7 253.8h0M532.5 226.3h0M559.0 211.2h0M503.4 172.4h0M545.5 89.7h0M477.2 196.6h0M521.4 187.7h0M554.7 198.7h0M497.9 87.9h0M571.7 157.8h0M550.9 235.0h0M560.4 129.5h0M530.3 119.1h0M476.6 245.4h0M555.3 242.7h0M537.4 186.4h0M564.8 97.9h0M515.5 232.7h0M522.8 158.5h0M542.7 84.5h0M563.3 223.5h0M545.1 206.7h0M538.0 249.1h0M564.8 256.9h0M556.7 106.2h0M485.2 229.3h0M580.8 180.5h0M520.3 188.0h0M551.1 222.7h0M554.1 221.5h0M552.5 215.9h0M534.3 249.0h0M570.9 238.0h0M542.1 127.9h0M512.5 185.3h0M525.2 185.8h0M569.4 81.8h0M551.2 134.5h0M606.8 55.3h0M553.8 140.2h0M478.8 225.3h0M546.0 195.1h0M544.8 169.4h0M586.6 109.8h0M485.3 202.5h0M542.2 207.8h0M514.2 218.8h0M515.2 146.3h0M476.9 211.7h0M483.8 237.9h0M527.0 211.1h0M524.0 244.4h0M554.0 218.0h0M501.8 96.8h0M473.6 169.2h0M529.4 202.8h0M476.6 231.4h0M565.4 95.6h0M537.4 179.3h0M532.7 244.0h0M557.7 171.3h0M476.6 209.5h0M552.5 235.4h0M542.7 90.1h0M554.4 204.6h0M543.9 131.9h0M475.7 164.6h0M482.6 219.0h0M560.8 209.0h0M523.8 161.6h0M559.7 218.3h0M527.7 84.3h0M561.1 139.9h0M491.0 222.7h0M547.3 116.9h0M556.8 160.8h0M475.1 228.3h0M559.1 186.3h0M531.7 192.4h0M478.9 221.6h0M557.4 113.9h0M560.7 149.6h0M528.8 209.2h0M505.6 233.2h0M563.4 188.0h0M479.7 147.6h0M489.0 243.3h0M501.3 150.7h0M520.4 95.1h0M554.9 207.9h0M538.7 98.3h0M535.5 244.9h0M554.4 215.0h0M525.6 209.4h0M554.1 179.4h0M554.3 133.9h0M541.7 120.2h0M542.3 184.6h0M555.8 241.7h0M560.8 196.9h0M558.1 233.2h0M508.6 111.8h0M517.8 148.9h0M526.6 223.9h0M507.4 252.2h0M510.7 212.5h0M555.1 183.2h0M542.4 198.1h0M556.4 212.7h0M483.2 254.2h0M545.4 175.8h0M498.3 95.3h0M556.9 207.7h0M484.1 212.6h0M497.9 240.6h0M486.0 255.1h0M555.2 114.7h0M557.2 145.1h0M548.9 143.2h0M490.3 175.2h0M480.5 205.7h0M525.7 257.5h0M474.8 231.0h0M498.7 103.0h0M552.8 114.5h0M480.8 180.9h0M540.8 109.1h0M553.0 124.6h0M569.5 183.3h0M498.5 209.1h0M519.8 217.4h0M537.6 168.6h0M528.4 207.1h0M535.6 199.9h0M480.5 252.7h0M524.9 195.6h0M477.5 181.0h0M534.5 111.4h0M512.3 214.0h0M560.2 229.1h0M554.2 177.3h0M505.3 198.4h0M582.0 187.9h0M554.3 144.9h0M581.4 126.7h0M562.8 173.2h0M533.9 189.1h0M482.0 106.1h0M572.8 81.2h0M481.3 242.4h0M582.5 95.8h0M531.7 246.1h0M543.8 155.2h0M519.5 208.8h0M557.9 74.4h0M516.0 200.9h0M563.9 165.1h0M500.4 159.3h0M546.3 71.8h0M551.4 223.0h0M534.0 224.8h0M518.1 211.1h0M614.6 74.4h0M510.5 171.2h0M564.2 198.9h0M528.3 134.5h0M587.8 144.5h0M500.3 152.7h0M485.5 225.7h0M570.7 169.5h0M512.5 187.4h0M492.3 167.2h0M486.7 176.8h0M499.3 161.6h0M560.6 164.5h0M477.6 213.9h0M530.8 256.3h0M484.6 206.7h0M535.7 179.6h0M517.2 209.0h0M561.8 72.3h0M556.5 206.7h0M501.7 138.9h0M517.2 199.2h0M561.0 106.8h0M473.1 168.6h0M559.3 104.8h0M540.7 236.0h0M560.0 117.0h0M509.6 244.8h0M489.6 246.9h0M550.1 220.5h0M563.3 195.4h0M580.9 185.6h0M489.0 233.6h0M560.4 78.4h0M515.0 108.9h0M516.1 219.9h0M516.7 127.6h0M545.4 190.4h0M520.9 137.0h0M555.1 58.7h0M561.3 181.5h0M529.1 243.9h0M488.3 201.6h0M527.7 52.3h0M537.5 124.6h0M531.3 214.0h0M556.7 163.6h0M518.2 169.7h0M525.9 112.7h0M552.0 241.7h0M540.7 60.0h0M552.1 231.8h0M523.7 218.0h0M525.3 185.2h0M490.5 168.0h0M564.2 125.3h0M523.9 176.9h0M557.5 144.8h0M528.6 233.2h0M521.6 133.6h0M529.4 207.0h0M522.6 251.6h0M562.8 134.1h0M582.4 177.5h0M550.9 137.7h0M554.7 111.9h0M553.1 140.1h0M557.6 171.7h0M565.0 130.0h0M562.9 162.6h0M541.2 114.6h0M503.2 204.6h0M552.8 232.1h0M532.4 164.4h0M566.7 98.6h0M577.5 59.4h0M568.8 173.5h0M534.5 133.6h0M531.0 160.8h0M555.5 185.8h0M554.1 157.6h0M556.7 236.1h0M545.5 142.3h0M486.5 232.5h0M538.2 180.2h0M490.1 247.8h0M553.2 119.8h0M538.6 123.3h0M548.4 230.0h0M508.5 234.2h0M545.3 71.7h0M484.4 195.2h0M496.3 143.8h0M560.4 214.6h0M534.8 125.9h0M503.9 200.9h0M481.0 161.1h0M543.2 200.5h0M474.2 232.0h0M498.9 175.9h0M565.6 150.4h0M576.4 156.2h0M511.8 248.1h0M545.2 239.8h0M509.9 236.8h0M488.0 179.0h0M559.7 133.0h0M555.9 155.4h0M554.7 156.3h0M529.1 124.1h0M522.6 113.0h0M549.8 168.6h0M555.0 218.5h0M530.9 122.8h0M561.1 205.3h0M594.3 130.6h0M535.3 131.2h0M534.2 84.8h0M557.4 124.8h0M557.2 105.7h0M529.1 146.0h0M494.0 160.6h0M519.2 98.1h0M528.2 206.0h0M571.1 96.4h0M555.2 256.4h0M502.8 144.9h0M474.3 160.2h0M542.2 176.8h0M582.0 146.7h0M602.3 53.1h0M561.3 107.5h0M551.9 157.2h0M498.3 220.7h0M543.7 126.9h0M509.5 229.6h0M485.0 216.3h0M559.5 166.2h0M494.2 253.7h0M606.4 106.5h0M528.5 162.2h0M555.6 130.5h0M537.6 163.0h0M550.0 185.3h0M571.9 208.8h0M581.4 155.5h0M574.1 95.7h0M510.7 224.7h0M553.9 144.9h0M587.2 145.0h0M559.8 167.0h0M479.4 205.2h0M526.9 208.5h0M558.9 145.1h0M520.1 200.8h0M556.0 94.1h0M530.2 185.0h0M499.5 233.6h0M523.7 112.0h0M483.8 252.6h0M558.3 223.1h0M521.4 230.0h0M488.1 221.3h0M492.2 182.7h0M561.5 50.3h0M546.9 227.0h0M510.3 239.3h0M556.9 106.4h0M524.3 151.8h0M497.1 149.3h0M563.0 210.2h0M527.3 109.9h0M551.1 117.6h0M526.2 159.0h0M526.9 177.6h0M496.7 173.8h0M482.8 158.7h0M536.9 257.1h0M551.3 185.1h0M550.0 150.2h0M563.1 220.8h0M520.1 94.1h0M529.4 232.4h0M518.2 103.8h0M555.2 157.0h0M584.7 124.3h0M517.8 167.5h0M537.5 221.8h0M505.7 236.8h0M511.2 109.0h0M521.8 116.1h0M511.4 135.5h0M540.7 138.5h0M561.2 144.0h0M563.8 220.4h0M579.0 218.0h0M554.5 153.7h0M517.4 232.9h0M509.8 184.6h0M497.5 124.3h0M544.6 242.7h0M474.9 244.9h0M580.0 139.9h0M554.3 224.5h0M565.1 248.1h0M485.3 124.5h0M553.2 135.6h0M592.8 155.2h0M571.3 45.6h0M549.5 185.4h0M492.0 219.1h0M491.1 194.1h0M558.3 196.6h0M541.6 243.9h0M571.3 183.8h0M551.7 214.0h0M516.9 201.3h0M557.0 194.7h0M520.2 154.1h0M524.9 241.0h0M486.0 218.6h0M556.6 233.3h0M542.2 109.9h0M548.1 181.9h0M498.8 200.5h0M533.0 233.7h0M478.4 177.8h0M541.5 154.8h0M569.9 43.3h0M534.7 231.5h0M512.7 193.6h0M528.3 217.5h0M553.1 159.1h0M494.8 244.4h0M552.5 224.7h0M535.9 244.8h0M523.3 91.7h0M493.4 143.2h0M482.8 218.4h0M555.5 65.6h0M541.0 242.6h0M527.7 141.6h0M526.2 231.4h0M550.3 229.4h0M520.8 204.2h0M516.8 176.7h0M558.4 62.7h0M599.1 120.3h0M489.0 226.5h0M582.9 105.1h0M515.4 222.3h0M552.4 104.9h0M585.8 160.4h0M489.0 142.0h0M505.9 153.4h0M548.6 83.2h0M562.3 231.2h0M557.6 255.6h0M527.6 195.4h0M497.0 219.8h0M564.8 187.2h0M537.1 228.2h0M488.7 248.4h0M532.1 157.6h0M583.4 144.9h0M566.4 95.9h0M533.8 210.8h0M559.1 232.4h0M542.2 134.1h0M565.2 230.0h0M550.3 252.1h0M557.4 105.9h0M559.4 184.2h0M504.8 173.0h0M552.0 125.5h0M550.3 77.6h0M483.7 136.3h0M495.1 177.4h0M556.4 237.3h0M601.9 125.5h0M528.3 164.5h0M519.8 117.4h0M495.8 87.0h0M529.5 205.0h0M489.0 226.0h0M520.9 168.9h0M525.9 237.1h0M560.6 244.2h0M537.9 97.7h0M556.7 101.0h0M560.2 163.1h0M545.9 198.1h0M536.8 144.2h0M556.2 179.1h0M557.4 166.6h0M558.5 153.0h0M511.5 165.4h0M539.1 56.4h0M552.3 102.2h0M505.3 186.4h0M503.2 158.3h0M552.9 188.5h0M561.9 198.5h0M541.6 187.6h0M558.2 223.4h0M524.8 230.9h0M481.7 231.1h0M569.6 219.7h0M547.3 115.4h0M519.8 138.8h0M476.0 203.5h0M518.3 118.4h0M483.6 173.9h0M544.7 95.2h0M521.6 233.6h0M531.3 159.0h0M589.0 137.1h0M494.4 252.0h0M473.4 198.8h0M500.5 122.4h0M522.4 133.9h0M557.7 172.3h0M544.9 102.5h0M546.6 123.3h0M558.0 204.1h0M580.1 144.8h0M585.1 102.1h0M560.9 96.3h0M514.4 165.2h0M551.3 152.6h0M562.7 112.8h0M521.1 125.7h0M550.5 113.2h0M553.6 188.6h0M547.6 238.0h0M550.1 238.7h0M552.8 181.6h0M567.1 92.8h0M560.8 209.1h0M501.6 184.0h0M560.1 201.6h0M585.4 97.9h0M540.7 109.9h0M551.7 196.7h0M542.2 59.9h0M530.9 131.6h0M558.7 186.2h0M593.9 93.0h0M480.5 214.7h0M552.7 225.7h0M552.1 126.8h0M574.0 100.3h0M539.0 197.2h0M546.4 90.7h0M506.6 224.4h0M485.9 156.2h0M554.1 144.2h0M553.7 204.1h0M603.6 86.8h0M523.8 234.8h0M555.8 155.2h0M541.3 198.9h0M555.1 208.9h0M475.9 246.2h0M549.6 205.0h0M517.8 197.8h0M553.7 209.7h0M553.4 231.7h0M550.4 254.6h0M538.3 235.8h0M557.0 248.3h0M493.2 212.3h0M564.6 134.4h0M584.2 87.3h0M507.0 152.5h0M526.7 147.0h0M576.5 166.4h0M504.9 198.1h0M528.3 185.6h0M531.1 187.7h0M553.1 150.1h0M531.7 129.8h0M529.7 256.2h0M562.3 189.8h0M561.1 73.3h0M552.5 152.6h0M539.3 214.3h0M519.9 97.1h0M495.5 164.9h0M529.8 171.1h0M508.3 118.9h0M565.4 121.7h0M556.3 139.4h0M475.0 218.2h0M557.2 181.0h0M505.8 234.3h0M562.5 185.6h0M544.4 130.7h0M487.3 201.7h0M538.0 238.7h0M562.7 60.0h0M497.6 257.8h0M557.8 182.2h0M555.5 85.0h0M590.2 50.6h0M542.4 69.9h0M526.3 181.0h0M548.5 73.8h0M510.7 221.1h0M514.5 180.3h0M556.8 237.1h0M517.4 151.1h0M493.1 213.4h0M480.0 207.4h0M579.5 91.5h0M475.4 211.8h0M534.1 239.0h0M509.7 113.6h0M519.4 176.1h0M530.3 165.0h0M474.0 206.5h0M554.2 206.9h0M513.2 129.7h0M558.4 119.9h0M565.1 41.9h0M558.8 155.2h0M560.4 187.1h0M548.1 195.6h0M576.7 60.2h0M550.4 113.0h0M509.6 207.5h0M516.0 182.9h0M558.1 218.2h0M512.7 155.0h0M537.0 145.4h0M580.6 56.2h0M541.7 59.6h0M576.5 119.3h0M518.7 212.9h0M564.1 180.0h0M544.0 96.9h0M485.9 111.0h0M533.1 231.7h0M509.8 216.2h0M476.6 217.7h0M508.7 149.1h0M510.2 193.8h0M507.4 144.5h0M510.0 170.9h0M562.4 119.5h0M590.6 160.1h0M530.6 108.4h0M560.3 154.3h0M476.9 195.1h0M554.8 109.5h0M564.7 109.1h0M562.6 172.7h0M519.1 239.9h0M512.5 218.6h0M552.2 139.6h0M561.8 151.6h0M530.3 130.9h0M520.0 215.5h0M527.4 133.9h0M555.3 100.9h0M550.0 228.3h0M560.9 146.7h0M558.7 176.7h0M502.5 202.1h0M548.9 82.8h0M529.5 173.2h0M518.2 83.9h0M506.3 129.0h0M528.0 215.1h0M546.7 59.4h0M552.4 157.6h0M507.9 192.7h0M479.9 156.6h0M548.5 199.7h0M559.9 109.3h0M582.2 90.7h0M512.3 142.6h0M556.0 241.8h0M546.2 229.0h0M522.1 174.6h0M565.5 233.3h0M563.2 225.7h0M553.0 184.3h0M584.1 142.8h0M525.7 115.7h0M491.0 188.7h0M548.1 166.2h0M499.3 182.9h0M561.0 161.3h0M526.2 173.8h0M559.4 182.8h0M554.0 83.0h0M580.4 158.4h0M569.1 147.5h0M538.8 152.8h0M560.5 182.0h0M562.0 205.4h0M550.8 146.3h0M544.0 110.2h0M584.9 153.2h0M505.0 162.8h0M533.2 229.6h0M523.6 198.8h0M497.1 120.5h0M500.4 158.6h0M490.2 112.9h0M591.5 127.0h0M542.5 78.5h0M493.2 126.1h0M481.5 220.8h0M564.0 158.3h0M550.6 228.1h0M482.7 177.4h0M532.5 204.6h0M536.3 88.3h0M555.7 246.2h0M553.4 111.3h0M559.5 211.3h0M565.5 206.4h0M543.4 230.0h0M510.0 247.1h0M550.1 161.6h0M540.9 52.4h0M560.7 242.9h0M556.7 176.5h0M489.6 180.1h0M551.7 92.4h0M528.7 213.4h0M486.0 195.6h0M518.3 134.1h0M575.9 204.8h0M561.8 128.3h0M561.5 162.2h0M553.5 213.1h0M564.4 193.4h0M551.5 185.3h0M505.9 257.2h0M546.6 215.2h0M558.0 210.1h0M478.9 233.7h0M585.6 127.1h0M554.1 208.8h0M503.9 238.8h0M480.1 188.2h0M589.3 131.1h0M527.6 220.0h0M534.2 145.2h0M552.0 151.8h0M515.9 245.6h0M497.1 185.7h0M557.3 190.7h0M551.8 140.2h0M557.9 214.1h0M536.7 188.2h0M523.7 96.9h0M510.3 165.6h0M516.5 160.0h0M515.0 70.1h0M519.6 57.4h0M485.7 225.4h0M576.7 133.9h0M568.7 127.7h0M475.5 233.2h0M530.7 209.8h0M550.2 212.7h0M538.3 181.3h0M500.6 245.3h0M475.5 169.0h0M480.2 93.4h0M555.0 179.8h0M489.5 188.7h0M537.8 72.0h0M579.6 154.9h0M529.4 143.5h0M586.0 166.4h0M487.4 245.8h0M555.2 237.9h0M576.2 165.9h0M509.7 243.2h0M537.1 163.1h0M521.8 245.9h0M561.0 135.3h0M507.5 114.2h0M546.5 99.4h0M563.0 245.4h0M516.5 156.0h0M525.6 184.9h0M556.3 193.9h0M484.4 196.0h0M520.0 135.2h0M556.9 173.8h0M574.1 116.0h0M485.5 169.6h0M533.3 180.8h0M548.0 244.7h0M488.1 198.9h0M474.2 219.7h0M548.2 234.4h0M560.7 123.9h0M513.5 154.1h0M518.9 110.4h0M538.4 239.0h0M511.0 135.1h0M549.3 204.7h0M482.6 248.2h0M481.9 143.6h0M507.4 218.3h0M547.1 62.1h0M543.5 160.9h0M562.6 212.2h0M522.7 106.6h0M559.3 210.1h0M536.4 199.6h0M554.8 67.6h0M520.1 188.5h0M552.8 191.6h0M500.8 171.2h0M534.2 172.7h0M550.3 103.0h0M556.4 173.0h0M564.9 149.0h0M567.7 147.3h0M549.3 111.2h0M508.5 102.3h0M562.2 165.1h0M517.8 141.2h0M554.9 190.9h0M512.4 169.3h0M482.7 175.1h0M558.4 153.5h0M497.1 159.0h0M533.0 238.3h0M532.1 214.1h0M480.3 132.9h0M505.4 137.1h0M533.6 225.5h0M509.2 107.6h0M511.8 242.1h0M505.4 171.2h0M560.1 197.5h0M506.9 154.4h0M550.3 215.7h0M541.1 219.3h0M556.2 205.4h0M515.5 185.8h0M549.9 199.2h0M503.8 215.9h0M501.9 154.4h0M506.9 166.9h0M560.7 126.7h0M589.3 161.0h0M539.4 197.1h0M523.1 121.3h0M553.2 154.3h0M499.2 201.6h0M565.9 246.8h0M547.3 163.9h0M554.6 129.9h0M560.1 151.7h0M503.3 189.4h0M535.2 139.4h0M559.7 66.0h0M554.7 226.1h0M540.5 140.3h0M586.3 139.0h0M555.1 95.2h0M556.0 151.0h0M563.7 121.0h0M476.2 225.1h0M483.5 230.0h0M558.9 99.3h0M561.2 95.4h0M557.5 189.2h0M551.5 136.1h0M525.5 93.1h0M532.7 202.4h0M562.4 60.4h0M557.2 213.0h0M526.6 172.8h0M486.7 174.9h0M487.7 65.1h0M543.7 62.0h0M484.6 239.0h0M521.2 246.8h0M552.8 160.2h0M559.7 51.6h0M555.1 233.0h0M508.4 194.2h0M512.7 141.6h0M501.5 88.3h0M484.3 143.8h0M562.1 242.3h0M521.6 132.2h0M533.5 243.3h0M510.1 187.7h0M548.0 150.5h0M560.8 175.0h0M575.6 157.3h0M585.5 73.3h0M503.6 184.7h0M540.0 209.1h0M573.6 128.0h0M561.1 141.7h0M563.2 88.0h0M554.3 145.3h0M566.8 221.2h0M502.7 140.4h0M529.7 91.5h0M503.0 153.1h0M502.0 193.9h0M502.8 62.2h0M531.7 70.4h0M533.0 248.2h0M559.6 233.3h0M517.5 194.0h0M558.1 128.1h0M563.2 133.0h0M524.9 209.9h0M509.9 232.2h0M549.0 104.8h0M547.1 203.3h0M517.9 183.3h0M517.4 223.0h0M555.2 68.0h0M558.6 236.6h0M553.7 108.3h0M600.1 118.8h0M479.1 232.2h0M587.2 159.7h0M547.7 235.0h0M560.2 186.8h0M563.9 207.0h0M530.4 144.0h0M598.5 135.0h0M560.0 237.4h0M529.4 246.9h0M554.6 114.6h0M557.6 230.9h0M486.7 203.6h0M488.8 141.2h0M552.6 239.6h0M553.4 137.4h0M601.6 84.7h0M501.9 171.5h0M485.5 252.7h0M565.1 154.4h0M597.5 63.1h0M500.7 185.0h0M560.3 153.7h0M550.7 136.1h0M567.1 112.2h0M497.4 252.5h0M594.7 153.3h0M526.5 163.4h0M497.1 212.3h0M553.2 257.6h0M557.4 187.2h0M534.9 128.7h0M486.0 209.9h0M527.9 139.7h0M530.1 186.8h0M492.1 136.9h0M512.1 228.7h0M556.1 176.1h0M558.9 146.3h0M550.6 165.4h0M561.6 214.9h0M556.5 202.3h0M561.3 162.0h0M557.9 229.5h0M593.6 139.8h0M515.4 203.3h0M490.5 256.3h0M542.7 138.1h0M513.6 215.4h0M485.7 250.1h0M560.0 120.9h0M514.6 227.7h0M515.9 211.6h0M505.1 133.6h0M520.9 229.0h0M487.0 223.9h0M563.2 125.5h0M568.5 141.5h0M495.9 181.7h0M557.4 142.6h0M573.4 132.3h0M556.9 233.2h0M554.0 205.8h0M548.3 97.5h0M548.0 176.4h0M508.8 134.2h0M557.6 228.2h0M489.8 80.4h0M556.2 199.2h0M565.3 245.5h0M546.8 126.1h0M502.6 177.8h0M515.3 188.4h0M501.4 88.9h0M557.4 198.0h0M505.4 183.7h0M550.7 257.2h0M493.9 91.8h0M519.5 215.9h0M558.2 186.2h0M499.0 174.7h0M555.4 174.3h0M510.2 208.3h0M551.9 257.0h0M565.6 161.4h0M477.5 236.5h0M553.2 201.0h0M500.3 193.6h0M557.4 153.8h0M540.8 186.8h0M529.0 190.8h0M531.3 144.4h0M547.0 188.5h0M535.4 94.1h0M557.6 134.3h0M545.6 242.1h0M550.4 190.8h0M552.7 185.7h0M502.3 257.1h0M574.7 132.0h0M540.5 170.1h0M553.5 87.6h0M522.9 193.9h0M560.5 211.4h0M553.7 193.8h0M559.3 235.2h0M504.2 218.1h0M517.4 110.6h0M486.8 232.1h0M558.2 198.2h0M564.9 187.2h0M549.6 99.3h0M532.2 135.1h0M553.5 233.5h0M555.1 179.1h0M503.5 108.8h0M493.3 187.5h0M518.6 153.5h0M504.1 207.8h0M592.4 86.2h0M502.8 171.9h0M532.4 51.0h0M570.4 215.0h0M561.6 255.7h0M527.8 94.2h0M478.2 218.2h0M546.5 62.4h0M485.3 226.9h0M530.4 181.9h0M499.4 231.0h0M554.4 221.6h0M552.7 234.4h0M488.6 162.8h0M487.2 200.9h0M558.5 140.3h0M477.2 176.1h0M562.6 154.3h0M545.3 178.2h0M485.2 157.4h0M513.2 232.7h0M497.3 247.5h0M569.8 246.6h0M529.2 256.8h0M537.0 62.1h0M500.8 165.9h0M481.0 183.7h0M542.6 244.3h0M550.6 141.9h0M510.9 153.4h0M519.9 98.4h0M550.7 114.6h0M499.0 202.1h0M550.8 204.8h0M540.4 211.2h0M547.6 47.8h0M553.2 194.7h0M560.6 208.5h0M554.5 97.6h0M518.1 234.5h0M562.3 146.3h0M511.7 188.9h0M526.2 172.2h0M513.5 132.9h0M503.0 105.3h0M559.3 190.3h0M578.4 167.4h0M573.8 233.8h0M508.4 246.3h0M565.0 175.5h0M487.3 243.5h0M557.4 154.2h0M581.7 180.7h0M556.8 113.9h0M482.0 239.1h0M479.2 237.0h0M551.5 132.5h0M558.8 228.5h0M491.1 198.3h0M580.8 111.5h0M510.0 177.2h0M487.6 202.0h0M532.7 126.5h0M560.8 174.0h0M534.4 243.8h0M531.1 156.9h0M559.8 196.3h0M602.5 116.4h0M499.0 194.0h0M522.5 176.8h0M559.5 143.5h0M499.2 123.8h0M525.6 150.0h0M538.2 153.8h0M562.6 221.5h0M504.2 257.5h0M550.8 156.9h0M570.2 218.6h0M547.1 239.8h0M542.7 72.6h0M511.0 97.1h0M501.2 104.2h0M534.7 175.0h0M535.5 108.4h0M519.6 180.1h0M498.0 167.8h0M560.5 151.8h0M562.4 228.4h0M566.3 158.4h0M552.4 133.1h0M547.3 107.8h0M553.4 83.0h0M585.0 186.1h0M555.4 101.0h0M487.5 189.7h0M551.1 236.8h0M568.0 131.3h0M487.7 256.5h0M558.6 145.3h0M591.0 77.9h0M511.8 232.5h0M529.3 137.4h0M549.1 137.1h0M593.7 106.0h0M488.6 194.5h0M561.9 202.6h0M555.9 188.0h0M560.5 196.4h0M523.6 197.1h0M481.5 212.2h0M581.9 90.2h0M528.0 160.6h0M561.3 200.1h0M512.5 165.2h0M545.1 143.1h0M519.9 88.9h0M565.4 102.6h0M496.1 84.2h0M549.6 129.3h0M496.0 142.8h0M491.6 212.7h0M484.8 229.5h0M506.5 214.3h0M549.6 234.8h0M533.5 151.8h0M518.9 155.4h0M513.9 219.5h0M548.2 138.1h0M550.7 217.2h0M556.0 193.8h0M510.2 162.9h0M476.5 180.3h0M545.7 110.2h0M543.2 201.0h0M489.3 156.5h0M533.3 93.5h0M480.6 179.7h0M477.1 244.7h0M550.6 106.9h0M551.4 179.9h0M512.2 155.4h0M570.4 159.6h0M578.4 191.1h0M553.8 92.2h0M533.7 131.2h0M554.0 243.5h0M547.2 240.9h0M493.9 209.9h0M462.6 80.6h0M461.7 91.3h0M472.2 62.2h0M466.9 137.2h0M456.5 161.6h0M463.5 206.0h0M456.5 221.2h0M470.4 172.3h0M458.3 106.6h0M465.2 80.6h0M625.0 37.8h0M618.1 39.3h0M614.6 82.1h0M612.9 111.2h0M599.0 167.7h0M604.2 131.0h0" stroke="#0000ff" stroke-width="2.6" stroke-linecap="round" fill="none"/>
<path d="M435.0 36.7h0M434.3 37.2h0M435.2 36.8h0M434.8 36.8h0M434.4 37.3h0M435.8 38.2h0M434.8 37.8h0M434.5 38.0h0M434.5 37.9h0M434.0 38.0h0M433.0 39.3h0M434.7 38.7h0M433.8 39.2h0M435.6 38.6h0M433.0 38.8h0M435.0 40.3h0M433.0 39.8h0M433.4 39.8h0M435.3 39.8h0M433.5 39.8h0M434.5 41.4h0M435.8 41.3h0M435.3 41.2h0M432.8 41.1h0M434.6 41.0h0M433.8 42.3h0M434.7 41.8h0M434.3 42.4h0M433.5 41.8h0M435.1 41.7h0M433.7 43.3h0M433.2 42.8h0M432.9 42.8h0M434.3 43.2h0M434.9 43.1h0M434.7 43.8h0M434.0 44.1h0M435.0 44.1h0M435.4 44.2h0M434.7 44.0h0M435.4 44.7h0M436.4 44.6h0M432.8 44.9h0M435.1 44.9h0M435.6 45.4h0M434.0 45.8h0M433.6 46.0h0M433.7 46.2h0M434.1 46.2h0M436.4 46.2h0M433.1 46.8h0M435.7 47.0h0M432.8 46.6h0M436.4 47.2h0M432.8 47.3h0M433.5 48.2h0M433.0 48.4h0M432.6 47.9h0M434.3 47.8h0M434.5 48.2h0M432.3 48.7h0M435.8 48.8h0M433.7 48.9h0M432.3 48.9h0M433.5 49.0h0M434.7 50.2h0M433.7 50.3h0M432.5 49.8h0M434.7 50.0h0M433.4 49.8h0M434.7 50.7h0M435.4 51.4h0M434.8 51.2h0M435.3 51.2h0M435.3 51.3h0M433.9 52.4h0M432.1 51.9h0M432.3 51.7h0M434.5 51.9h0M432.6 51.9h0M435.2 52.7h0M434.2 53.0h0M435.2 53.1h0M433.2 53.3h0M435.7 52.9h0M436.3 54.2h0M432.2 53.9h0M435.6 53.8h0M434.8 53.9h0M432.1 53.7h0M433.9 54.9h0M435.7 55.1h0M433.6 55.2h0M435.6 55.0h0M432.6 54.8h0M434.8 56.3h0M435.8 56.3h0M436.0 55.8h0M434.3 56.2h0M435.0 55.8h0M433.3 57.4h0M434.0 56.8h0M432.6 56.9h0M436.5 57.0h0M432.2 56.7h0M434.9 57.9h0M433.4 58.2h0M432.8 58.1h0M432.4 58.0h0M435.5 58.0h0M434.8 58.8h0M433.4 58.6h0M435.6 59.0h0M433.1 59.3h0M435.9 58.9h0M433.2 59.9h0M432.3 59.7h0M435.8 60.0h0M432.8 59.9h0M435.8 59.9h0M435.3 60.8h0M434.3 61.3h0M435.4 60.9h0M436.1 60.9h0M433.4 60.8h0M433.6 62.2h0M434.2 62.2h0M435.8 61.7h0M434.0 62.4h0M434.2 61.7h0M436.4 63.1h0M433.3 63.2h0M433.0 62.7h0M435.5 63.3h0M435.9 62.8h0M433.7 63.9h0M435.7 64.1h0M432.5 64.1h0M432.3 63.8h0M435.9 64.3h0M432.3 64.7h0M433.8 65.2h0M436.4 64.8h0M435.7 64.9h0M433.0 65.0h0M432.9 65.7h0M434.1 66.3h0M434.6 66.1h0M433.5 66.3h0M435.2 65.7h0M434.2 67.0h0M434.1 66.7h0M436.4 66.9h0M434.4 67.3h0M435.3 66.8h0M435.0 67.7h0M432.2 67.8h0M432.4 67.8h0M434.3 67.9h0M434.5 68.1h0M433.7 69.3h0M435.3 68.8h0M434.0 68.7h0M433.7 69.1h0M434.8 69.3h0M436.1 69.8h0M435.3 69.7h0M433.0 69.9h0M434.9 69.9h0M432.7 70.2h0M432.2 71.3h0M433.8 70.7h0M435.3 71.0h0M434.1 70.6h0M436.4 70.7h0M434.9 72.1h0M433.5 72.3h0M435.6 72.1h0M432.4 72.2h0M434.7 72.4h0M433.5 73.0h0M434.8 73.0h0M433.7 72.8h0M435.3 72.9h0M433.2 72.8h0M435.0 74.2h0M435.9 73.7h0M434.0 74.2h0M435.1 74.0h0M435.1 73.8h0M434.7 75.1h0M434.3 75.3h0M435.4 74.6h0M432.2 75.1h0M436.4 75.1h0M436.0 75.9h0M434.2 76.2h0M432.9 76.1h0M434.5 76.0h0M434.2 75.8h0M434.4 77.2h0M433.8 77.2h0M436.1 76.9h0M433.5 76.7h0M433.1 77.3h0M433.8 77.6h0M433.6 77.9h0M433.5 77.7h0M434.9 77.9h0M432.3 78.2h0M434.4 79.0h0M435.9 79.2h0M433.3 78.6h0M434.5 79.2h0M434.4 78.6h0M434.0 79.7h0M435.2 80.0h0M432.5 80.4h0M433.5 79.7h0M433.9 79.8h0M434.0 81.3h0M433.8 80.8h0M436.0 81.0h0M434.5 80.9h0M436.4 81.3h0M433.0 82.3h0M435.5 81.6h0M433.6 82.1h0M435.1 81.7h0M433.1 81.6h0M433.6 83.3h0M434.3 82.7h0M435.4 83.3h0M435.9 83.0h0M435.9 83.3h0M432.4 83.8h0M432.8 83.6h0M434.5 84.0h0M432.5 84.3h0M433.7 83.9h0M434.0 84.6h0M433.6 85.2h0M435.5 84.8h0M434.9 84.9h0M433.1 85.4h0M433.1 85.9h0M433.1 86.2h0M434.3 86.3h0M436.1 86.0h0M436.3 86.1h0M434.0 87.1h0M434.4 86.7h0M433.6 87.0h0M434.1 87.0h0M433.8 87.4h0M434.0 87.8h0M434.5 87.8h0M434.2 88.2h0M434.7 87.9h0M436.1 87.8h0M433.5 88.7h0M433.9 88.8h0M436.1 89.1h0M434.5 88.7h0M434.9 88.9h0M433.5 89.8h0M436.2 89.9h0M432.8 89.9h0M432.8 90.1h0M433.1 89.9h0M434.2 90.9h0M434.1 91.2h0M435.6 90.9h0M436.4 91.0h0M434.1 91.2h0M435.4 92.1h0M433.3 91.9h0M433.0 91.6h0M435.7 91.9h0M435.0 92.1h0M434.8 92.8h0M432.7 92.8h0M435.1 93.1h0M433.3 93.3h0M434.1 93.4h0M432.1 93.9h0M433.3 94.0h0M434.8 93.7h0M435.7 94.0h0M435.1 94.0h0M433.2 94.9h0M435.7 95.3h0M434.1 95.2h0M436.3 94.8h0M435.9 95.2h0M432.9 96.2h0M436.0 96.0h0M436.4 95.8h0M432.7 96.3h0M433.6 95.9h0M432.7 96.9h0M436.4 96.6h0M436.0 97.0h0M435.1 97.3h0M434.8 97.2h0M432.7 97.9h0M435.3 98.0h0M434.9 97.7h0M433.1 98.4h0M435.6 98.3h0M434.0 99.2h0M434.2 98.8h0M433.8 98.9h0M434.7 99.2h0M434.7 99.2h0M435.8 100.0h0M433.9 99.7h0M433.9 99.9h0M434.8 100.1h0M436.4 100.4h0M432.7 101.2h0M433.6 101.1h0M434.3 101.3h0M435.5 100.8h0M435.0 101.1h0M435.2 101.7h0M435.4 102.1h0M434.6 102.3h0M435.2 102.4h0M435.9 102.0h0M433.6 102.9h0M433.3 102.8h0M432.4 102.9h0M433.4 103.3h0M435.1 102.8h0M436.4 104.1h0M435.8 104.2h0M433.1 103.6h0M432.9 104.3h0M433.2 104.1h0M432.1 105.1h0M432.9 105.1h0M434.6 105.0h0M433.4 105.2h0M434.9 105.0h0M435.9 106.1h0M434.6 106.1h0M435.4 106.4h0M435.9 105.8h0M434.4 105.9h0M433.3 107.3h0M436.3 106.9h0M434.5 107.4h0M433.6 107.2h0M432.7 107.0h0M433.5 108.0h0M435.5 107.9h0M434.8 108.2h0M435.6 107.9h0M435.0 108.1h0M432.9 109.1h0M432.9 109.0h0M433.6 109.1h0M433.1 108.7h0M434.3 109.2h0M436.5 109.9h0M433.0 109.9h0M435.9 110.3h0M432.8 109.9h0M434.4 109.6h0M434.8 110.7h0M434.1 111.1h0M433.6 111.2h0M436.2 111.2h0M433.3 110.7h0M436.2 111.6h0M435.8 112.0h0M435.7 111.8h0M433.0 112.4h0M434.9 112.2h0M434.6 113.2h0M432.3 113.0h0M436.2 113.3h0M434.9 112.6h0M435.0 112.7h0M434.6 114.2h0M434.3 113.7h0M433.5 114.0h0M436.1 113.7h0M433.3 113.9h0M433.3 115.1h0M435.5 114.8h0M434.5 115.0h0M432.9 114.8h0M433.0 115.1h0M432.3 115.8h0M432.2 115.8h0M434.1 116.0h0M432.2 116.0h0M435.1 116.1h0M433.8 117.1h0M432.5 117.4h0M436.2 117.0h0M433.8 117.1h0M434.9 117.3h0M434.9 117.9h0M434.0 118.2h0M432.6 118.3h0M432.4 118.3h0M432.3 117.7h0M435.6 118.7h0M436.3 119.1h0M434.3 118.8h0M434.1 119.3h0M433.7 119.2h0M435.0 119.8h0M435.1 120.1h0M433.7 120.1h0M433.9 120.2h0M435.3 119.9h0M433.2 120.9h0M433.3 120.9h0M434.8 120.8h0M433.9 121.1h0M433.4 121.2h0M435.5 122.1h0M433.4 122.3h0M435.5 122.3h0M432.7 122.1h0M433.1 121.8h0M435.4 122.9h0M435.0 123.2h0M434.4 123.2h0M432.8 123.0h0M434.5 123.1h0M433.9 123.7h0M435.5 124.2h0M435.3 123.8h0M434.5 123.6h0M433.1 124.1h0M433.8 125.1h0M433.2 124.7h0M434.5 124.9h0M435.6 124.9h0M435.5 125.4h0M435.0 126.3h0M435.6 126.0h0M435.2 126.2h0M435.7 126.3h0M435.4 126.4h0M434.9 127.0h0M435.1 127.0h0M433.2 126.7h0M433.0 127.2h0M433.8 127.2h0M435.0 128.2h0M434.8 127.7h0M435.9 127.8h0M433.1 128.3h0M433.9 128.0h0M435.4 129.3h0M433.0 129.1h0M436.0 128.8h0M432.5 128.9h0M435.7 129.1h0M434.8 129.7h0M433.7 129.8h0M433.6 129.9h0M436.0 130.2h0M433.0 130.3h0M433.5 130.9h0M435.8 131.0h0M434.6 131.3h0M434.0 131.1h0M434.4 130.9h0M434.6 132.4h0M433.4 131.9h0M433.5 132.1h0M435.2 132.2h0M435.9 132.1h0M435.1 133.0h0M432.6 132.8h0M433.3 133.0h0M435.4 133.3h0M435.7 133.0h0M433.7 133.7h0M435.2 134.2h0M435.1 134.0h0M434.6 134.1h0M435.5 134.3h0M433.7 135.0h0M435.1 135.2h0M432.6 135.3h0M433.9 135.2h0M435.5 134.7h0M434.7 136.4h0M432.5 135.6h0M434.0 136.0h0M435.4 136.0h0M436.1 136.1h0M435.0 136.7h0M435.6 137.1h0M432.7 136.8h0M432.8 137.0h0M435.6 137.2h0M433.4 137.8h0M434.6 138.0h0M434.4 138.3h0M432.5 137.7h0M433.9 137.8h0M433.8 139.4h0M433.9 138.8h0M434.0 139.0h0M433.9 138.9h0M435.2 138.9h0M434.1 140.2h0M432.5 140.0h0M434.5 140.0h0M434.8 139.6h0M435.5 140.1h0M433.9 140.9h0M434.7 140.7h0M434.7 141.2h0M433.9 140.7h0M434.9 141.3h0M435.7 142.2h0M434.5 141.7h0M435.3 142.4h0M434.7 142.3h0M434.3 141.8h0M435.7 143.3h0M432.7 142.8h0M434.2 143.2h0M433.3 143.3h0M433.8 142.7h0M435.3 144.2h0M436.1 144.1h0M434.6 144.1h0M435.7 144.4h0M435.1 143.8h0M435.3 145.2h0M436.0 144.9h0M436.2 144.7h0M436.1 145.2h0M433.4 145.0h0M435.3 145.8h0M436.1 145.9h0M433.7 145.7h0M435.6 145.7h0M433.0 146.4h0M432.4 146.7h0M435.7 147.0h0M432.7 146.7h0M434.6 147.2h0M433.6 147.0h0M433.6 147.6h0M434.2 147.8h0M436.1 147.7h0M436.1 147.6h0M435.0 147.9h0M434.4 148.9h0M436.0 149.3h0M434.1 149.1h0M434.8 148.8h0M435.9 148.7h0M434.3 150.4h0M435.3 150.3h0M433.1 149.9h0M432.8 149.9h0M433.0 150.3h0M434.5 150.9h0M436.1 151.2h0M435.9 151.1h0M434.3 150.7h0M433.7 151.0h0M434.0 151.8h0M435.5 151.6h0M434.0 151.7h0M434.7 151.8h0M432.9 152.1h0M432.8 152.7h0M434.8 153.4h0M435.7 152.6h0M434.8 152.7h0M434.4 153.0h0M432.9 153.9h0M433.8 153.7h0M435.2 154.4h0M433.6 153.7h0M433.2 154.4h0M433.3 154.9h0M432.5 154.9h0M434.1 155.4h0M435.1 154.8h0M436.1 154.8h0M435.4 155.6h0M434.5 155.7h0M435.8 156.2h0M434.4 155.7h0M432.6 155.6h0M432.8 157.3h0M435.6 156.9h0M435.4 157.2h0M432.6 157.0h0M435.5 157.3h0M433.8 157.7h0M432.9 157.9h0M432.7 157.9h0M432.6 158.4h0M436.1 158.0h0M435.3 158.6h0M435.1 158.7h0M434.5 159.2h0M435.7 159.2h0M433.5 158.6h0M432.6 160.2h0M436.0 160.3h0M435.9 159.6h0M435.2 160.3h0M434.9 160.1h0M433.3 160.7h0M435.6 161.1h0M433.9 161.0h0M434.8 160.7h0M434.1 161.0h0M432.8 162.4h0M433.2 162.1h0M434.6 161.6h0M435.8 161.9h0M433.2 161.6h0M432.7 162.8h0M435.0 162.9h0M434.1 163.2h0M433.5 162.9h0M434.5 162.7h0M434.0 164.3h0M434.0 163.6h0M432.8 163.9h0M434.3 164.1h0M434.6 163.9h0M435.3 165.0h0M432.7 165.4h0M436.1 165.2h0M436.0 165.0h0M435.1 165.2h0M433.8 165.7h0M434.1 166.2h0M434.5 166.0h0M435.4 165.9h0M435.0 165.9h0M433.9 167.2h0M435.5 167.2h0M434.8 167.1h0M435.8 166.8h0M435.4 167.1h0M432.9 168.0h0M434.5 168.0h0M436.0 167.9h0M432.4 168.3h0M433.1 167.8h0M434.0 169.1h0M433.6 168.7h0M433.6 168.7h0M433.2 169.3h0M433.3 168.9h0M433.5 169.9h0M436.1 170.3h0M433.4 169.8h0M433.1 170.2h0M435.6 169.8h0M433.4 171.0h0M435.5 170.7h0M433.1 171.0h0M436.1 171.2h0M435.9 170.9h0M433.3 172.4h0M434.9 171.9h0M433.2 171.6h0M435.3 172.0h0M432.9 171.9h0M433.0 173.4h0M433.2 172.8h0M432.8 173.1h0M434.1 172.7h0M435.8 173.3h0M433.5 174.0h0M434.7 174.1h0M435.2 173.7h0M434.9 173.9h0M434.5 174.0h0M434.8 175.3h0M435.6 174.7h0M434.4 174.8h0M434.3 175.3h0M433.9 174.9h0M433.5 176.0h0M434.8 176.1h0M435.4 176.3h0M435.9 175.8h0M434.7 176.0h0M433.7 177.3h0M433.9 177.1h0M434.4 177.4h0M435.6 176.7h0M433.5 177.2h0M433.4 177.9h0M435.2 178.3h0M436.1 177.7h0M434.6 178.2h0M432.6 177.8h0M432.4 178.6h0M434.2 178.9h0M433.8 179.3h0M434.1 179.4h0M435.4 178.9h0M434.5 180.0h0M435.9 179.9h0M435.0 179.7h0M433.0 180.1h0M433.8 179.7h0M435.1 181.3h0M434.9 180.7h0M435.8 180.9h0M433.8 181.1h0M436.1 181.1h0M436.2 181.7h0M434.5 182.2h0M433.8 182.0h0M435.0 182.3h0M433.8 181.9h0M432.5 183.3h0M435.5 182.7h0M434.9 183.2h0M435.5 183.2h0M433.1 183.0h0M434.6 183.8h0M435.8 184.3h0M433.5 183.7h0M434.7 183.9h0M434.3 183.7h0M435.0 184.8h0M434.0 185.2h0M435.3 184.8h0M434.6 185.2h0M434.1 185.0h0M433.5 186.1h0M433.2 186.2h0M434.9 185.6h0M433.4 185.9h0M435.1 185.9h0M435.2 187.3h0M434.5 186.6h0M433.0 186.9h0M433.5 187.4h0M434.8 186.9h0M435.4 187.6h0M433.6 188.2h0M434.6 187.9h0M435.2 188.1h0M434.2 187.7h0M432.9 189.1h0M434.1 189.0h0M433.6 189.3h0M434.2 188.8h0M433.3 189.3h0M434.0 189.8h0M433.3 190.1h0M435.5 189.8h0M434.8 189.6h0M432.9 189.9h0M435.0 190.7h0M434.6 191.0h0M435.5 191.0h0M433.2 190.7h0M436.0 191.3h0M435.5 191.9h0M433.3 192.0h0M434.0 192.3h0M436.1 191.7h0M433.4 192.2h0M435.5 193.1h0M433.1 193.0h0M434.6 192.7h0M434.2 192.8h0M433.6 193.1h0M435.7 193.7h0M435.8 194.2h0M434.5 194.1h0M435.7 194.2h0M432.7 193.7h0M433.2 194.6h0M434.9 195.0h0M432.7 195.4h0M435.9 195.0h0M433.2 195.1h0M435.6 196.1h0M434.7 195.7h0M435.7 196.3h0M435.4 196.2h0M435.2 196.3h0M433.7 197.4h0M436.1 196.6h0M434.0 197.3h0M434.2 196.7h0M434.4 196.6h0M433.3 198.0h0M435.8 198.2h0M433.4 198.2h0M433.6 198.0h0M435.3 197.9h0M435.0 199.2h0M433.7 198.8h0M432.6 199.3h0M433.1 198.6h0M433.1 199.1h0M435.0 199.8h0M436.2 199.8h0M435.9 200.1h0M435.7 200.2h0M434.4 200.3h0M432.5 200.9h0M433.5 200.8h0M432.6 201.0h0M434.0 201.0h0M433.3 201.3h0M433.6 202.4h0M434.7 201.7h0M434.7 201.7h0M435.8 202.2h0M435.0 202.1h0M434.3 202.9h0M436.2 203.1h0M434.8 203.1h0M434.3 203.3h0M435.3 202.8h0M436.1 204.3h0M433.5 204.3h0M436.1 204.1h0M433.3 204.3h0M434.0 203.8h0M435.5 204.9h0M433.0 204.7h0M433.7 205.2h0M433.5 205.2h0M433.7 204.6h0M433.1 206.2h0M434.2 206.1h0M433.8 205.7h0M432.7 206.0h0M434.1 205.9h0M432.8 206.7h0M435.3 207.3h0M435.9 206.7h0M433.2 206.6h0M433.8 207.1h0M435.9 207.8h0M434.5 207.7h0M433.6 207.9h0M433.8 208.0h0M434.1 208.0h0M435.3 208.8h0M432.7 209.0h0M434.8 209.3h0M433.5 208.6h0M435.3 209.2h0M432.5 209.8h0M434.7 210.3h0M433.6 209.6h0M435.5 210.1h0M435.4 210.2h0M433.3 211.2h0M433.1 210.7h0M434.9 211.4h0M434.3 211.2h0M432.7 210.8h0M434.0 211.8h0M433.2 211.8h0M432.8 212.0h0M433.4 211.6h0M433.2 211.7h0M433.4 213.1h0M434.8 213.4h0M434.6 213.3h0M432.8 213.1h0M434.0 213.0h0M434.9 213.8h0M434.6 213.7h0M435.0 214.1h0M433.2 213.9h0M432.4 213.7h0M433.5 215.3h0M434.7 215.1h0M432.9 215.4h0M435.6 215.1h0M433.3 214.9h0M434.5 216.0h0M432.9 215.7h0M435.2 216.1h0M435.9 216.4h0M433.9 216.4h0M434.5 216.9h0M433.6 216.7h0M433.5 217.2h0M432.5 216.8h0M435.5 216.7h0M435.2 218.4h0M433.2 217.7h0M434.9 218.2h0M435.0 218.2h0M433.7 218.3h0M435.8 218.8h0M433.6 218.9h0M435.3 218.8h0M435.2 219.3h0M433.3 219.2h0M435.9 219.9h0M435.8 219.6h0M433.7 220.0h0M434.1 219.8h0M434.0 219.7h0M436.1 220.8h0M434.0 221.0h0M435.4 220.8h0M435.9 221.4h0M435.6 221.3h0M433.0 221.9h0M433.0 222.3h0M432.4 221.8h0M436.2 222.2h0M435.7 221.9h0M432.6 223.3h0M433.4 222.9h0M435.6 223.4h0M433.4 222.9h0M435.0 222.8h0M432.4 223.9h0M435.0 223.8h0M433.7 224.3h0M433.7 223.9h0M432.8 224.1h0M435.0 225.0h0M436.2 225.2h0M433.3 224.9h0M435.4 225.0h0M435.4 224.9h0M432.5 225.9h0M434.2 226.3h0M436.2 225.9h0M436.2 226.0h0M432.6 225.8h0M434.8 226.8h0M436.1 227.2h0M433.9 226.8h0M433.5 227.0h0M432.8 227.1h0M434.4 227.7h0M434.4 227.6h0M433.4 227.6h0M433.2 228.2h0M434.5 227.9h0M433.2 228.8h0M435.0 228.7h0M433.9 229.1h0M435.3 229.4h0M435.9 229.0h0M432.4 230.4h0M434.9 229.9h0M433.8 229.9h0M436.0 229.8h0M435.6 229.8h0M432.5 231.2h0M432.5 230.7h0M435.8 231.1h0M436.1 230.7h0M432.6 230.8h0M435.6 232.4h0M432.7 231.8h0M433.1 232.3h0M435.9 231.7h0M433.2 231.8h0M434.7 233.4h0M435.3 233.0h0M435.2 232.7h0M434.9 233.1h0M434.3 233.3h0M434.7 233.7h0M434.3 234.3h0M434.5 233.7h0M433.1 234.1h0M435.2 233.7h0M435.6 235.4h0M434.5 234.9h0M436.1 235.0h0M433.5 234.9h0M432.7 234.8h0M433.4 235.8h0M434.8 236.2h0M433.9 236.3h0M434.9 236.4h0M433.2 236.4h0M432.7 237.2h0M434.7 236.6h0M434.3 236.9h0M434.2 236.7h0M435.3 236.9h0M434.7 237.6h0M435.0 237.6h0M433.2 237.6h0M432.7 238.0h0M434.7 237.8h0M433.4 238.8h0M434.7 238.7h0M433.2 239.4h0M435.7 238.7h0M435.4 239.2h0M436.1 240.0h0M433.1 239.8h0M435.9 239.7h0M434.0 239.6h0M434.7 239.9h0M434.0 240.7h0M434.3 240.7h0M434.6 240.6h0M433.5 241.0h0M435.3 241.3h0M434.8 241.8h0M434.0 241.8h0M433.3 241.7h0M433.7 241.8h0M435.4 241.6h0M433.9 242.7h0M432.8 242.6h0M432.8 242.7h0M432.6 243.4h0M433.3 243.3h0M435.2 244.3h0M435.6 243.8h0M435.6 244.1h0M432.6 244.3h0M435.7 243.8h0M434.5 244.7h0M435.1 244.9h0M432.7 245.2h0M434.6 245.0h0M434.8 245.0h0M435.6 246.2h0M433.4 246.2h0M432.9 246.1h0M435.5 246.0h0M433.8 246.2h0M433.5 246.9h0M433.9 246.9h0M433.5 247.3h0M433.1 247.3h0M433.8 247.3h0M434.1 248.2h0M433.0 248.2h0M435.5 247.8h0M434.5 248.0h0M433.5 248.3h0M434.1 249.2h0M435.0 249.3h0M434.4 249.0h0M435.0 249.2h0M433.0 249.2h0M433.4 250.2h0M432.8 250.3h0M432.8 249.6h0M433.6 249.6h0M435.0 249.9h0M434.7 250.9h0M432.9 250.9h0M434.9 251.3h0M435.6 250.8h0M433.8 251.0h0M433.0 252.2h0M435.7 252.2h0M433.0 251.7h0M435.0 251.8h0M435.7 252.3h0M433.1 253.0h0M433.1 253.0h0M432.8 252.9h0M435.4 252.6h0M434.1 252.9h0M433.2 254.0h0M435.0 253.9h0M434.5 254.2h0M434.9 253.8h0M434.6 253.9h0M435.3 255.0h0M433.5 254.6h0M435.0 254.7h0M433.8 255.3h0M432.8 254.8h0M434.6 256.0h0M435.3 256.3h0M434.9 255.9h0M435.5 255.7h0M433.8 255.9h0M434.6 256.6h0M435.4 257.1h0M433.4 257.1h0M433.1 256.9h0M433.3 256.9h0M433.0 257.9h0M434.8 257.7h0M432.9 258.0h0M434.1 258.4h0M434.5 257.8h0M435.4 258.7h0M434.4 259.1h0M434.2 259.0h0M434.1 259.1h0M433.7 258.9h0M433.1 259.8h0M435.2 259.9h0M433.2 259.9h0M435.2 260.0h0M435.5 260.2h0" stroke="#ff0000" stroke-width="2.2" stroke-linecap="round" fill="none"/>
<path d="M449.8 50.4h0M461.6 51.3h0M459.8 54.9h0M464.3 55.8h0M466.1 55.4h0M458.0 63.0h0M458.9 62.1h0M475.2 68.5h0M485.1 68.5h0M487.9 60.0h0M442.9 102.9h0M447.5 112.9h0M451.6 114.7h0M458.9 104.7h0M459.8 109.2h0M458.0 111.0h0M463.4 114.7h0M455.8 120.1h0M458.3 123.7h0M454.3 131.9h0M467.9 130.1h0M462.5 138.2h0M473.4 128.3h0M458.5 149.3h0M463.7 151.5h0M464.4 153.7h0M450.4 158.9h0M463.7 160.4h0M460.0 167.0h0M465.9 165.6h0M451.9 179.6h0M457.0 183.3h0M460.0 182.6h0M456.3 187.0h0M461.5 186.3h0" stroke="#ff0000" stroke-width="2.6" stroke-linecap="round" fill="none"/>
<rect x="404.4" y="22.5" width="260.6" height="259.9" fill="none" stroke="#111" stroke-width="2"/>
<path d="M491.27 282.4v-6M491.27 22.5v6M578.13 282.4v-6M578.13 22.5v6M421.77 282.4v-3M421.77 22.5v3M439.15 282.4v-3M439.15 22.5v3M456.52 282.4v-3M456.52 22.5v3M473.89 282.4v-3M473.89 22.5v3M508.64 282.4v-3M508.64 22.5v3M526.01 282.4v-3M526.01 22.5v3M543.39 282.4v-3M543.39 22.5v3M560.76 282.4v-3M560.76 22.5v3M595.51 282.4v-3M595.51 22.5v3M612.88 282.4v-3M612.88 22.5v3M630.25 282.4v-3M630.25 22.5v3M647.63 282.4v-3M647.63 22.5v3M404.4 267.11h6M665 267.11h-6M404.4 190.67h6M665 190.67h-6M404.4 114.23h6M665 114.23h-6M404.4 37.79h6M665 37.79h-6M404.4 251.82h3M665 251.82h-3M404.4 236.54h3M665 236.54h-3M404.4 221.25h3M665 221.25h-3M404.4 205.96h3M665 205.96h-3M404.4 175.38h3M665 175.38h-3M404.4 160.09h3M665 160.09h-3M404.4 144.81h3M665 144.81h-3M404.4 129.52h3M665 129.52h-3M404.4 98.94h3M665 98.94h-3M404.4 83.65h3M665 83.65h-3M404.4 68.36h3M665 68.36h-3M404.4 53.08h3M665 53.08h-3" stroke="#111" stroke-width="1.6" fill="none"/>
<line x1="404.4" y1="169.2" x2="426.82" y2="153.20" stroke="#ff5cff" stroke-width="1.1"/>
<polygon points="431.3,150.0 428.33,155.31 425.31,151.08" fill="#ff5cff"/>
<line x1="436.3" y1="168.8" x2="458.64" y2="153.68" stroke="#ff5cff" stroke-width="1.1"/>
<polygon points="463.2,150.6 460.10,155.84 457.19,151.53" fill="#ff5cff"/>
<circle cx="436.9" cy="146.1" r="2.4" fill="#0000ff" stroke="#ff55ff" stroke-width="1.2"/>
<circle cx="468.4" cy="146.0" r="2.5" fill="#ffffff" stroke="#ff55ff" stroke-width="1.2"/>
<path d="M468.4 146.0h0" stroke="#ff1010" stroke-width="1.8" stroke-linecap="round" fill="none"/>
<path d="M468.6 149.6h0" stroke="#0000ff" stroke-width="2.1" stroke-linecap="round" fill="none"/>
<line x1="402.3" y1="290.7" x2="425.89" y2="274.25" stroke="#44e044" stroke-width="1.1"/>
<polygon points="430.4,271.1 427.38,276.38 424.40,272.11" fill="#44e044"/>
<line x1="443.7" y1="290.0" x2="467.32" y2="273.19" stroke="#44e044" stroke-width="1.1"/>
<polygon points="471.8,270.0 468.83,275.31 465.81,271.07" fill="#44e044"/>
<circle cx="433.9" cy="267.1" r="2.5" fill="#ff0000" stroke="#33cc33" stroke-width="1.3"/>
<circle cx="474.7" cy="267.1" r="2.5" fill="#0000ff" stroke="#33cc33" stroke-width="1.3"/>
<text x="404.4" y="295.6" font-size="13" text-anchor="middle" fill="#111" color="#111" font-weight="normal" >0</text>
<text x="491.3" y="295.6" font-size="13" text-anchor="middle" fill="#111" color="#111" font-weight="normal" >5</text>
<text x="578.1" y="295.6" font-size="13" text-anchor="middle" fill="#111" color="#111" font-weight="normal" >10</text>
<text x="665.0" y="295.6" font-size="13" text-anchor="middle" fill="#111" color="#111" font-weight="normal" >15</text>
<text x="400.6" y="271.5" font-size="13" text-anchor="end" fill="#111" color="#111" font-weight="normal" >0</text>
<text x="400.6" y="195.1" font-size="13" text-anchor="end" fill="#111" color="#111" font-weight="normal" >5</text>
<text x="400.6" y="118.6" font-size="13" text-anchor="end" fill="#111" color="#111" font-weight="normal" >10</text>
<text x="400.6" y="42.2" font-size="13" text-anchor="end" fill="#111" color="#111" font-weight="normal" >15</text>
<text x="360.5" y="14.8" font-size="16.5" text-anchor="start" fill="#111" color="#111" font-weight="normal" >(b)</text>
<text x="516.5" y="316.7" font-size="18" fill="#111" color="#111">R(Å)</text>
<text transform="translate(380,150.7) rotate(-90)" font-size="18" fill="#111" text-anchor="middle">ΔE(kcal·mol<tspan font-size="12" dy="-7">-1</tspan><tspan dy="7">)</tspan></text>
<rect x="31" y="352.5" width="285" height="256.5" fill="none" stroke="#3cf53c" stroke-width="1.6"/>
<rect x="402.3" y="352.5" width="265.5" height="256.5" fill="none" stroke="#ff4cff" stroke-width="1.6"/>
<text x="5.2" y="353.2" font-size="16" text-anchor="start" fill="#111" color="#111" font-weight="bold" >(c)</text>
<text x="360.6" y="353.2" font-size="16" text-anchor="start" fill="#111" color="#111" font-weight="bold" >(d)</text>
<text x="44.7" y="637.2" font-size="16.6" fill="#111" color="#111">ΔE = 0.0 kcal·mol<tspan font-size="8.5" dy="-6">-1</tspan></text>
<text x="209" y="636.7" font-size="16.6" fill="#ff0000" color="#ff0000">R<tspan font-size="11" dy="3.5">1</tspan><tspan dy="-3.5"> = 1.725 Å</tspan></text>
<text x="209" y="655.8" font-size="16.6" fill="#0000ff" color="#0000ff">R<tspan font-size="11" dy="3.5">2</tspan><tspan dy="-3.5"> = 4.071 Å</tspan></text>
<text x="389.3" y="637.2" font-size="16.6" fill="#111" color="#111">ΔE = 7.9 kcal·mol<tspan font-size="8.5" dy="-6">-1</tspan></text>
<text x="553.2" y="636.7" font-size="16.6" fill="#ff0000" color="#ff0000">R<tspan font-size="11" dy="3.5">1</tspan><tspan dy="-3.5"> = 3.696 Å</tspan></text>
<text x="553.2" y="655.8" font-size="16.6" fill="#0000ff" color="#0000ff">R<tspan font-size="11" dy="3.5">2</tspan><tspan dy="-3.5"> = 1.911 Å</tspan></text>
<defs><radialGradient id="gk" cx="0.5" cy="0.5" r="0.5" fx="0.35" fy="0.3"><stop offset="0" stop-color="#8a4a1e"/><stop offset="0.45" stop-color="#70340e"/><stop offset="0.8" stop-color="#70340e"/><stop offset="1" stop-color="#2e1402"/></radialGradient><radialGradient id="gn" cx="0.5" cy="0.5" r="0.5" fx="0.35" fy="0.3"><stop offset="0" stop-color="#a8c4d0"/><stop offset="0.45" stop-color="#6a92a2"/><stop offset="0.8" stop-color="#6a92a2"/><stop offset="1" stop-color="#34505a"/></radialGradient><radialGradient id="gX" cx="0.5" cy="0.5" r="0.5" fx="0.35" fy="0.3"><stop offset="0" stop-color="#fff"/><stop offset="0.45" stop-color="#fff"/><stop offset="0.8" stop-color="#fff"/><stop offset="1" stop-color="#fff"/></radialGradient><radialGradient id="gC" cx="0.5" cy="0.5" r="0.5" fx="0.35" fy="0.3"><stop offset="0" stop-color="#c86a26"/><stop offset="0.45" stop-color="#b8520f"/><stop offset="0.8" stop-color="#b8520f"/><stop offset="1" stop-color="#4a1e04"/></radialGradient><radialGradient id="gc" cx="0.5" cy="0.5" r="0.5" fx="0.35" fy="0.3"><stop offset="0" stop-color="#8a4a1e"/><stop offset="0.45" stop-color="#70340e"/><stop offset="0.8" stop-color="#70340e"/><stop offset="1" stop-color="#2e1402"/></radialGradient><radialGradient id="gH" cx="0.5" cy="0.5" r="0.5"><stop offset="0" stop-color="#ffffff"/><stop offset="0.5" stop-color="#f2f2f2"/><stop offset="0.72" stop-color="#b0b0b0"/><stop offset="1" stop-color="#6a6a6a"/></radialGradient><radialGradient id="gh" cx="0.5" cy="0.5" r="0.5" fx="0.35" fy="0.3"><stop offset="0" stop-color="#9a9a9a"/><stop offset="0.45" stop-color="#6a6a6a"/><stop offset="0.8" stop-color="#6a6a6a"/><stop offset="1" stop-color="#3a3a3a"/></radialGradient><radialGradient id="gO" cx="0.5" cy="0.5" r="0.5" fx="0.35" fy="0.3"><stop offset="0" stop-color="#ff3030"/><stop offset="0.45" stop-color="#d80000"/><stop offset="0.8" stop-color="#d80000"/><stop offset="1" stop-color="#600000"/></radialGradient><radialGradient id="gN" cx="0.5" cy="0.5" r="0.5" fx="0.35" fy="0.3"><stop offset="0" stop-color="#c4dce6"/><stop offset="0.45" stop-color="#7ea6b6"/><stop offset="0.8" stop-color="#7ea6b6"/><stop offset="1" stop-color="#40606c"/></radialGradient><radialGradient id="gF" cx="0.5" cy="0.5" r="0.5" fx="0.35" fy="0.3"><stop offset="0" stop-color="#e8b840"/><stop offset="0.45" stop-color="#c8920e"/><stop offset="0.8" stop-color="#c8920e"/><stop offset="1" stop-color="#5e4000"/></radialGradient><radialGradient id="gS" cx="0.5" cy="0.5" r="0.5" fx="0.35" fy="0.3"><stop offset="0" stop-color="#e8cc40"/><stop offset="0.45" stop-color="#c6a60a"/><stop offset="0.8" stop-color="#c6a60a"/><stop offset="1" stop-color="#5e4c00"/></radialGradient></defs>
<line x1="152.1" y1="541.1" x2="164.5" y2="563.8" stroke="#8a1a1a" stroke-width="1.4" stroke-dasharray="1.3 1.6"/>
<line x1="194.4" y1="529.6" x2="196" y2="548.9" stroke="#8a1a1a" stroke-width="1.4" stroke-dasharray="1.3 1.6"/>
<line x1="516.1" y1="455.7" x2="538.9" y2="473.4" stroke="#8a1a1a" stroke-width="1.4" stroke-dasharray="1.3 1.6"/>
<line x1="558.1" y1="443.3" x2="538.9" y2="473.4" stroke="#8a1a1a" stroke-width="1.4" stroke-dasharray="1.3 1.6"/>
<circle cx="214.0" cy="456.7" r="5.6" fill="url(#gn)"/>
<line x1="72.1" y1="411.6" x2="82.7" y2="413.7" stroke="#4a2206" stroke-width="5.1"/>
<line x1="82.7" y1="413.7" x2="93.2" y2="415.8" stroke="#4a2206" stroke-width="5.1"/>
<line x1="93.2" y1="415.8" x2="95.5" y2="426.1" stroke="#4a2206" stroke-width="5.1"/>
<line x1="95.5" y1="426.1" x2="97.7" y2="436.4" stroke="#4a2206" stroke-width="5.1"/>
<line x1="97.7" y1="436.4" x2="89.7" y2="444.8" stroke="#4a2206" stroke-width="5.1"/>
<line x1="89.7" y1="444.8" x2="81.7" y2="453.1" stroke="#4a2206" stroke-width="5.1"/>
<line x1="81.7" y1="453.1" x2="70.8" y2="450.9" stroke="#4a2206" stroke-width="5.1"/>
<line x1="70.8" y1="450.9" x2="59.9" y2="448.7" stroke="#4a2206" stroke-width="5.1"/>
<line x1="59.9" y1="448.7" x2="57.1" y2="438.4" stroke="#4a2206" stroke-width="5.1"/>
<line x1="57.1" y1="438.4" x2="54.3" y2="428.2" stroke="#4a2206" stroke-width="5.1"/>
<line x1="54.3" y1="428.2" x2="63.2" y2="419.9" stroke="#4a2206" stroke-width="5.1"/>
<line x1="63.2" y1="419.9" x2="72.1" y2="411.6" stroke="#4a2206" stroke-width="5.1"/>
<line x1="72.1" y1="411.6" x2="69.9" y2="403.5" stroke="#4a2206" stroke-width="4.0"/>
<line x1="69.9" y1="403.5" x2="67.7" y2="395.3" stroke="#8a8a8a" stroke-width="4.0"/>
<line x1="93.2" y1="415.8" x2="99.9" y2="409.2" stroke="#4a2206" stroke-width="4.0"/>
<line x1="99.9" y1="409.2" x2="106.6" y2="402.7" stroke="#8a8a8a" stroke-width="4.0"/>
<line x1="54.3" y1="428.2" x2="46.5" y2="426.2" stroke="#4a2206" stroke-width="4.0"/>
<line x1="46.5" y1="426.2" x2="38.8" y2="424.2" stroke="#8a8a8a" stroke-width="4.0"/>
<line x1="59.9" y1="448.7" x2="53.8" y2="454.8" stroke="#4a2206" stroke-width="4.0"/>
<line x1="53.8" y1="454.8" x2="47.7" y2="460.9" stroke="#8a8a8a" stroke-width="4.0"/>
<line x1="81.7" y1="453.1" x2="83.3" y2="460.4" stroke="#4a2206" stroke-width="4.0"/>
<line x1="83.3" y1="460.4" x2="85.0" y2="467.6" stroke="#8a8a8a" stroke-width="4.0"/>
<line x1="97.7" y1="436.4" x2="109.9" y2="438.6" stroke="#4a2206" stroke-width="5.1"/>
<line x1="109.9" y1="438.6" x2="122.1" y2="440.9" stroke="#4a2206" stroke-width="5.1"/>
<line x1="97.7" y1="424.2" x2="106.0" y2="425.3" stroke="#8a8a8a" stroke-width="4.0"/>
<line x1="106.0" y1="425.3" x2="114.3" y2="426.4" stroke="#4a2206" stroke-width="4.0"/>
<line x1="119.9" y1="417.6" x2="117.1" y2="422.0" stroke="#8a8a8a" stroke-width="4.0"/>
<line x1="117.1" y1="422.0" x2="114.3" y2="426.4" stroke="#4a2206" stroke-width="4.0"/>
<line x1="114.3" y1="426.4" x2="116.0" y2="435.3" stroke="#4a2206" stroke-width="4.0"/>
<line x1="116.0" y1="435.3" x2="117.7" y2="444.2" stroke="#8a8a8a" stroke-width="4.0"/>
<line x1="114.3" y1="426.4" x2="122.7" y2="422.0" stroke="#4a2206" stroke-width="5.1"/>
<line x1="122.7" y1="422.0" x2="131.0" y2="417.6" stroke="#4a2206" stroke-width="5.1"/>
<line x1="131.0" y1="417.6" x2="126.5" y2="429.2" stroke="#4a2206" stroke-width="5.1"/>
<line x1="126.5" y1="429.2" x2="122.1" y2="440.9" stroke="#4a2206" stroke-width="5.1"/>
<line x1="131.0" y1="417.6" x2="144.3" y2="423.1" stroke="#4a2206" stroke-width="5.1"/>
<line x1="144.3" y1="423.1" x2="157.7" y2="428.7" stroke="#4a2206" stroke-width="5.1"/>
<line x1="122.1" y1="440.9" x2="121.5" y2="448.6" stroke="#4a2206" stroke-width="4.0"/>
<line x1="121.5" y1="448.6" x2="121.0" y2="456.4" stroke="#8a8a8a" stroke-width="4.0"/>
<line x1="122.1" y1="440.9" x2="130.4" y2="441.4" stroke="#4a2206" stroke-width="5.1"/>
<line x1="130.4" y1="441.4" x2="138.8" y2="442.0" stroke="#4a2206" stroke-width="5.1"/>
<line x1="138.8" y1="442.0" x2="136.0" y2="448.4" stroke="#4a2206" stroke-width="4.0"/>
<line x1="136.0" y1="448.4" x2="133.2" y2="454.7" stroke="#8a8a8a" stroke-width="4.0"/>
<line x1="138.8" y1="442.0" x2="139.4" y2="434.2" stroke="#4a2206" stroke-width="4.0"/>
<line x1="139.4" y1="434.2" x2="139.9" y2="426.4" stroke="#8a8a8a" stroke-width="4.0"/>
<line x1="138.8" y1="442.0" x2="150.4" y2="445.9" stroke="#4a2206" stroke-width="5.1"/>
<line x1="150.4" y1="445.9" x2="162.1" y2="449.8" stroke="#4a2206" stroke-width="5.1"/>
<line x1="157.7" y1="428.7" x2="159.9" y2="439.2" stroke="#4a2206" stroke-width="5.1"/>
<line x1="159.9" y1="439.2" x2="162.1" y2="449.8" stroke="#4a2206" stroke-width="5.1"/>
<line x1="157.7" y1="428.7" x2="157.1" y2="437.5" stroke="#4a2206" stroke-width="4.0"/>
<line x1="157.1" y1="437.5" x2="156.6" y2="446.4" stroke="#8a8a8a" stroke-width="4.0"/>
<line x1="157.7" y1="428.7" x2="164.1" y2="420.4" stroke="#4a2206" stroke-width="5.1"/>
<line x1="164.1" y1="420.4" x2="170.4" y2="412.0" stroke="#4a2206" stroke-width="5.1"/>
<line x1="162.1" y1="449.8" x2="165.4" y2="458.7" stroke="#4a2206" stroke-width="5.1"/>
<line x1="165.4" y1="458.7" x2="168.8" y2="467.6" stroke="#4a2206" stroke-width="5.1"/>
<line x1="162.1" y1="449.8" x2="167.6" y2="440.9" stroke="#4a2206" stroke-width="5.1"/>
<line x1="167.6" y1="440.9" x2="173.2" y2="432.0" stroke="#4a2206" stroke-width="5.1"/>
<line x1="173.2" y1="432.0" x2="176.8" y2="427.0" stroke="#4a2206" stroke-width="5.1"/>
<line x1="176.8" y1="427.0" x2="180.4" y2="422.0" stroke="#4a2206" stroke-width="5.1"/>
<line x1="173.2" y1="432.0" x2="176.8" y2="435.9" stroke="#4a2206" stroke-width="4.0"/>
<line x1="176.8" y1="435.9" x2="180.4" y2="439.8" stroke="#8a8a8a" stroke-width="4.0"/>
<line x1="173.2" y1="432.0" x2="180.7" y2="434.8" stroke="#4a2206" stroke-width="4.0"/>
<line x1="180.7" y1="434.8" x2="188.2" y2="437.6" stroke="#8a8a8a" stroke-width="4.0"/>
<line x1="181.6" y1="375.3" x2="186.9" y2="379.8" stroke="#4a2206" stroke-width="5.1"/>
<line x1="186.9" y1="379.8" x2="192.2" y2="384.2" stroke="#4a2206" stroke-width="5.1"/>
<line x1="192.2" y1="384.2" x2="191.9" y2="395.3" stroke="#4a2206" stroke-width="5.1"/>
<line x1="191.9" y1="395.3" x2="191.6" y2="406.4" stroke="#4a2206" stroke-width="5.1"/>
<line x1="191.6" y1="406.4" x2="186.0" y2="414.2" stroke="#4a2206" stroke-width="5.1"/>
<line x1="186.0" y1="414.2" x2="180.4" y2="422.0" stroke="#4a2206" stroke-width="5.1"/>
<line x1="180.4" y1="422.0" x2="175.4" y2="417.0" stroke="#4a2206" stroke-width="5.1"/>
<line x1="175.4" y1="417.0" x2="170.4" y2="412.0" stroke="#4a2206" stroke-width="5.1"/>
<line x1="170.4" y1="412.0" x2="171.0" y2="400.9" stroke="#4a2206" stroke-width="5.1"/>
<line x1="171.0" y1="400.9" x2="171.6" y2="389.8" stroke="#4a2206" stroke-width="5.1"/>
<line x1="171.6" y1="389.8" x2="176.6" y2="382.6" stroke="#4a2206" stroke-width="5.1"/>
<line x1="176.6" y1="382.6" x2="181.6" y2="375.3" stroke="#4a2206" stroke-width="5.1"/>
<line x1="181.6" y1="375.3" x2="181.6" y2="367.0" stroke="#4a2206" stroke-width="4.0"/>
<line x1="181.6" y1="367.0" x2="181.6" y2="358.7" stroke="#8a8a8a" stroke-width="4.0"/>
<line x1="192.2" y1="384.2" x2="196.3" y2="378.9" stroke="#4a2206" stroke-width="4.0"/>
<line x1="196.3" y1="378.9" x2="200.4" y2="373.6" stroke="#8a8a8a" stroke-width="4.0"/>
<line x1="191.6" y1="406.4" x2="195.4" y2="410.3" stroke="#4a2206" stroke-width="4.0"/>
<line x1="195.4" y1="410.3" x2="199.3" y2="414.2" stroke="#8a8a8a" stroke-width="4.0"/>
<line x1="171.6" y1="389.8" x2="166.8" y2="386.5" stroke="#4a2206" stroke-width="4.0"/>
<line x1="166.8" y1="386.5" x2="162.1" y2="383.1" stroke="#8a8a8a" stroke-width="4.0"/>
<line x1="151.0" y1="491.1" x2="163.2" y2="488.9" stroke="#4a2206" stroke-width="5.1"/>
<line x1="163.2" y1="488.9" x2="175.4" y2="486.7" stroke="#4a2206" stroke-width="5.1"/>
<line x1="175.4" y1="486.7" x2="177.1" y2="497.8" stroke="#4a2206" stroke-width="5.1"/>
<line x1="177.1" y1="497.8" x2="178.8" y2="508.9" stroke="#4a2206" stroke-width="5.1"/>
<line x1="178.8" y1="508.9" x2="167.1" y2="510.6" stroke="#4a2206" stroke-width="5.1"/>
<line x1="167.1" y1="510.6" x2="155.4" y2="512.2" stroke="#4a2206" stroke-width="5.1"/>
<line x1="155.4" y1="512.2" x2="153.2" y2="501.7" stroke="#4a2206" stroke-width="5.1"/>
<line x1="153.2" y1="501.7" x2="151.0" y2="491.1" stroke="#4a2206" stroke-width="5.1"/>
<line x1="151.0" y1="491.1" x2="142.7" y2="485.2" stroke="#4a2206" stroke-width="5.1"/>
<line x1="142.7" y1="485.2" x2="134.3" y2="479.3" stroke="#4a2206" stroke-width="5.1"/>
<line x1="175.4" y1="486.7" x2="181.8" y2="480.0" stroke="#4a2206" stroke-width="5.1"/>
<line x1="181.8" y1="480.0" x2="188.2" y2="473.3" stroke="#4a2206" stroke-width="5.1"/>
<line x1="155.4" y1="512.2" x2="149.9" y2="520.5" stroke="#4a2206" stroke-width="5.1"/>
<line x1="149.9" y1="520.5" x2="144.3" y2="528.9" stroke="#4a2206" stroke-width="5.1"/>
<line x1="144.3" y1="528.9" x2="148.2" y2="535.0" stroke="#4a2206" stroke-width="4.0"/>
<line x1="148.2" y1="535.0" x2="152.1" y2="541.1" stroke="#8a8a8a" stroke-width="4.0"/>
<line x1="144.3" y1="528.9" x2="132.7" y2="531.1" stroke="#4a2206" stroke-width="5.1"/>
<line x1="132.7" y1="531.1" x2="121.0" y2="533.3" stroke="#4a2206" stroke-width="5.1"/>
<line x1="178.8" y1="508.9" x2="187.9" y2="512.2" stroke="#4a2206" stroke-width="5.1"/>
<line x1="187.9" y1="512.2" x2="197.1" y2="515.6" stroke="#4a2206" stroke-width="5.1"/>
<line x1="197.1" y1="515.6" x2="195.8" y2="522.6" stroke="#4a2206" stroke-width="4.0"/>
<line x1="195.8" y1="522.6" x2="194.4" y2="529.6" stroke="#8a8a8a" stroke-width="4.0"/>
<line x1="197.1" y1="515.6" x2="208.0" y2="511.1" stroke="#4a2206" stroke-width="5.1"/>
<line x1="208.0" y1="511.1" x2="218.9" y2="506.7" stroke="#4a2206" stroke-width="5.1"/>
<line x1="196.0" y1="548.9" x2="188.8" y2="556.6" stroke="#4a2206" stroke-width="5.1"/>
<line x1="188.8" y1="556.6" x2="181.6" y2="564.4" stroke="#4a2206" stroke-width="5.1"/>
<line x1="181.6" y1="564.4" x2="173.1" y2="564.1" stroke="#4a2206" stroke-width="5.1"/>
<line x1="173.1" y1="564.1" x2="164.5" y2="563.8" stroke="#4a2206" stroke-width="5.1"/>
<line x1="181.6" y1="564.4" x2="183.6" y2="573.3" stroke="#4a2206" stroke-width="5.1"/>
<line x1="183.6" y1="573.3" x2="185.6" y2="582.2" stroke="#4a2206" stroke-width="5.1"/>
<line x1="185.6" y1="582.2" x2="179.6" y2="586.9" stroke="#4a2206" stroke-width="4.0"/>
<line x1="179.6" y1="586.9" x2="173.5" y2="591.5" stroke="#8a8a8a" stroke-width="4.0"/>
<line x1="105.4" y1="518.9" x2="94.8" y2="521.6" stroke="#4a2206" stroke-width="5.1"/>
<line x1="94.8" y1="521.6" x2="84.3" y2="524.4" stroke="#4a2206" stroke-width="5.1"/>
<line x1="84.3" y1="524.4" x2="79.8" y2="534.4" stroke="#4a2206" stroke-width="5.1"/>
<line x1="79.8" y1="534.4" x2="75.4" y2="544.4" stroke="#4a2206" stroke-width="5.1"/>
<line x1="75.4" y1="544.4" x2="83.2" y2="551.6" stroke="#4a2206" stroke-width="5.1"/>
<line x1="83.2" y1="551.6" x2="91.0" y2="558.9" stroke="#4a2206" stroke-width="5.1"/>
<line x1="91.0" y1="558.9" x2="102.7" y2="556.1" stroke="#4a2206" stroke-width="5.1"/>
<line x1="102.7" y1="556.1" x2="114.3" y2="553.3" stroke="#4a2206" stroke-width="5.1"/>
<line x1="114.3" y1="553.3" x2="117.7" y2="543.3" stroke="#4a2206" stroke-width="5.1"/>
<line x1="117.7" y1="543.3" x2="121.0" y2="533.3" stroke="#4a2206" stroke-width="5.1"/>
<line x1="121.0" y1="533.3" x2="113.2" y2="526.1" stroke="#4a2206" stroke-width="5.1"/>
<line x1="113.2" y1="526.1" x2="105.4" y2="518.9" stroke="#4a2206" stroke-width="5.1"/>
<line x1="105.4" y1="518.9" x2="108.4" y2="511.1" stroke="#4a2206" stroke-width="4.0"/>
<line x1="108.4" y1="511.1" x2="111.4" y2="503.3" stroke="#8a8a8a" stroke-width="4.0"/>
<line x1="75.4" y1="544.4" x2="66.6" y2="546.1" stroke="#4a2206" stroke-width="4.0"/>
<line x1="66.6" y1="546.1" x2="57.7" y2="547.8" stroke="#8a8a8a" stroke-width="4.0"/>
<line x1="114.3" y1="553.3" x2="119.8" y2="558.8" stroke="#4a2206" stroke-width="4.0"/>
<line x1="119.8" y1="558.8" x2="125.4" y2="564.4" stroke="#8a8a8a" stroke-width="4.0"/>
<line x1="84.3" y1="524.4" x2="75.4" y2="516.6" stroke="#4a2206" stroke-width="5.1"/>
<line x1="75.4" y1="516.6" x2="66.6" y2="508.9" stroke="#4a2206" stroke-width="5.1"/>
<line x1="66.6" y1="508.9" x2="71.0" y2="500.0" stroke="#4a2206" stroke-width="5.1"/>
<line x1="71.0" y1="500.0" x2="75.4" y2="491.1" stroke="#4a2206" stroke-width="5.1"/>
<line x1="66.6" y1="508.9" x2="58.8" y2="505.0" stroke="#4a2206" stroke-width="5.1"/>
<line x1="58.8" y1="505.0" x2="51.0" y2="501.1" stroke="#4a2206" stroke-width="5.1"/>
<line x1="66.6" y1="508.9" x2="60.4" y2="513.9" stroke="#4a2206" stroke-width="5.1"/>
<line x1="60.4" y1="513.9" x2="54.3" y2="518.9" stroke="#4a2206" stroke-width="5.1"/>
<line x1="91.0" y1="558.9" x2="87.7" y2="570.0" stroke="#4a2206" stroke-width="5.1"/>
<line x1="87.7" y1="570.0" x2="84.3" y2="581.1" stroke="#4a2206" stroke-width="5.1"/>
<line x1="84.3" y1="581.1" x2="73.2" y2="580.5" stroke="#4a2206" stroke-width="5.1"/>
<line x1="73.2" y1="580.5" x2="62.1" y2="580.0" stroke="#4a2206" stroke-width="5.1"/>
<line x1="84.3" y1="581.1" x2="89.3" y2="583.4" stroke="#4a2206" stroke-width="5.1"/>
<line x1="89.3" y1="583.4" x2="94.3" y2="585.6" stroke="#4a2206" stroke-width="5.1"/>
<line x1="84.3" y1="581.1" x2="86.0" y2="589.5" stroke="#4a2206" stroke-width="5.1"/>
<line x1="86.0" y1="589.5" x2="87.7" y2="597.8" stroke="#4a2206" stroke-width="5.1"/>
<line x1="233.8" y1="418.7" x2="235.7" y2="410.4" stroke="#4a2206" stroke-width="4.0"/>
<line x1="235.7" y1="410.4" x2="237.6" y2="402.0" stroke="#8a8a8a" stroke-width="4.0"/>
<line x1="233.8" y1="418.7" x2="229.9" y2="423.1" stroke="#4a2206" stroke-width="5.1"/>
<line x1="229.9" y1="423.1" x2="226.0" y2="427.6" stroke="#4a2206" stroke-width="5.1"/>
<line x1="233.8" y1="418.7" x2="235.2" y2="427.0" stroke="#4a2206" stroke-width="5.1"/>
<line x1="235.2" y1="427.0" x2="236.7" y2="435.3" stroke="#4a2206" stroke-width="5.1"/>
<line x1="226.0" y1="427.6" x2="225.4" y2="422.0" stroke="#4a2206" stroke-width="4.0"/>
<line x1="225.4" y1="422.0" x2="224.9" y2="416.4" stroke="#8a8a8a" stroke-width="4.0"/>
<line x1="236.7" y1="435.3" x2="239.3" y2="432.0" stroke="#4a2206" stroke-width="4.0"/>
<line x1="239.3" y1="432.0" x2="242.0" y2="428.7" stroke="#8a8a8a" stroke-width="4.0"/>
<line x1="226.0" y1="427.6" x2="223.7" y2="438.8" stroke="#4a2206" stroke-width="5.1"/>
<line x1="223.7" y1="438.8" x2="221.4" y2="449.9" stroke="#4a2206" stroke-width="5.1"/>
<line x1="236.7" y1="435.3" x2="234.1" y2="446.0" stroke="#4a2206" stroke-width="5.1"/>
<line x1="234.1" y1="446.0" x2="231.6" y2="456.7" stroke="#4a2206" stroke-width="5.1"/>
<line x1="221.4" y1="449.9" x2="217.7" y2="453.3" stroke="#4a2206" stroke-width="5.1"/>
<line x1="217.7" y1="453.3" x2="214.0" y2="456.7" stroke="#4a2206" stroke-width="5.1"/>
<line x1="221.4" y1="449.9" x2="222.8" y2="457.7" stroke="#4a2206" stroke-width="5.1"/>
<line x1="222.8" y1="457.7" x2="224.2" y2="465.5" stroke="#4a2206" stroke-width="5.1"/>
<line x1="231.6" y1="456.7" x2="227.9" y2="461.1" stroke="#4a2206" stroke-width="5.1"/>
<line x1="227.9" y1="461.1" x2="224.2" y2="465.5" stroke="#4a2206" stroke-width="5.1"/>
<line x1="231.6" y1="456.7" x2="232.6" y2="462.1" stroke="#4a2206" stroke-width="4.0"/>
<line x1="232.6" y1="462.1" x2="233.7" y2="467.6" stroke="#8a8a8a" stroke-width="4.0"/>
<line x1="214.0" y1="456.7" x2="211.9" y2="467.2" stroke="#4a2206" stroke-width="5.1"/>
<line x1="211.9" y1="467.2" x2="209.9" y2="477.7" stroke="#4a2206" stroke-width="5.1"/>
<line x1="224.2" y1="465.5" x2="220.9" y2="476.6" stroke="#4a2206" stroke-width="5.1"/>
<line x1="220.9" y1="476.6" x2="217.6" y2="487.8" stroke="#4a2206" stroke-width="5.1"/>
<line x1="209.9" y1="477.7" x2="206.5" y2="480.4" stroke="#4a2206" stroke-width="4.0"/>
<line x1="206.5" y1="480.4" x2="203.1" y2="483.2" stroke="#8a8a8a" stroke-width="4.0"/>
<line x1="209.9" y1="477.7" x2="210.2" y2="486.1" stroke="#4a2206" stroke-width="5.1"/>
<line x1="210.2" y1="486.1" x2="210.5" y2="494.5" stroke="#4a2206" stroke-width="5.1"/>
<line x1="217.6" y1="487.8" x2="214.1" y2="491.1" stroke="#4a2206" stroke-width="5.1"/>
<line x1="214.1" y1="491.1" x2="210.5" y2="494.5" stroke="#4a2206" stroke-width="5.1"/>
<line x1="210.5" y1="494.5" x2="214.7" y2="500.6" stroke="#4a2206" stroke-width="5.1"/>
<line x1="214.7" y1="500.6" x2="218.9" y2="506.7" stroke="#4a2206" stroke-width="5.1"/>
<line x1="218.9" y1="506.7" x2="219.6" y2="502.4" stroke="#4a2206" stroke-width="4.0"/>
<line x1="219.6" y1="502.4" x2="220.3" y2="498.0" stroke="#8a8a8a" stroke-width="4.0"/>
<line x1="218.9" y1="506.7" x2="228.0" y2="515.0" stroke="#4a2206" stroke-width="5.1"/>
<line x1="228.0" y1="515.0" x2="237.1" y2="523.3" stroke="#4a2206" stroke-width="5.1"/>
<line x1="237.1" y1="523.3" x2="237.6" y2="531.1" stroke="#4a2206" stroke-width="5.1"/>
<line x1="237.6" y1="531.1" x2="238.2" y2="538.9" stroke="#4a2206" stroke-width="5.1"/>
<line x1="237.1" y1="523.3" x2="248.8" y2="517.2" stroke="#4a2206" stroke-width="5.1"/>
<line x1="248.8" y1="517.2" x2="260.4" y2="511.1" stroke="#4a2206" stroke-width="5.1"/>
<line x1="237.1" y1="523.3" x2="234.3" y2="528.3" stroke="#4a2206" stroke-width="4.0"/>
<line x1="234.3" y1="528.3" x2="231.6" y2="533.3" stroke="#8a8a8a" stroke-width="4.0"/>
<line x1="249.3" y1="530.0" x2="246.0" y2="521.6" stroke="#4a2206" stroke-width="4.0"/>
<line x1="246.0" y1="521.6" x2="242.7" y2="513.3" stroke="#8a8a8a" stroke-width="4.0"/>
<line x1="238.2" y1="538.9" x2="243.8" y2="534.5" stroke="#4a2206" stroke-width="5.1"/>
<line x1="243.8" y1="534.5" x2="249.3" y2="530.0" stroke="#4a2206" stroke-width="5.1"/>
<line x1="238.2" y1="538.9" x2="244.3" y2="548.9" stroke="#4a2206" stroke-width="5.1"/>
<line x1="244.3" y1="548.9" x2="250.4" y2="558.9" stroke="#4a2206" stroke-width="5.1"/>
<line x1="249.3" y1="530.0" x2="248.2" y2="535.5" stroke="#4a2206" stroke-width="4.0"/>
<line x1="248.2" y1="535.5" x2="247.1" y2="541.1" stroke="#8a8a8a" stroke-width="4.0"/>
<line x1="249.3" y1="530.0" x2="262.1" y2="528.4" stroke="#4a2206" stroke-width="5.1"/>
<line x1="262.1" y1="528.4" x2="274.9" y2="526.7" stroke="#4a2206" stroke-width="5.1"/>
<line x1="260.4" y1="511.1" x2="267.6" y2="518.9" stroke="#4a2206" stroke-width="5.1"/>
<line x1="267.6" y1="518.9" x2="274.9" y2="526.7" stroke="#4a2206" stroke-width="5.1"/>
<line x1="260.4" y1="511.1" x2="260.4" y2="503.4" stroke="#4a2206" stroke-width="4.0"/>
<line x1="260.4" y1="503.4" x2="260.4" y2="495.6" stroke="#8a8a8a" stroke-width="4.0"/>
<line x1="274.9" y1="526.7" x2="278.2" y2="515.5" stroke="#4a2206" stroke-width="5.1"/>
<line x1="278.2" y1="515.5" x2="281.6" y2="504.4" stroke="#4a2206" stroke-width="5.1"/>
<line x1="274.9" y1="526.7" x2="273.8" y2="539.5" stroke="#4a2206" stroke-width="5.1"/>
<line x1="273.8" y1="539.5" x2="272.7" y2="552.2" stroke="#4a2206" stroke-width="5.1"/>
<line x1="274.9" y1="526.7" x2="284.4" y2="525.0" stroke="#4a2206" stroke-width="4.0"/>
<line x1="284.4" y1="525.0" x2="293.8" y2="523.3" stroke="#8a8a8a" stroke-width="4.0"/>
<line x1="274.9" y1="526.7" x2="279.4" y2="533.4" stroke="#4a2206" stroke-width="4.0"/>
<line x1="279.4" y1="533.4" x2="283.8" y2="540.0" stroke="#8a8a8a" stroke-width="4.0"/>
<line x1="281.6" y1="504.4" x2="278.2" y2="497.2" stroke="#4a2206" stroke-width="4.0"/>
<line x1="278.2" y1="497.2" x2="274.9" y2="490.0" stroke="#8a8a8a" stroke-width="4.0"/>
<line x1="281.6" y1="504.4" x2="290.5" y2="503.9" stroke="#4a2206" stroke-width="5.1"/>
<line x1="290.5" y1="503.9" x2="299.3" y2="503.3" stroke="#4a2206" stroke-width="5.1"/>
<line x1="299.3" y1="503.3" x2="302.1" y2="495.0" stroke="#4a2206" stroke-width="4.0"/>
<line x1="302.1" y1="495.0" x2="304.9" y2="486.7" stroke="#8a8a8a" stroke-width="4.0"/>
<line x1="299.3" y1="503.3" x2="302.6" y2="510.5" stroke="#4a2206" stroke-width="4.0"/>
<line x1="302.6" y1="510.5" x2="306.0" y2="517.8" stroke="#8a8a8a" stroke-width="4.0"/>
<line x1="250.4" y1="558.9" x2="261.6" y2="555.5" stroke="#4a2206" stroke-width="5.1"/>
<line x1="261.6" y1="555.5" x2="272.7" y2="552.2" stroke="#4a2206" stroke-width="5.1"/>
<line x1="250.4" y1="558.9" x2="244.9" y2="563.3" stroke="#4a2206" stroke-width="4.0"/>
<line x1="244.9" y1="563.3" x2="239.3" y2="567.8" stroke="#8a8a8a" stroke-width="4.0"/>
<line x1="250.4" y1="558.9" x2="251.0" y2="564.5" stroke="#4a2206" stroke-width="4.0"/>
<line x1="251.0" y1="564.5" x2="251.6" y2="570.0" stroke="#8a8a8a" stroke-width="4.0"/>
<line x1="272.7" y1="552.2" x2="279.4" y2="557.2" stroke="#4a2206" stroke-width="4.0"/>
<line x1="279.4" y1="557.2" x2="286.0" y2="562.2" stroke="#8a8a8a" stroke-width="4.0"/>
<line x1="72.1" y1="411.6" x2="82.7" y2="413.7" stroke="#bf520c" stroke-width="3.5"/>
<line x1="82.7" y1="413.7" x2="93.2" y2="415.8" stroke="#bf520c" stroke-width="3.5"/>
<line x1="93.2" y1="415.8" x2="95.5" y2="426.1" stroke="#bf520c" stroke-width="3.5"/>
<line x1="95.5" y1="426.1" x2="97.7" y2="436.4" stroke="#bf520c" stroke-width="3.5"/>
<line x1="97.7" y1="436.4" x2="89.7" y2="444.8" stroke="#bf520c" stroke-width="3.5"/>
<line x1="89.7" y1="444.8" x2="81.7" y2="453.1" stroke="#bf520c" stroke-width="3.5"/>
<line x1="81.7" y1="453.1" x2="70.8" y2="450.9" stroke="#bf520c" stroke-width="3.5"/>
<line x1="70.8" y1="450.9" x2="59.9" y2="448.7" stroke="#bf520c" stroke-width="3.5"/>
<line x1="59.9" y1="448.7" x2="57.1" y2="438.4" stroke="#bf520c" stroke-width="3.5"/>
<line x1="57.1" y1="438.4" x2="54.3" y2="428.2" stroke="#bf520c" stroke-width="3.5"/>
<line x1="54.3" y1="428.2" x2="63.2" y2="419.9" stroke="#bf520c" stroke-width="3.5"/>
<line x1="63.2" y1="419.9" x2="72.1" y2="411.6" stroke="#bf520c" stroke-width="3.5"/>
<line x1="72.1" y1="411.6" x2="69.9" y2="403.5" stroke="#bf520c" stroke-width="2.4"/>
<line x1="69.9" y1="403.5" x2="67.7" y2="395.3" stroke="#e8e8e8" stroke-width="2.4"/>
<line x1="93.2" y1="415.8" x2="99.9" y2="409.2" stroke="#bf520c" stroke-width="2.4"/>
<line x1="99.9" y1="409.2" x2="106.6" y2="402.7" stroke="#e8e8e8" stroke-width="2.4"/>
<line x1="54.3" y1="428.2" x2="46.5" y2="426.2" stroke="#bf520c" stroke-width="2.4"/>
<line x1="46.5" y1="426.2" x2="38.8" y2="424.2" stroke="#e8e8e8" stroke-width="2.4"/>
<line x1="59.9" y1="448.7" x2="53.8" y2="454.8" stroke="#bf520c" stroke-width="2.4"/>
<line x1="53.8" y1="454.8" x2="47.7" y2="460.9" stroke="#e8e8e8" stroke-width="2.4"/>
<line x1="81.7" y1="453.1" x2="83.3" y2="460.4" stroke="#bf520c" stroke-width="2.4"/>
<line x1="83.3" y1="460.4" x2="85.0" y2="467.6" stroke="#e8e8e8" stroke-width="2.4"/>
<line x1="97.7" y1="436.4" x2="109.9" y2="438.6" stroke="#bf520c" stroke-width="3.5"/>
<line x1="109.9" y1="438.6" x2="122.1" y2="440.9" stroke="#bf520c" stroke-width="3.5"/>
<line x1="97.7" y1="424.2" x2="106.0" y2="425.3" stroke="#e8e8e8" stroke-width="2.4"/>
<line x1="106.0" y1="425.3" x2="114.3" y2="426.4" stroke="#bf520c" stroke-width="2.4"/>
<line x1="119.9" y1="417.6" x2="117.1" y2="422.0" stroke="#e8e8e8" stroke-width="2.4"/>
<line x1="117.1" y1="422.0" x2="114.3" y2="426.4" stroke="#bf520c" stroke-width="2.4"/>
<line x1="114.3" y1="426.4" x2="116.0" y2="435.3" stroke="#bf520c" stroke-width="2.4"/>
<line x1="116.0" y1="435.3" x2="117.7" y2="444.2" stroke="#e8e8e8" stroke-width="2.4"/>
<line x1="114.3" y1="426.4" x2="122.7" y2="422.0" stroke="#bf520c" stroke-width="3.5"/>
<line x1="122.7" y1="422.0" x2="131.0" y2="417.6" stroke="#c6a60a" stroke-width="3.5"/>
<line x1="131.0" y1="417.6" x2="126.5" y2="429.2" stroke="#c6a60a" stroke-width="3.5"/>
<line x1="126.5" y1="429.2" x2="122.1" y2="440.9" stroke="#bf520c" stroke-width="3.5"/>
<line x1="131.0" y1="417.6" x2="144.3" y2="423.1" stroke="#c6a60a" stroke-width="3.5"/>
<line x1="144.3" y1="423.1" x2="157.7" y2="428.7" stroke="#bf520c" stroke-width="3.5"/>
<line x1="122.1" y1="440.9" x2="121.5" y2="448.6" stroke="#bf520c" stroke-width="2.4"/>
<line x1="121.5" y1="448.6" x2="121.0" y2="456.4" stroke="#e8e8e8" stroke-width="2.4"/>
<line x1="122.1" y1="440.9" x2="130.4" y2="441.4" stroke="#bf520c" stroke-width="3.5"/>
<line x1="130.4" y1="441.4" x2="138.8" y2="442.0" stroke="#bf520c" stroke-width="3.5"/>
<line x1="138.8" y1="442.0" x2="136.0" y2="448.4" stroke="#bf520c" stroke-width="2.4"/>
<line x1="136.0" y1="448.4" x2="133.2" y2="454.7" stroke="#e8e8e8" stroke-width="2.4"/>
<line x1="138.8" y1="442.0" x2="139.4" y2="434.2" stroke="#bf520c" stroke-width="2.4"/>
<line x1="139.4" y1="434.2" x2="139.9" y2="426.4" stroke="#e8e8e8" stroke-width="2.4"/>
<line x1="138.8" y1="442.0" x2="150.4" y2="445.9" stroke="#bf520c" stroke-width="3.5"/>
<line x1="150.4" y1="445.9" x2="162.1" y2="449.8" stroke="#bf520c" stroke-width="3.5"/>
<line x1="157.7" y1="428.7" x2="159.9" y2="439.2" stroke="#bf520c" stroke-width="3.5"/>
<line x1="159.9" y1="439.2" x2="162.1" y2="449.8" stroke="#bf520c" stroke-width="3.5"/>
<line x1="157.7" y1="428.7" x2="157.1" y2="437.5" stroke="#bf520c" stroke-width="2.4"/>
<line x1="157.1" y1="437.5" x2="156.6" y2="446.4" stroke="#e8e8e8" stroke-width="2.4"/>
<line x1="157.7" y1="428.7" x2="164.1" y2="420.4" stroke="#bf520c" stroke-width="3.5"/>
<line x1="164.1" y1="420.4" x2="170.4" y2="412.0" stroke="#bf520c" stroke-width="3.5"/>
<line x1="162.1" y1="449.8" x2="165.4" y2="458.7" stroke="#bf520c" stroke-width="3.5"/>
<line x1="165.4" y1="458.7" x2="168.8" y2="467.6" stroke="#d80000" stroke-width="3.5"/>
<line x1="162.1" y1="449.8" x2="167.6" y2="440.9" stroke="#bf520c" stroke-width="3.5"/>
<line x1="167.6" y1="440.9" x2="173.2" y2="432.0" stroke="#bf520c" stroke-width="3.5"/>
<line x1="173.2" y1="432.0" x2="176.8" y2="427.0" stroke="#bf520c" stroke-width="3.5"/>
<line x1="176.8" y1="427.0" x2="180.4" y2="422.0" stroke="#bf520c" stroke-width="3.5"/>
<line x1="173.2" y1="432.0" x2="176.8" y2="435.9" stroke="#bf520c" stroke-width="2.4"/>
<line x1="176.8" y1="435.9" x2="180.4" y2="439.8" stroke="#e8e8e8" stroke-width="2.4"/>
<line x1="173.2" y1="432.0" x2="180.7" y2="434.8" stroke="#bf520c" stroke-width="2.4"/>
<line x1="180.7" y1="434.8" x2="188.2" y2="437.6" stroke="#e8e8e8" stroke-width="2.4"/>
<line x1="181.6" y1="375.3" x2="186.9" y2="379.8" stroke="#bf520c" stroke-width="3.5"/>
<line x1="186.9" y1="379.8" x2="192.2" y2="384.2" stroke="#bf520c" stroke-width="3.5"/>
<line x1="192.2" y1="384.2" x2="191.9" y2="395.3" stroke="#bf520c" stroke-width="3.5"/>
<line x1="191.9" y1="395.3" x2="191.6" y2="406.4" stroke="#bf520c" stroke-width="3.5"/>
<line x1="191.6" y1="406.4" x2="186.0" y2="414.2" stroke="#bf520c" stroke-width="3.5"/>
<line x1="186.0" y1="414.2" x2="180.4" y2="422.0" stroke="#bf520c" stroke-width="3.5"/>
<line x1="180.4" y1="422.0" x2="175.4" y2="417.0" stroke="#bf520c" stroke-width="3.5"/>
<line x1="175.4" y1="417.0" x2="170.4" y2="412.0" stroke="#bf520c" stroke-width="3.5"/>
<line x1="170.4" y1="412.0" x2="171.0" y2="400.9" stroke="#bf520c" stroke-width="3.5"/>
<line x1="171.0" y1="400.9" x2="171.6" y2="389.8" stroke="#bf520c" stroke-width="3.5"/>
<line x1="171.6" y1="389.8" x2="176.6" y2="382.6" stroke="#bf520c" stroke-width="3.5"/>
<line x1="176.6" y1="382.6" x2="181.6" y2="375.3" stroke="#bf520c" stroke-width="3.5"/>
<line x1="181.6" y1="375.3" x2="181.6" y2="367.0" stroke="#bf520c" stroke-width="2.4"/>
<line x1="181.6" y1="367.0" x2="181.6" y2="358.7" stroke="#e8e8e8" stroke-width="2.4"/>
<line x1="192.2" y1="384.2" x2="196.3" y2="378.9" stroke="#bf520c" stroke-width="2.4"/>
<line x1="196.3" y1="378.9" x2="200.4" y2="373.6" stroke="#e8e8e8" stroke-width="2.4"/>
<line x1="191.6" y1="406.4" x2="195.4" y2="410.3" stroke="#bf520c" stroke-width="2.4"/>
<line x1="195.4" y1="410.3" x2="199.3" y2="414.2" stroke="#e8e8e8" stroke-width="2.4"/>
<line x1="171.6" y1="389.8" x2="166.8" y2="386.5" stroke="#bf520c" stroke-width="2.4"/>
<line x1="166.8" y1="386.5" x2="162.1" y2="383.1" stroke="#e8e8e8" stroke-width="2.4"/>
<line x1="151.0" y1="491.1" x2="163.2" y2="488.9" stroke="#bf520c" stroke-width="3.5"/>
<line x1="163.2" y1="488.9" x2="175.4" y2="486.7" stroke="#bf520c" stroke-width="3.5"/>
<line x1="175.4" y1="486.7" x2="177.1" y2="497.8" stroke="#bf520c" stroke-width="3.5"/>
<line x1="177.1" y1="497.8" x2="178.8" y2="508.9" stroke="#bf520c" stroke-width="3.5"/>
<line x1="178.8" y1="508.9" x2="167.1" y2="510.6" stroke="#bf520c" stroke-width="3.5"/>
<line x1="167.1" y1="510.6" x2="155.4" y2="512.2" stroke="#bf520c" stroke-width="3.5"/>
<line x1="155.4" y1="512.2" x2="153.2" y2="501.7" stroke="#bf520c" stroke-width="3.5"/>
<line x1="153.2" y1="501.7" x2="151.0" y2="491.1" stroke="#bf520c" stroke-width="3.5"/>
<line x1="151.0" y1="491.1" x2="142.7" y2="485.2" stroke="#bf520c" stroke-width="3.5"/>
<line x1="142.7" y1="485.2" x2="134.3" y2="479.3" stroke="#d80000" stroke-width="3.5"/>
<line x1="175.4" y1="486.7" x2="181.8" y2="480.0" stroke="#bf520c" stroke-width="3.5"/>
<line x1="181.8" y1="480.0" x2="188.2" y2="473.3" stroke="#d80000" stroke-width="3.5"/>
<line x1="155.4" y1="512.2" x2="149.9" y2="520.5" stroke="#bf520c" stroke-width="3.5"/>
<line x1="149.9" y1="520.5" x2="144.3" y2="528.9" stroke="#7ea6b6" stroke-width="3.5"/>
<line x1="144.3" y1="528.9" x2="148.2" y2="535.0" stroke="#7ea6b6" stroke-width="2.4"/>
<line x1="148.2" y1="535.0" x2="152.1" y2="541.1" stroke="#e8e8e8" stroke-width="2.4"/>
<line x1="144.3" y1="528.9" x2="132.7" y2="531.1" stroke="#7ea6b6" stroke-width="3.5"/>
<line x1="132.7" y1="531.1" x2="121.0" y2="533.3" stroke="#bf520c" stroke-width="3.5"/>
<line x1="178.8" y1="508.9" x2="187.9" y2="512.2" stroke="#bf520c" stroke-width="3.5"/>
<line x1="187.9" y1="512.2" x2="197.1" y2="515.6" stroke="#7ea6b6" stroke-width="3.5"/>
<line x1="197.1" y1="515.6" x2="195.8" y2="522.6" stroke="#7ea6b6" stroke-width="2.4"/>
<line x1="195.8" y1="522.6" x2="194.4" y2="529.6" stroke="#e8e8e8" stroke-width="2.4"/>
<line x1="197.1" y1="515.6" x2="208.0" y2="511.1" stroke="#7ea6b6" stroke-width="3.5"/>
<line x1="208.0" y1="511.1" x2="218.9" y2="506.7" stroke="#bf520c" stroke-width="3.5"/>
<line x1="196.0" y1="548.9" x2="188.8" y2="556.6" stroke="#d80000" stroke-width="3.5"/>
<line x1="188.8" y1="556.6" x2="181.6" y2="564.4" stroke="#bf520c" stroke-width="3.5"/>
<line x1="181.6" y1="564.4" x2="173.1" y2="564.1" stroke="#bf520c" stroke-width="3.5"/>
<line x1="173.1" y1="564.1" x2="164.5" y2="563.8" stroke="#d80000" stroke-width="3.5"/>
<line x1="181.6" y1="564.4" x2="183.6" y2="573.3" stroke="#bf520c" stroke-width="3.5"/>
<line x1="183.6" y1="573.3" x2="185.6" y2="582.2" stroke="#d80000" stroke-width="3.5"/>
<line x1="185.6" y1="582.2" x2="179.6" y2="586.9" stroke="#d80000" stroke-width="2.4"/>
<line x1="179.6" y1="586.9" x2="173.5" y2="591.5" stroke="#e8e8e8" stroke-width="2.4"/>
<line x1="105.4" y1="518.9" x2="94.8" y2="521.6" stroke="#bf520c" stroke-width="3.5"/>
<line x1="94.8" y1="521.6" x2="84.3" y2="524.4" stroke="#bf520c" stroke-width="3.5"/>
<line x1="84.3" y1="524.4" x2="79.8" y2="534.4" stroke="#bf520c" stroke-width="3.5"/>
<line x1="79.8" y1="534.4" x2="75.4" y2="544.4" stroke="#bf520c" stroke-width="3.5"/>
<line x1="75.4" y1="544.4" x2="83.2" y2="551.6" stroke="#bf520c" stroke-width="3.5"/>
<line x1="83.2" y1="551.6" x2="91.0" y2="558.9" stroke="#bf520c" stroke-width="3.5"/>
<line x1="91.0" y1="558.9" x2="102.7" y2="556.1" stroke="#bf520c" stroke-width="3.5"/>
<line x1="102.7" y1="556.1" x2="114.3" y2="553.3" stroke="#bf520c" stroke-width="3.5"/>
<line x1="114.3" y1="553.3" x2="117.7" y2="543.3" stroke="#bf520c" stroke-width="3.5"/>
<line x1="117.7" y1="543.3" x2="121.0" y2="533.3" stroke="#bf520c" stroke-width="3.5"/>
<line x1="121.0" y1="533.3" x2="113.2" y2="526.1" stroke="#bf520c" stroke-width="3.5"/>
<line x1="113.2" y1="526.1" x2="105.4" y2="518.9" stroke="#bf520c" stroke-width="3.5"/>
<line x1="105.4" y1="518.9" x2="108.4" y2="511.1" stroke="#bf520c" stroke-width="2.4"/>
<line x1="108.4" y1="511.1" x2="111.4" y2="503.3" stroke="#e8e8e8" stroke-width="2.4"/>
<line x1="75.4" y1="544.4" x2="66.6" y2="546.1" stroke="#bf520c" stroke-width="2.4"/>
<line x1="66.6" y1="546.1" x2="57.7" y2="547.8" stroke="#e8e8e8" stroke-width="2.4"/>
<line x1="114.3" y1="553.3" x2="119.8" y2="558.8" stroke="#bf520c" stroke-width="2.4"/>
<line x1="119.8" y1="558.8" x2="125.4" y2="564.4" stroke="#e8e8e8" stroke-width="2.4"/>
<line x1="84.3" y1="524.4" x2="75.4" y2="516.6" stroke="#bf520c" stroke-width="3.5"/>
<line x1="75.4" y1="516.6" x2="66.6" y2="508.9" stroke="#bf520c" stroke-width="3.5"/>
<line x1="66.6" y1="508.9" x2="71.0" y2="500.0" stroke="#bf520c" stroke-width="3.5"/>
<line x1="71.0" y1="500.0" x2="75.4" y2="491.1" stroke="#c8920e" stroke-width="3.5"/>
<line x1="66.6" y1="508.9" x2="58.8" y2="505.0" stroke="#bf520c" stroke-width="3.5"/>
<line x1="58.8" y1="505.0" x2="51.0" y2="501.1" stroke="#c8920e" stroke-width="3.5"/>
<line x1="66.6" y1="508.9" x2="60.4" y2="513.9" stroke="#bf520c" stroke-width="3.5"/>
<line x1="60.4" y1="513.9" x2="54.3" y2="518.9" stroke="#c8920e" stroke-width="3.5"/>
<line x1="91.0" y1="558.9" x2="87.7" y2="570.0" stroke="#bf520c" stroke-width="3.5"/>
<line x1="87.7" y1="570.0" x2="84.3" y2="581.1" stroke="#bf520c" stroke-width="3.5"/>
<line x1="84.3" y1="581.1" x2="73.2" y2="580.5" stroke="#bf520c" stroke-width="3.5"/>
<line x1="73.2" y1="580.5" x2="62.1" y2="580.0" stroke="#c8920e" stroke-width="3.5"/>
<line x1="84.3" y1="581.1" x2="89.3" y2="583.4" stroke="#bf520c" stroke-width="3.5"/>
<line x1="89.3" y1="583.4" x2="94.3" y2="585.6" stroke="#c8920e" stroke-width="3.5"/>
<line x1="84.3" y1="581.1" x2="86.0" y2="589.5" stroke="#bf520c" stroke-width="3.5"/>
<line x1="86.0" y1="589.5" x2="87.7" y2="597.8" stroke="#c8920e" stroke-width="3.5"/>
<line x1="233.8" y1="418.7" x2="235.7" y2="410.4" stroke="#bf520c" stroke-width="2.4"/>
<line x1="235.7" y1="410.4" x2="237.6" y2="402.0" stroke="#e8e8e8" stroke-width="2.4"/>
<line x1="233.8" y1="418.7" x2="229.9" y2="423.1" stroke="#bf520c" stroke-width="3.5"/>
<line x1="229.9" y1="423.1" x2="226.0" y2="427.6" stroke="#bf520c" stroke-width="3.5"/>
<line x1="233.8" y1="418.7" x2="235.2" y2="427.0" stroke="#bf520c" stroke-width="3.5"/>
<line x1="235.2" y1="427.0" x2="236.7" y2="435.3" stroke="#bf520c" stroke-width="3.5"/>
<line x1="226.0" y1="427.6" x2="225.4" y2="422.0" stroke="#bf520c" stroke-width="2.4"/>
<line x1="225.4" y1="422.0" x2="224.9" y2="416.4" stroke="#e8e8e8" stroke-width="2.4"/>
<line x1="236.7" y1="435.3" x2="239.3" y2="432.0" stroke="#bf520c" stroke-width="2.4"/>
<line x1="239.3" y1="432.0" x2="242.0" y2="428.7" stroke="#e8e8e8" stroke-width="2.4"/>
<line x1="226.0" y1="427.6" x2="223.7" y2="438.8" stroke="#bf520c" stroke-width="3.5"/>
<line x1="223.7" y1="438.8" x2="221.4" y2="449.9" stroke="#bf520c" stroke-width="3.5"/>
<line x1="236.7" y1="435.3" x2="234.1" y2="446.0" stroke="#bf520c" stroke-width="3.5"/>
<line x1="234.1" y1="446.0" x2="231.6" y2="456.7" stroke="#bf520c" stroke-width="3.5"/>
<line x1="221.4" y1="449.9" x2="217.7" y2="453.3" stroke="#bf520c" stroke-width="3.5"/>
<line x1="217.7" y1="453.3" x2="214.0" y2="456.7" stroke="#6a92a2" stroke-width="3.5"/>
<line x1="221.4" y1="449.9" x2="222.8" y2="457.7" stroke="#bf520c" stroke-width="3.5"/>
<line x1="222.8" y1="457.7" x2="224.2" y2="465.5" stroke="#bf520c" stroke-width="3.5"/>
<line x1="231.6" y1="456.7" x2="227.9" y2="461.1" stroke="#bf520c" stroke-width="3.5"/>
<line x1="227.9" y1="461.1" x2="224.2" y2="465.5" stroke="#bf520c" stroke-width="3.5"/>
<line x1="231.6" y1="456.7" x2="232.6" y2="462.1" stroke="#bf520c" stroke-width="2.4"/>
<line x1="232.6" y1="462.1" x2="233.7" y2="467.6" stroke="#e8e8e8" stroke-width="2.4"/>
<line x1="214.0" y1="456.7" x2="211.9" y2="467.2" stroke="#6a92a2" stroke-width="3.5"/>
<line x1="211.9" y1="467.2" x2="209.9" y2="477.7" stroke="#7a3c10" stroke-width="3.5"/>
<line x1="224.2" y1="465.5" x2="220.9" y2="476.6" stroke="#bf520c" stroke-width="3.5"/>
<line x1="220.9" y1="476.6" x2="217.6" y2="487.8" stroke="#bf520c" stroke-width="3.5"/>
<line x1="209.9" y1="477.7" x2="206.5" y2="480.4" stroke="#7a3c10" stroke-width="2.4"/>
<line x1="206.5" y1="480.4" x2="203.1" y2="483.2" stroke="#e8e8e8" stroke-width="2.4"/>
<line x1="209.9" y1="477.7" x2="210.2" y2="486.1" stroke="#7a3c10" stroke-width="3.5"/>
<line x1="210.2" y1="486.1" x2="210.5" y2="494.5" stroke="#bf520c" stroke-width="3.5"/>
<line x1="217.6" y1="487.8" x2="214.1" y2="491.1" stroke="#bf520c" stroke-width="3.5"/>
<line x1="214.1" y1="491.1" x2="210.5" y2="494.5" stroke="#bf520c" stroke-width="3.5"/>
<line x1="210.5" y1="494.5" x2="214.7" y2="500.6" stroke="#bf520c" stroke-width="3.5"/>
<line x1="214.7" y1="500.6" x2="218.9" y2="506.7" stroke="#bf520c" stroke-width="3.5"/>
<line x1="218.9" y1="506.7" x2="219.6" y2="502.4" stroke="#bf520c" stroke-width="2.4"/>
<line x1="219.6" y1="502.4" x2="220.3" y2="498.0" stroke="#e8e8e8" stroke-width="2.4"/>
<line x1="218.9" y1="506.7" x2="228.0" y2="515.0" stroke="#bf520c" stroke-width="3.5"/>
<line x1="228.0" y1="515.0" x2="237.1" y2="523.3" stroke="#bf520c" stroke-width="3.5"/>
<line x1="237.1" y1="523.3" x2="237.6" y2="531.1" stroke="#bf520c" stroke-width="3.5"/>
<line x1="237.6" y1="531.1" x2="238.2" y2="538.9" stroke="#7ea6b6" stroke-width="3.5"/>
<line x1="237.1" y1="523.3" x2="248.8" y2="517.2" stroke="#bf520c" stroke-width="3.5"/>
<line x1="248.8" y1="517.2" x2="260.4" y2="511.1" stroke="#bf520c" stroke-width="3.5"/>
<line x1="237.1" y1="523.3" x2="234.3" y2="528.3" stroke="#bf520c" stroke-width="2.4"/>
<line x1="234.3" y1="528.3" x2="231.6" y2="533.3" stroke="#e8e8e8" stroke-width="2.4"/>
<line x1="249.3" y1="530.0" x2="246.0" y2="521.6" stroke="#bf520c" stroke-width="2.4"/>
<line x1="246.0" y1="521.6" x2="242.7" y2="513.3" stroke="#e8e8e8" stroke-width="2.4"/>
<line x1="238.2" y1="538.9" x2="243.8" y2="534.5" stroke="#7ea6b6" stroke-width="3.5"/>
<line x1="243.8" y1="534.5" x2="249.3" y2="530.0" stroke="#bf520c" stroke-width="3.5"/>
<line x1="238.2" y1="538.9" x2="244.3" y2="548.9" stroke="#7ea6b6" stroke-width="3.5"/>
<line x1="244.3" y1="548.9" x2="250.4" y2="558.9" stroke="#bf520c" stroke-width="3.5"/>
<line x1="249.3" y1="530.0" x2="248.2" y2="535.5" stroke="#bf520c" stroke-width="2.4"/>
<line x1="248.2" y1="535.5" x2="247.1" y2="541.1" stroke="#e8e8e8" stroke-width="2.4"/>
<line x1="249.3" y1="530.0" x2="262.1" y2="528.4" stroke="#bf520c" stroke-width="3.5"/>
<line x1="262.1" y1="528.4" x2="274.9" y2="526.7" stroke="#bf520c" stroke-width="3.5"/>
<line x1="260.4" y1="511.1" x2="267.6" y2="518.9" stroke="#bf520c" stroke-width="3.5"/>
<line x1="267.6" y1="518.9" x2="274.9" y2="526.7" stroke="#bf520c" stroke-width="3.5"/>
<line x1="260.4" y1="511.1" x2="260.4" y2="503.4" stroke="#bf520c" stroke-width="2.4"/>
<line x1="260.4" y1="503.4" x2="260.4" y2="495.6" stroke="#e8e8e8" stroke-width="2.4"/>
<line x1="274.9" y1="526.7" x2="278.2" y2="515.5" stroke="#bf520c" stroke-width="3.5"/>
<line x1="278.2" y1="515.5" x2="281.6" y2="504.4" stroke="#bf520c" stroke-width="3.5"/>
<line x1="274.9" y1="526.7" x2="273.8" y2="539.5" stroke="#bf520c" stroke-width="3.5"/>
<line x1="273.8" y1="539.5" x2="272.7" y2="552.2" stroke="#bf520c" stroke-width="3.5"/>
<line x1="274.9" y1="526.7" x2="284.4" y2="525.0" stroke="#bf520c" stroke-width="2.4"/>
<line x1="284.4" y1="525.0" x2="293.8" y2="523.3" stroke="#e8e8e8" stroke-width="2.4"/>
<line x1="274.9" y1="526.7" x2="279.4" y2="533.4" stroke="#bf520c" stroke-width="2.4"/>
<line x1="279.4" y1="533.4" x2="283.8" y2="540.0" stroke="#e8e8e8" stroke-width="2.4"/>
<line x1="281.6" y1="504.4" x2="278.2" y2="497.2" stroke="#bf520c" stroke-width="2.4"/>
<line x1="278.2" y1="497.2" x2="274.9" y2="490.0" stroke="#e8e8e8" stroke-width="2.4"/>
<line x1="281.6" y1="504.4" x2="290.5" y2="503.9" stroke="#bf520c" stroke-width="3.5"/>
<line x1="290.5" y1="503.9" x2="299.3" y2="503.3" stroke="#bf520c" stroke-width="3.5"/>
<line x1="299.3" y1="503.3" x2="302.1" y2="495.0" stroke="#bf520c" stroke-width="2.4"/>
<line x1="302.1" y1="495.0" x2="304.9" y2="486.7" stroke="#e8e8e8" stroke-width="2.4"/>
<line x1="299.3" y1="503.3" x2="302.6" y2="510.5" stroke="#bf520c" stroke-width="2.4"/>
<line x1="302.6" y1="510.5" x2="306.0" y2="517.8" stroke="#e8e8e8" stroke-width="2.4"/>
<line x1="250.4" y1="558.9" x2="261.6" y2="555.5" stroke="#bf520c" stroke-width="3.5"/>
<line x1="261.6" y1="555.5" x2="272.7" y2="552.2" stroke="#bf520c" stroke-width="3.5"/>
<line x1="250.4" y1="558.9" x2="244.9" y2="563.3" stroke="#bf520c" stroke-width="2.4"/>
<line x1="244.9" y1="563.3" x2="239.3" y2="567.8" stroke="#e8e8e8" stroke-width="2.4"/>
<line x1="250.4" y1="558.9" x2="251.0" y2="564.5" stroke="#bf520c" stroke-width="2.4"/>
<line x1="251.0" y1="564.5" x2="251.6" y2="570.0" stroke="#e8e8e8" stroke-width="2.4"/>
<line x1="272.7" y1="552.2" x2="279.4" y2="557.2" stroke="#bf520c" stroke-width="2.4"/>
<line x1="279.4" y1="557.2" x2="286.0" y2="562.2" stroke="#e8e8e8" stroke-width="2.4"/>
<circle cx="72.1" cy="411.6" r="6.4" fill="url(#gC)"/>
<circle cx="93.2" cy="415.8" r="6.4" fill="url(#gC)"/>
<circle cx="54.3" cy="428.2" r="6.4" fill="url(#gC)"/>
<circle cx="97.7" cy="436.4" r="6.4" fill="url(#gC)"/>
<circle cx="59.9" cy="448.7" r="6.4" fill="url(#gC)"/>
<circle cx="81.7" cy="453.1" r="6.4" fill="url(#gC)"/>
<circle cx="67.7" cy="395.3" r="3.6" fill="url(#gH)"/>
<circle cx="106.6" cy="402.7" r="3.6" fill="url(#gH)"/>
<circle cx="38.8" cy="424.2" r="3.6" fill="url(#gH)"/>
<circle cx="47.7" cy="460.9" r="3.6" fill="url(#gH)"/>
<circle cx="85.0" cy="467.6" r="3.6" fill="url(#gH)"/>
<circle cx="97.7" cy="424.2" r="3.6" fill="url(#gH)"/>
<circle cx="119.9" cy="417.6" r="3.6" fill="url(#gH)"/>
<circle cx="114.3" cy="426.4" r="6.4" fill="url(#gC)"/>
<circle cx="131.0" cy="417.6" r="8.6" fill="url(#gS)"/>
<circle cx="122.1" cy="440.9" r="6.4" fill="url(#gC)"/>
<circle cx="117.7" cy="444.2" r="3.6" fill="url(#gH)"/>
<circle cx="121.0" cy="456.4" r="3.6" fill="url(#gH)"/>
<circle cx="138.8" cy="442.0" r="6.4" fill="url(#gC)"/>
<circle cx="133.2" cy="454.7" r="3.6" fill="url(#gH)"/>
<circle cx="139.9" cy="426.4" r="3.6" fill="url(#gH)"/>
<circle cx="157.7" cy="428.7" r="6.4" fill="url(#gC)"/>
<circle cx="162.1" cy="449.8" r="6.4" fill="url(#gC)"/>
<circle cx="156.6" cy="446.4" r="3.6" fill="url(#gH)"/>
<circle cx="168.8" cy="467.6" r="6.8" fill="url(#gO)"/>
<circle cx="173.2" cy="432.0" r="6.4" fill="url(#gC)"/>
<circle cx="180.4" cy="439.8" r="3.6" fill="url(#gH)"/>
<circle cx="188.2" cy="437.6" r="3.6" fill="url(#gH)"/>
<circle cx="181.6" cy="375.3" r="6.4" fill="url(#gC)"/>
<circle cx="192.2" cy="384.2" r="6.4" fill="url(#gC)"/>
<circle cx="171.6" cy="389.8" r="6.4" fill="url(#gC)"/>
<circle cx="191.6" cy="406.4" r="6.4" fill="url(#gC)"/>
<circle cx="170.4" cy="412.0" r="6.4" fill="url(#gC)"/>
<circle cx="180.4" cy="422.0" r="6.4" fill="url(#gC)"/>
<circle cx="181.6" cy="358.7" r="3.6" fill="url(#gH)"/>
<circle cx="200.4" cy="373.6" r="3.6" fill="url(#gH)"/>
<circle cx="199.3" cy="414.2" r="3.6" fill="url(#gH)"/>
<circle cx="162.1" cy="383.1" r="3.6" fill="url(#gH)"/>
<circle cx="151.0" cy="491.1" r="6.4" fill="url(#gC)"/>
<circle cx="175.4" cy="486.7" r="6.4" fill="url(#gC)"/>
<circle cx="155.4" cy="512.2" r="6.4" fill="url(#gC)"/>
<circle cx="178.8" cy="508.9" r="6.4" fill="url(#gC)"/>
<circle cx="134.3" cy="479.3" r="6.8" fill="url(#gO)"/>
<circle cx="188.2" cy="473.3" r="6.8" fill="url(#gO)"/>
<circle cx="144.3" cy="528.9" r="7.0" fill="url(#gN)"/>
<circle cx="152.1" cy="541.1" r="3.6" fill="url(#gH)"/>
<circle cx="197.1" cy="515.6" r="7.0" fill="url(#gN)"/>
<circle cx="194.4" cy="529.6" r="3.6" fill="url(#gH)"/>
<circle cx="196.0" cy="548.9" r="6.8" fill="url(#gO)"/>
<circle cx="181.6" cy="564.4" r="6.4" fill="url(#gC)"/>
<circle cx="164.5" cy="563.8" r="6.8" fill="url(#gO)"/>
<circle cx="185.6" cy="582.2" r="6.8" fill="url(#gO)"/>
<circle cx="173.5" cy="591.5" r="3.6" fill="url(#gH)"/>
<circle cx="105.4" cy="518.9" r="6.4" fill="url(#gC)"/>
<circle cx="84.3" cy="524.4" r="6.4" fill="url(#gC)"/>
<circle cx="121.0" cy="533.3" r="6.4" fill="url(#gC)"/>
<circle cx="75.4" cy="544.4" r="6.4" fill="url(#gC)"/>
<circle cx="114.3" cy="553.3" r="6.4" fill="url(#gC)"/>
<circle cx="91.0" cy="558.9" r="6.4" fill="url(#gC)"/>
<circle cx="111.4" cy="503.3" r="3.6" fill="url(#gH)"/>
<circle cx="57.7" cy="547.8" r="3.6" fill="url(#gH)"/>
<circle cx="125.4" cy="564.4" r="3.6" fill="url(#gH)"/>
<circle cx="66.6" cy="508.9" r="6.4" fill="url(#gC)"/>
<circle cx="75.4" cy="491.1" r="5.8" fill="url(#gF)"/>
<circle cx="51.0" cy="501.1" r="5.8" fill="url(#gF)"/>
<circle cx="54.3" cy="518.9" r="5.8" fill="url(#gF)"/>
<circle cx="84.3" cy="581.1" r="6.4" fill="url(#gC)"/>
<circle cx="62.1" cy="580.0" r="5.8" fill="url(#gF)"/>
<circle cx="94.3" cy="585.6" r="5.8" fill="url(#gF)"/>
<circle cx="87.7" cy="597.8" r="5.8" fill="url(#gF)"/>
<circle cx="233.8" cy="418.7" r="6.4" fill="url(#gC)"/>
<circle cx="237.6" cy="402.0" r="3.6" fill="url(#gH)"/>
<circle cx="224.9" cy="416.4" r="3.6" fill="url(#gH)"/>
<circle cx="226.0" cy="427.6" r="6.4" fill="url(#gC)"/>
<circle cx="242.0" cy="428.7" r="3.6" fill="url(#gH)"/>
<circle cx="236.7" cy="435.3" r="6.4" fill="url(#gC)"/>
<circle cx="221.4" cy="449.9" r="6.4" fill="url(#gC)"/>
<circle cx="231.6" cy="456.7" r="6.4" fill="url(#gC)"/>
<circle cx="224.2" cy="465.5" r="6.4" fill="url(#gC)"/>
<circle cx="233.7" cy="467.6" r="3.6" fill="url(#gH)"/>
<circle cx="209.9" cy="477.7" r="6.4" fill="url(#gk)"/>
<circle cx="203.1" cy="483.2" r="3.6" fill="url(#gH)"/>
<circle cx="217.6" cy="487.8" r="6.4" fill="url(#gC)"/>
<circle cx="210.5" cy="494.5" r="6.4" fill="url(#gC)"/>
<circle cx="220.3" cy="498.0" r="3.6" fill="url(#gH)"/>
<circle cx="218.9" cy="506.7" r="6.4" fill="url(#gC)"/>
<circle cx="237.1" cy="523.3" r="6.4" fill="url(#gC)"/>
<circle cx="238.2" cy="538.9" r="7.0" fill="url(#gN)"/>
<circle cx="231.6" cy="533.3" r="3.6" fill="url(#gH)"/>
<circle cx="249.3" cy="530.0" r="6.4" fill="url(#gC)"/>
<circle cx="242.7" cy="513.3" r="3.6" fill="url(#gH)"/>
<circle cx="247.1" cy="541.1" r="3.6" fill="url(#gH)"/>
<circle cx="260.4" cy="511.1" r="6.4" fill="url(#gC)"/>
<circle cx="260.4" cy="495.6" r="3.6" fill="url(#gH)"/>
<circle cx="274.9" cy="526.7" r="6.4" fill="url(#gC)"/>
<circle cx="293.8" cy="523.3" r="3.6" fill="url(#gH)"/>
<circle cx="283.8" cy="540.0" r="3.6" fill="url(#gH)"/>
<circle cx="281.6" cy="504.4" r="6.4" fill="url(#gC)"/>
<circle cx="274.9" cy="490.0" r="3.6" fill="url(#gH)"/>
<circle cx="299.3" cy="503.3" r="6.4" fill="url(#gC)"/>
<circle cx="304.9" cy="486.7" r="3.6" fill="url(#gH)"/>
<circle cx="306.0" cy="517.8" r="3.6" fill="url(#gH)"/>
<circle cx="250.4" cy="558.9" r="6.4" fill="url(#gC)"/>
<circle cx="272.7" cy="552.2" r="6.4" fill="url(#gC)"/>
<circle cx="239.3" cy="567.8" r="3.6" fill="url(#gH)"/>
<circle cx="251.6" cy="570.0" r="3.6" fill="url(#gH)"/>
<circle cx="286.0" cy="562.2" r="3.6" fill="url(#gH)"/>
<line x1="551.2" y1="574.5" x2="558.1" y2="577.7" stroke="#4a2206" stroke-width="5.1"/>
<line x1="558.1" y1="577.7" x2="565.0" y2="580.9" stroke="#4a2206" stroke-width="5.1"/>
<line x1="565.0" y1="580.9" x2="568.6" y2="571.3" stroke="#4a2206" stroke-width="5.1"/>
<line x1="568.6" y1="571.3" x2="572.3" y2="561.8" stroke="#4a2206" stroke-width="5.1"/>
<line x1="572.3" y1="561.8" x2="569.1" y2="549.7" stroke="#4a2206" stroke-width="5.1"/>
<line x1="569.1" y1="549.7" x2="566.0" y2="537.6" stroke="#4a2206" stroke-width="5.1"/>
<line x1="566.0" y1="537.6" x2="558.6" y2="533.9" stroke="#4a2206" stroke-width="5.1"/>
<line x1="558.6" y1="533.9" x2="551.2" y2="530.2" stroke="#4a2206" stroke-width="5.1"/>
<line x1="572.3" y1="561.8" x2="577.0" y2="565.0" stroke="#4a2206" stroke-width="4.0"/>
<line x1="577.0" y1="565.0" x2="581.8" y2="568.2" stroke="#3a3a3a" stroke-width="4.0"/>
<line x1="581.9" y1="360.3" x2="586.1" y2="369.1" stroke="#3a3a3a" stroke-width="4.0"/>
<line x1="586.1" y1="369.1" x2="590.3" y2="378.0" stroke="#4a2206" stroke-width="4.0"/>
<line x1="590.3" y1="378.0" x2="590.2" y2="384.2" stroke="#4a2206" stroke-width="5.1"/>
<line x1="590.2" y1="384.2" x2="590.2" y2="390.4" stroke="#4a2206" stroke-width="5.1"/>
<line x1="590.2" y1="390.4" x2="594.9" y2="390.4" stroke="#4a2206" stroke-width="5.1"/>
<line x1="594.9" y1="390.4" x2="599.6" y2="390.4" stroke="#4a2206" stroke-width="5.1"/>
<line x1="599.6" y1="390.4" x2="599.5" y2="386.3" stroke="#4a2206" stroke-width="4.0"/>
<line x1="599.5" y1="386.3" x2="599.3" y2="382.2" stroke="#3a3a3a" stroke-width="4.0"/>
<line x1="599.3" y1="382.2" x2="594.8" y2="380.1" stroke="#3a3a3a" stroke-width="4.0"/>
<line x1="594.8" y1="380.1" x2="590.3" y2="378.0" stroke="#4a2206" stroke-width="4.0"/>
<line x1="547.0" y1="510.1" x2="549.1" y2="520.2" stroke="#3a3a3a" stroke-width="4.0"/>
<line x1="549.1" y1="520.2" x2="551.2" y2="530.2" stroke="#4a2206" stroke-width="4.0"/>
<line x1="609.8" y1="433.8" x2="612.5" y2="441.6" stroke="#4a2206" stroke-width="5.1"/>
<line x1="612.5" y1="441.6" x2="615.1" y2="449.5" stroke="#4a2206" stroke-width="5.1"/>
<line x1="597.7" y1="430.2" x2="603.8" y2="432.0" stroke="#4a2206" stroke-width="5.1"/>
<line x1="603.8" y1="432.0" x2="609.8" y2="433.8" stroke="#4a2206" stroke-width="5.1"/>
<line x1="551.2" y1="574.5" x2="558.1" y2="577.7" stroke="#7a3c10" stroke-width="3.5"/>
<line x1="558.1" y1="577.7" x2="565.0" y2="580.9" stroke="#7a3c10" stroke-width="3.5"/>
<line x1="565.0" y1="580.9" x2="568.6" y2="571.3" stroke="#7a3c10" stroke-width="3.5"/>
<line x1="568.6" y1="571.3" x2="572.3" y2="561.8" stroke="#7a3c10" stroke-width="3.5"/>
<line x1="572.3" y1="561.8" x2="569.1" y2="549.7" stroke="#7a3c10" stroke-width="3.5"/>
<line x1="569.1" y1="549.7" x2="566.0" y2="537.6" stroke="#7a3c10" stroke-width="3.5"/>
<line x1="566.0" y1="537.6" x2="558.6" y2="533.9" stroke="#7a3c10" stroke-width="3.5"/>
<line x1="558.6" y1="533.9" x2="551.2" y2="530.2" stroke="#7a3c10" stroke-width="3.5"/>
<line x1="572.3" y1="561.8" x2="577.0" y2="565.0" stroke="#7a3c10" stroke-width="2.4"/>
<line x1="577.0" y1="565.0" x2="581.8" y2="568.2" stroke="#6a6a6a" stroke-width="2.4"/>
<line x1="581.9" y1="360.3" x2="586.1" y2="369.1" stroke="#6a6a6a" stroke-width="2.4"/>
<line x1="586.1" y1="369.1" x2="590.3" y2="378.0" stroke="#7a3c10" stroke-width="2.4"/>
<line x1="590.3" y1="378.0" x2="590.2" y2="384.2" stroke="#7a3c10" stroke-width="3.5"/>
<line x1="590.2" y1="384.2" x2="590.2" y2="390.4" stroke="#7a3c10" stroke-width="3.5"/>
<line x1="590.2" y1="390.4" x2="594.9" y2="390.4" stroke="#7a3c10" stroke-width="3.5"/>
<line x1="594.9" y1="390.4" x2="599.6" y2="390.4" stroke="#7a3c10" stroke-width="3.5"/>
<line x1="599.6" y1="390.4" x2="599.5" y2="386.3" stroke="#7a3c10" stroke-width="2.4"/>
<line x1="599.5" y1="386.3" x2="599.3" y2="382.2" stroke="#6a6a6a" stroke-width="2.4"/>
<line x1="599.3" y1="382.2" x2="594.8" y2="380.1" stroke="#6a6a6a" stroke-width="2.4"/>
<line x1="594.8" y1="380.1" x2="590.3" y2="378.0" stroke="#7a3c10" stroke-width="2.4"/>
<line x1="547.0" y1="510.1" x2="549.1" y2="520.2" stroke="#6a6a6a" stroke-width="2.4"/>
<line x1="549.1" y1="520.2" x2="551.2" y2="530.2" stroke="#7a3c10" stroke-width="2.4"/>
<line x1="609.8" y1="433.8" x2="612.5" y2="441.6" stroke="#7a3c10" stroke-width="3.5"/>
<line x1="612.5" y1="441.6" x2="615.1" y2="449.5" stroke="#6a92a2" stroke-width="3.5"/>
<line x1="597.7" y1="430.2" x2="603.8" y2="432.0" stroke="#7a3c10" stroke-width="3.5"/>
<line x1="603.8" y1="432.0" x2="609.8" y2="433.8" stroke="#7a3c10" stroke-width="3.5"/>
<circle cx="568.5" cy="420.5" r="5.6" fill="url(#gn)"/>
<circle cx="560.2" cy="430.8" r="5.6" fill="url(#gn)"/>
<circle cx="581.9" cy="360.3" r="3.6" fill="url(#gh)"/>
<circle cx="590.3" cy="378.0" r="6.4" fill="url(#gc)"/>
<circle cx="590.2" cy="390.4" r="6.4" fill="url(#gc)"/>
<circle cx="599.6" cy="390.4" r="6.4" fill="url(#gc)"/>
<circle cx="599.3" cy="382.2" r="3.6" fill="url(#gh)"/>
<circle cx="610.0" cy="414.2" r="6.4" fill="url(#gc)"/>
<circle cx="615.1" cy="449.5" r="5.6" fill="url(#gn)"/>
<circle cx="623.0" cy="484.8" r="3.6" fill="url(#gh)"/>
<circle cx="547.0" cy="510.1" r="3.6" fill="url(#gh)"/>
<circle cx="551.2" cy="530.2" r="6.4" fill="url(#gc)"/>
<circle cx="566.0" cy="537.6" r="6.4" fill="url(#gc)"/>
<circle cx="572.3" cy="561.8" r="6.4" fill="url(#gc)"/>
<circle cx="581.8" cy="568.2" r="3.6" fill="url(#gh)"/>
<circle cx="551.2" cy="574.5" r="6.4" fill="url(#gc)"/>
<circle cx="565.0" cy="580.9" r="6.4" fill="url(#gc)"/>
<circle cx="597.7" cy="430.2" r="6.4" fill="url(#gc)"/>
<circle cx="609.8" cy="433.8" r="6.4" fill="url(#gc)"/>
<line x1="497.9" y1="372.7" x2="507.0" y2="379.4" stroke="#4a2206" stroke-width="5.1"/>
<line x1="507.0" y1="379.4" x2="516.1" y2="386.2" stroke="#4a2206" stroke-width="5.1"/>
<line x1="516.1" y1="386.2" x2="528.5" y2="383.6" stroke="#4a2206" stroke-width="5.1"/>
<line x1="528.5" y1="383.6" x2="541.0" y2="381.0" stroke="#4a2206" stroke-width="5.1"/>
<line x1="541.0" y1="381.0" x2="541.5" y2="394.5" stroke="#4a2206" stroke-width="5.1"/>
<line x1="541.5" y1="394.5" x2="542.0" y2="408.0" stroke="#4a2206" stroke-width="5.1"/>
<line x1="542.0" y1="408.0" x2="530.1" y2="410.1" stroke="#4a2206" stroke-width="5.1"/>
<line x1="530.1" y1="410.1" x2="518.2" y2="412.2" stroke="#4a2206" stroke-width="5.1"/>
<line x1="518.2" y1="412.2" x2="517.2" y2="399.2" stroke="#4a2206" stroke-width="5.1"/>
<line x1="517.2" y1="399.2" x2="516.1" y2="386.2" stroke="#4a2206" stroke-width="5.1"/>
<line x1="541.0" y1="381.0" x2="549.5" y2="372.2" stroke="#4a2206" stroke-width="5.1"/>
<line x1="549.5" y1="372.2" x2="558.1" y2="363.4" stroke="#4a2206" stroke-width="5.1"/>
<line x1="518.2" y1="412.2" x2="511.0" y2="423.1" stroke="#4a2206" stroke-width="5.1"/>
<line x1="511.0" y1="423.1" x2="503.7" y2="434.0" stroke="#4a2206" stroke-width="5.1"/>
<line x1="542.0" y1="408.0" x2="549.5" y2="414.8" stroke="#4a2206" stroke-width="5.1"/>
<line x1="549.5" y1="414.8" x2="557.0" y2="421.5" stroke="#4a2206" stroke-width="5.1"/>
<line x1="526.5" y1="415.3" x2="533.8" y2="421.1" stroke="#8a8a8a" stroke-width="4.0"/>
<line x1="533.8" y1="421.1" x2="541.0" y2="427.0" stroke="#4a2206" stroke-width="4.0"/>
<line x1="541.0" y1="427.0" x2="543.9" y2="434.6" stroke="#4a2206" stroke-width="4.0"/>
<line x1="543.9" y1="434.6" x2="546.7" y2="442.2" stroke="#8a8a8a" stroke-width="4.0"/>
<line x1="541.0" y1="427.0" x2="549.0" y2="424.2" stroke="#4a2206" stroke-width="5.1"/>
<line x1="549.0" y1="424.2" x2="557.0" y2="421.5" stroke="#4a2206" stroke-width="5.1"/>
<line x1="552.9" y1="404.9" x2="555.0" y2="413.2" stroke="#8a8a8a" stroke-width="4.0"/>
<line x1="555.0" y1="413.2" x2="557.0" y2="421.5" stroke="#4a2206" stroke-width="4.0"/>
<line x1="557.0" y1="421.5" x2="562.8" y2="421.0" stroke="#4a2206" stroke-width="5.1"/>
<line x1="562.8" y1="421.0" x2="568.5" y2="420.5" stroke="#4a2206" stroke-width="5.1"/>
<line x1="557.0" y1="421.5" x2="558.6" y2="426.1" stroke="#4a2206" stroke-width="5.1"/>
<line x1="558.6" y1="426.1" x2="560.2" y2="430.8" stroke="#4a2206" stroke-width="5.1"/>
<line x1="560.2" y1="430.8" x2="559.2" y2="437.1" stroke="#4a2206" stroke-width="4.0"/>
<line x1="559.2" y1="437.1" x2="558.1" y2="443.3" stroke="#8a8a8a" stroke-width="4.0"/>
<line x1="420.7" y1="394.5" x2="425.9" y2="404.9" stroke="#4a2206" stroke-width="5.1"/>
<line x1="425.9" y1="404.9" x2="431.0" y2="415.3" stroke="#4a2206" stroke-width="5.1"/>
<line x1="446.6" y1="404.9" x2="438.8" y2="410.1" stroke="#4a2206" stroke-width="5.1"/>
<line x1="438.8" y1="410.1" x2="431.0" y2="415.3" stroke="#4a2206" stroke-width="5.1"/>
<line x1="411.3" y1="425.7" x2="421.1" y2="420.5" stroke="#4a2206" stroke-width="5.1"/>
<line x1="421.1" y1="420.5" x2="431.0" y2="415.3" stroke="#4a2206" stroke-width="5.1"/>
<line x1="431.0" y1="415.3" x2="438.3" y2="424.6" stroke="#4a2206" stroke-width="5.1"/>
<line x1="438.3" y1="424.6" x2="445.6" y2="434.0" stroke="#4a2206" stroke-width="5.1"/>
<line x1="468.4" y1="423.6" x2="457.0" y2="428.8" stroke="#4a2206" stroke-width="5.1"/>
<line x1="457.0" y1="428.8" x2="445.6" y2="434.0" stroke="#4a2206" stroke-width="5.1"/>
<line x1="468.4" y1="423.6" x2="475.1" y2="431.9" stroke="#4a2206" stroke-width="5.1"/>
<line x1="475.1" y1="431.9" x2="481.9" y2="440.2" stroke="#4a2206" stroke-width="5.1"/>
<line x1="481.9" y1="440.2" x2="477.2" y2="452.1" stroke="#4a2206" stroke-width="5.1"/>
<line x1="477.2" y1="452.1" x2="472.5" y2="464.0" stroke="#4a2206" stroke-width="5.1"/>
<line x1="472.5" y1="464.0" x2="461.6" y2="468.1" stroke="#4a2206" stroke-width="5.1"/>
<line x1="461.6" y1="468.1" x2="450.8" y2="472.3" stroke="#4a2206" stroke-width="5.1"/>
<line x1="450.8" y1="472.3" x2="443.5" y2="464.6" stroke="#4a2206" stroke-width="5.1"/>
<line x1="443.5" y1="464.6" x2="436.2" y2="456.8" stroke="#4a2206" stroke-width="5.1"/>
<line x1="436.2" y1="456.8" x2="440.9" y2="445.4" stroke="#4a2206" stroke-width="5.1"/>
<line x1="440.9" y1="445.4" x2="445.6" y2="434.0" stroke="#4a2206" stroke-width="5.1"/>
<line x1="473.6" y1="404.9" x2="471.0" y2="414.2" stroke="#8a8a8a" stroke-width="4.0"/>
<line x1="471.0" y1="414.2" x2="468.4" y2="423.6" stroke="#4a2206" stroke-width="4.0"/>
<line x1="436.2" y1="456.8" x2="427.9" y2="460.4" stroke="#4a2206" stroke-width="4.0"/>
<line x1="427.9" y1="460.4" x2="419.6" y2="464.0" stroke="#8a8a8a" stroke-width="4.0"/>
<line x1="472.5" y1="464.0" x2="477.2" y2="470.2" stroke="#4a2206" stroke-width="4.0"/>
<line x1="477.2" y1="470.2" x2="481.9" y2="476.5" stroke="#8a8a8a" stroke-width="4.0"/>
<line x1="481.9" y1="440.2" x2="492.8" y2="437.1" stroke="#4a2206" stroke-width="5.1"/>
<line x1="492.8" y1="437.1" x2="503.7" y2="434.0" stroke="#4a2206" stroke-width="5.1"/>
<line x1="503.7" y1="434.0" x2="508.4" y2="441.2" stroke="#4a2206" stroke-width="4.0"/>
<line x1="508.4" y1="441.2" x2="513.0" y2="448.5" stroke="#8a8a8a" stroke-width="4.0"/>
<line x1="450.8" y1="472.3" x2="446.0" y2="486.0" stroke="#4a2206" stroke-width="5.1"/>
<line x1="446.0" y1="486.0" x2="441.1" y2="499.6" stroke="#4a2206" stroke-width="5.1"/>
<line x1="441.1" y1="499.6" x2="429.5" y2="499.6" stroke="#4a2206" stroke-width="5.1"/>
<line x1="429.5" y1="499.6" x2="417.8" y2="499.6" stroke="#4a2206" stroke-width="5.1"/>
<line x1="441.1" y1="499.6" x2="439.0" y2="505.9" stroke="#4a2206" stroke-width="5.1"/>
<line x1="439.0" y1="505.9" x2="436.8" y2="512.2" stroke="#4a2206" stroke-width="5.1"/>
<line x1="441.1" y1="499.6" x2="448.5" y2="506.9" stroke="#4a2206" stroke-width="5.1"/>
<line x1="448.5" y1="506.9" x2="455.8" y2="514.3" stroke="#4a2206" stroke-width="5.1"/>
<line x1="505.0" y1="466.0" x2="509.4" y2="476.4" stroke="#4a2206" stroke-width="5.1"/>
<line x1="509.4" y1="476.4" x2="513.9" y2="486.9" stroke="#4a2206" stroke-width="5.1"/>
<line x1="513.9" y1="486.9" x2="507.5" y2="493.8" stroke="#4a2206" stroke-width="5.1"/>
<line x1="507.5" y1="493.8" x2="501.2" y2="500.6" stroke="#4a2206" stroke-width="5.1"/>
<line x1="513.9" y1="486.9" x2="524.0" y2="490.0" stroke="#4a2206" stroke-width="5.1"/>
<line x1="524.0" y1="490.0" x2="534.0" y2="493.2" stroke="#4a2206" stroke-width="5.1"/>
<line x1="516.1" y1="455.7" x2="510.6" y2="460.9" stroke="#8a8a8a" stroke-width="4.0"/>
<line x1="510.6" y1="460.9" x2="505.0" y2="466.0" stroke="#4a2206" stroke-width="4.0"/>
<line x1="538.9" y1="473.4" x2="541.3" y2="484.9" stroke="#4a2206" stroke-width="5.1"/>
<line x1="541.3" y1="484.9" x2="543.8" y2="496.4" stroke="#4a2206" stroke-width="5.1"/>
<line x1="534.0" y1="493.2" x2="538.9" y2="494.8" stroke="#4a2206" stroke-width="5.1"/>
<line x1="538.9" y1="494.8" x2="543.8" y2="496.4" stroke="#4a2206" stroke-width="5.1"/>
<line x1="543.8" y1="496.4" x2="532.5" y2="505.9" stroke="#4a2206" stroke-width="5.1"/>
<line x1="532.5" y1="505.9" x2="521.3" y2="515.4" stroke="#4a2206" stroke-width="5.1"/>
<line x1="543.8" y1="496.4" x2="556.0" y2="501.1" stroke="#4a2206" stroke-width="5.1"/>
<line x1="556.0" y1="501.1" x2="568.1" y2="505.9" stroke="#4a2206" stroke-width="5.1"/>
<line x1="521.3" y1="515.4" x2="515.5" y2="513.3" stroke="#4a2206" stroke-width="4.0"/>
<line x1="515.5" y1="513.3" x2="509.7" y2="511.2" stroke="#8a8a8a" stroke-width="4.0"/>
<line x1="521.3" y1="515.4" x2="525.0" y2="529.1" stroke="#4a2206" stroke-width="5.1"/>
<line x1="525.0" y1="529.1" x2="528.7" y2="542.8" stroke="#4a2206" stroke-width="5.1"/>
<line x1="528.7" y1="542.8" x2="526.0" y2="549.1" stroke="#4a2206" stroke-width="5.1"/>
<line x1="526.0" y1="549.1" x2="523.4" y2="555.5" stroke="#4a2206" stroke-width="5.1"/>
<line x1="528.7" y1="542.8" x2="520.8" y2="540.7" stroke="#4a2206" stroke-width="4.0"/>
<line x1="520.8" y1="540.7" x2="512.9" y2="538.6" stroke="#8a8a8a" stroke-width="4.0"/>
<line x1="523.4" y1="555.5" x2="517.6" y2="555.0" stroke="#4a2206" stroke-width="4.0"/>
<line x1="517.6" y1="555.0" x2="511.8" y2="554.5" stroke="#8a8a8a" stroke-width="4.0"/>
<line x1="523.4" y1="555.5" x2="517.0" y2="563.5" stroke="#4a2206" stroke-width="4.0"/>
<line x1="517.0" y1="563.5" x2="510.7" y2="571.4" stroke="#8a8a8a" stroke-width="4.0"/>
<line x1="523.4" y1="555.5" x2="528.0" y2="558.4" stroke="#4a2206" stroke-width="4.0"/>
<line x1="528.0" y1="558.4" x2="532.5" y2="561.2" stroke="#8a8a8a" stroke-width="4.0"/>
<line x1="523.4" y1="555.5" x2="535.2" y2="555.0" stroke="#4a2206" stroke-width="5.1"/>
<line x1="535.2" y1="555.0" x2="547.0" y2="554.5" stroke="#4a2206" stroke-width="5.1"/>
<line x1="568.1" y1="505.9" x2="573.4" y2="498.3" stroke="#4a2206" stroke-width="4.0"/>
<line x1="573.4" y1="498.3" x2="578.7" y2="490.7" stroke="#8a8a8a" stroke-width="4.0"/>
<line x1="568.1" y1="505.9" x2="572.9" y2="510.1" stroke="#4a2206" stroke-width="4.0"/>
<line x1="572.9" y1="510.1" x2="577.6" y2="514.3" stroke="#8a8a8a" stroke-width="4.0"/>
<line x1="568.1" y1="505.9" x2="565.5" y2="514.8" stroke="#4a2206" stroke-width="5.1"/>
<line x1="565.5" y1="514.8" x2="562.8" y2="523.8" stroke="#4a2206" stroke-width="5.1"/>
<line x1="562.8" y1="523.8" x2="554.9" y2="539.1" stroke="#4a2206" stroke-width="5.1"/>
<line x1="554.9" y1="539.1" x2="547.0" y2="554.5" stroke="#4a2206" stroke-width="5.1"/>
<line x1="562.8" y1="523.8" x2="575.5" y2="527.5" stroke="#4a2206" stroke-width="5.1"/>
<line x1="575.5" y1="527.5" x2="588.2" y2="531.2" stroke="#4a2206" stroke-width="5.1"/>
<line x1="562.8" y1="523.8" x2="557.0" y2="527.0" stroke="#4a2206" stroke-width="5.1"/>
<line x1="557.0" y1="527.0" x2="551.2" y2="530.2" stroke="#4a2206" stroke-width="5.1"/>
<line x1="593.5" y1="523.8" x2="604.0" y2="527.0" stroke="#4a2206" stroke-width="5.1"/>
<line x1="604.0" y1="527.0" x2="614.6" y2="530.2" stroke="#4a2206" stroke-width="5.1"/>
<line x1="614.6" y1="530.2" x2="625.2" y2="536.0" stroke="#4a2206" stroke-width="5.1"/>
<line x1="625.2" y1="536.0" x2="635.7" y2="541.8" stroke="#4a2206" stroke-width="5.1"/>
<line x1="635.7" y1="541.8" x2="632.5" y2="546.5" stroke="#4a2206" stroke-width="5.1"/>
<line x1="632.5" y1="546.5" x2="629.4" y2="551.3" stroke="#4a2206" stroke-width="5.1"/>
<line x1="629.4" y1="551.3" x2="618.8" y2="547.6" stroke="#4a2206" stroke-width="5.1"/>
<line x1="618.8" y1="547.6" x2="608.2" y2="543.9" stroke="#4a2206" stroke-width="5.1"/>
<line x1="608.2" y1="543.9" x2="598.2" y2="537.5" stroke="#4a2206" stroke-width="5.1"/>
<line x1="598.2" y1="537.5" x2="588.2" y2="531.2" stroke="#4a2206" stroke-width="5.1"/>
<line x1="588.2" y1="531.2" x2="590.9" y2="527.5" stroke="#4a2206" stroke-width="5.1"/>
<line x1="590.9" y1="527.5" x2="593.5" y2="523.8" stroke="#4a2206" stroke-width="5.1"/>
<line x1="614.6" y1="530.2" x2="616.7" y2="527.5" stroke="#4a2206" stroke-width="4.0"/>
<line x1="616.7" y1="527.5" x2="618.8" y2="524.9" stroke="#8a8a8a" stroke-width="4.0"/>
<line x1="635.7" y1="541.8" x2="644.2" y2="544.5" stroke="#4a2206" stroke-width="4.0"/>
<line x1="644.2" y1="544.5" x2="652.6" y2="547.1" stroke="#8a8a8a" stroke-width="4.0"/>
<line x1="629.4" y1="551.3" x2="636.8" y2="555.5" stroke="#4a2206" stroke-width="4.0"/>
<line x1="636.8" y1="555.5" x2="644.1" y2="559.7" stroke="#8a8a8a" stroke-width="4.0"/>
<line x1="608.2" y1="543.9" x2="606.1" y2="547.0" stroke="#4a2206" stroke-width="4.0"/>
<line x1="606.1" y1="547.0" x2="604.0" y2="550.2" stroke="#8a8a8a" stroke-width="4.0"/>
<line x1="547.0" y1="554.5" x2="549.1" y2="564.5" stroke="#4a2206" stroke-width="5.1"/>
<line x1="549.1" y1="564.5" x2="551.2" y2="574.5" stroke="#4a2206" stroke-width="5.1"/>
<line x1="551.2" y1="530.2" x2="549.1" y2="542.4" stroke="#4a2206" stroke-width="5.1"/>
<line x1="549.1" y1="542.4" x2="547.0" y2="554.5" stroke="#4a2206" stroke-width="5.1"/>
<line x1="551.2" y1="574.5" x2="548.0" y2="581.4" stroke="#4a2206" stroke-width="4.0"/>
<line x1="548.0" y1="581.4" x2="544.9" y2="588.2" stroke="#8a8a8a" stroke-width="4.0"/>
<line x1="565.0" y1="580.9" x2="566.5" y2="590.9" stroke="#4a2206" stroke-width="4.0"/>
<line x1="566.5" y1="590.9" x2="568.1" y2="600.9" stroke="#8a8a8a" stroke-width="4.0"/>
<line x1="590.3" y1="378.0" x2="586.1" y2="379.5" stroke="#4a2206" stroke-width="4.0"/>
<line x1="586.1" y1="379.5" x2="581.9" y2="381.0" stroke="#8a8a8a" stroke-width="4.0"/>
<line x1="590.2" y1="390.4" x2="587.1" y2="393.0" stroke="#4a2206" stroke-width="4.0"/>
<line x1="587.1" y1="393.0" x2="584.0" y2="395.6" stroke="#8a8a8a" stroke-width="4.0"/>
<line x1="599.6" y1="390.4" x2="600.1" y2="398.1" stroke="#4a2206" stroke-width="5.1"/>
<line x1="600.1" y1="398.1" x2="600.6" y2="405.9" stroke="#4a2206" stroke-width="5.1"/>
<line x1="600.6" y1="405.9" x2="608.9" y2="399.2" stroke="#4a2206" stroke-width="4.0"/>
<line x1="608.9" y1="399.2" x2="617.2" y2="392.5" stroke="#8a8a8a" stroke-width="4.0"/>
<line x1="600.6" y1="405.9" x2="604.2" y2="406.9" stroke="#4a2206" stroke-width="4.0"/>
<line x1="604.2" y1="406.9" x2="607.9" y2="408.0" stroke="#8a8a8a" stroke-width="4.0"/>
<line x1="600.6" y1="405.9" x2="594.9" y2="412.1" stroke="#4a2206" stroke-width="5.1"/>
<line x1="594.9" y1="412.1" x2="589.2" y2="418.4" stroke="#4a2206" stroke-width="5.1"/>
<line x1="600.6" y1="405.9" x2="602.7" y2="413.2" stroke="#4a2206" stroke-width="5.1"/>
<line x1="602.7" y1="413.2" x2="604.8" y2="420.5" stroke="#4a2206" stroke-width="5.1"/>
<line x1="589.2" y1="418.4" x2="584.5" y2="427.8" stroke="#4a2206" stroke-width="5.1"/>
<line x1="584.5" y1="427.8" x2="579.9" y2="437.1" stroke="#4a2206" stroke-width="5.1"/>
<line x1="589.2" y1="418.4" x2="578.9" y2="419.4" stroke="#4a2206" stroke-width="5.1"/>
<line x1="578.9" y1="419.4" x2="568.5" y2="420.5" stroke="#4a2206" stroke-width="5.1"/>
<line x1="604.8" y1="420.5" x2="607.4" y2="417.4" stroke="#4a2206" stroke-width="5.1"/>
<line x1="607.4" y1="417.4" x2="610.0" y2="414.2" stroke="#4a2206" stroke-width="5.1"/>
<line x1="604.8" y1="420.5" x2="613.6" y2="423.6" stroke="#4a2206" stroke-width="4.0"/>
<line x1="613.6" y1="423.6" x2="622.4" y2="426.7" stroke="#8a8a8a" stroke-width="4.0"/>
<line x1="604.8" y1="420.5" x2="616.2" y2="429.8" stroke="#4a2206" stroke-width="5.1"/>
<line x1="616.2" y1="429.8" x2="627.6" y2="439.1" stroke="#4a2206" stroke-width="5.1"/>
<line x1="579.9" y1="437.1" x2="588.7" y2="444.4" stroke="#4a2206" stroke-width="5.1"/>
<line x1="588.7" y1="444.4" x2="597.5" y2="451.6" stroke="#4a2206" stroke-width="5.1"/>
<line x1="579.9" y1="437.1" x2="577.3" y2="445.4" stroke="#4a2206" stroke-width="5.1"/>
<line x1="577.3" y1="445.4" x2="574.7" y2="453.7" stroke="#4a2206" stroke-width="5.1"/>
<line x1="579.9" y1="437.1" x2="581.5" y2="443.8" stroke="#4a2206" stroke-width="4.0"/>
<line x1="581.5" y1="443.8" x2="583.0" y2="450.5" stroke="#8a8a8a" stroke-width="4.0"/>
<line x1="627.6" y1="439.1" x2="629.2" y2="443.8" stroke="#4a2206" stroke-width="4.0"/>
<line x1="629.2" y1="443.8" x2="630.7" y2="448.5" stroke="#8a8a8a" stroke-width="4.0"/>
<line x1="627.6" y1="439.1" x2="635.9" y2="434.5" stroke="#4a2206" stroke-width="4.0"/>
<line x1="635.9" y1="434.5" x2="644.2" y2="429.8" stroke="#8a8a8a" stroke-width="4.0"/>
<line x1="627.6" y1="439.1" x2="621.4" y2="444.3" stroke="#4a2206" stroke-width="5.1"/>
<line x1="621.4" y1="444.3" x2="615.1" y2="449.5" stroke="#4a2206" stroke-width="5.1"/>
<line x1="597.5" y1="451.6" x2="607.9" y2="455.8" stroke="#4a2206" stroke-width="5.1"/>
<line x1="607.9" y1="455.8" x2="618.2" y2="459.9" stroke="#4a2206" stroke-width="5.1"/>
<line x1="615.1" y1="449.5" x2="616.7" y2="454.7" stroke="#4a2206" stroke-width="5.1"/>
<line x1="616.7" y1="454.7" x2="618.2" y2="459.9" stroke="#4a2206" stroke-width="5.1"/>
<line x1="618.2" y1="459.9" x2="613.0" y2="462.5" stroke="#4a2206" stroke-width="4.0"/>
<line x1="613.0" y1="462.5" x2="607.9" y2="465.1" stroke="#8a8a8a" stroke-width="4.0"/>
<line x1="618.2" y1="459.9" x2="626.5" y2="461.9" stroke="#4a2206" stroke-width="4.0"/>
<line x1="626.5" y1="461.9" x2="634.8" y2="464.0" stroke="#8a8a8a" stroke-width="4.0"/>
<line x1="618.2" y1="459.9" x2="616.2" y2="468.2" stroke="#4a2206" stroke-width="4.0"/>
<line x1="616.2" y1="468.2" x2="614.1" y2="476.5" stroke="#8a8a8a" stroke-width="4.0"/>
<line x1="574.7" y1="453.7" x2="572.6" y2="462.5" stroke="#4a2206" stroke-width="4.0"/>
<line x1="572.6" y1="462.5" x2="570.5" y2="471.3" stroke="#8a8a8a" stroke-width="4.0"/>
<line x1="618.2" y1="459.9" x2="620.6" y2="472.4" stroke="#4a2206" stroke-width="4.0"/>
<line x1="620.6" y1="472.4" x2="623.0" y2="484.8" stroke="#3a3a3a" stroke-width="4.0"/>
<line x1="579.9" y1="437.1" x2="592.3" y2="428.8" stroke="#4a2206" stroke-width="5.1"/>
<line x1="592.3" y1="428.8" x2="604.8" y2="420.5" stroke="#4a2206" stroke-width="5.1"/>
<line x1="597.5" y1="451.6" x2="586.1" y2="452.6" stroke="#4a2206" stroke-width="5.1"/>
<line x1="586.1" y1="452.6" x2="574.7" y2="453.7" stroke="#4a2206" stroke-width="5.1"/>
<line x1="604.8" y1="420.5" x2="601.1" y2="436.1" stroke="#4a2206" stroke-width="5.1"/>
<line x1="601.1" y1="436.1" x2="597.5" y2="451.6" stroke="#4a2206" stroke-width="5.1"/>
<line x1="597.7" y1="430.2" x2="593.5" y2="424.3" stroke="#4a2206" stroke-width="5.1"/>
<line x1="593.5" y1="424.3" x2="589.2" y2="418.4" stroke="#4a2206" stroke-width="5.1"/>
<line x1="590.2" y1="390.4" x2="590.5" y2="393.4" stroke="#4a2206" stroke-width="4.0"/>
<line x1="590.5" y1="393.4" x2="590.9" y2="396.5" stroke="#8a8a8a" stroke-width="4.0"/>
<line x1="497.9" y1="372.7" x2="507.0" y2="379.4" stroke="#d80000" stroke-width="3.5"/>
<line x1="507.0" y1="379.4" x2="516.1" y2="386.2" stroke="#bf520c" stroke-width="3.5"/>
<line x1="516.1" y1="386.2" x2="528.5" y2="383.6" stroke="#bf520c" stroke-width="3.5"/>
<line x1="528.5" y1="383.6" x2="541.0" y2="381.0" stroke="#bf520c" stroke-width="3.5"/>
<line x1="541.0" y1="381.0" x2="541.5" y2="394.5" stroke="#bf520c" stroke-width="3.5"/>
<line x1="541.5" y1="394.5" x2="542.0" y2="408.0" stroke="#bf520c" stroke-width="3.5"/>
<line x1="542.0" y1="408.0" x2="530.1" y2="410.1" stroke="#bf520c" stroke-width="3.5"/>
<line x1="530.1" y1="410.1" x2="518.2" y2="412.2" stroke="#bf520c" stroke-width="3.5"/>
<line x1="518.2" y1="412.2" x2="517.2" y2="399.2" stroke="#bf520c" stroke-width="3.5"/>
<line x1="517.2" y1="399.2" x2="516.1" y2="386.2" stroke="#bf520c" stroke-width="3.5"/>
<line x1="541.0" y1="381.0" x2="549.5" y2="372.2" stroke="#bf520c" stroke-width="3.5"/>
<line x1="549.5" y1="372.2" x2="558.1" y2="363.4" stroke="#d80000" stroke-width="3.5"/>
<line x1="518.2" y1="412.2" x2="511.0" y2="423.1" stroke="#bf520c" stroke-width="3.5"/>
<line x1="511.0" y1="423.1" x2="503.7" y2="434.0" stroke="#7ea6b6" stroke-width="3.5"/>
<line x1="542.0" y1="408.0" x2="549.5" y2="414.8" stroke="#bf520c" stroke-width="3.5"/>
<line x1="549.5" y1="414.8" x2="557.0" y2="421.5" stroke="#bf520c" stroke-width="3.5"/>
<line x1="526.5" y1="415.3" x2="533.8" y2="421.1" stroke="#e8e8e8" stroke-width="2.4"/>
<line x1="533.8" y1="421.1" x2="541.0" y2="427.0" stroke="#bf520c" stroke-width="2.4"/>
<line x1="541.0" y1="427.0" x2="543.9" y2="434.6" stroke="#bf520c" stroke-width="2.4"/>
<line x1="543.9" y1="434.6" x2="546.7" y2="442.2" stroke="#e8e8e8" stroke-width="2.4"/>
<line x1="541.0" y1="427.0" x2="549.0" y2="424.2" stroke="#bf520c" stroke-width="3.5"/>
<line x1="549.0" y1="424.2" x2="557.0" y2="421.5" stroke="#bf520c" stroke-width="3.5"/>
<line x1="552.9" y1="404.9" x2="555.0" y2="413.2" stroke="#e8e8e8" stroke-width="2.4"/>
<line x1="555.0" y1="413.2" x2="557.0" y2="421.5" stroke="#bf520c" stroke-width="2.4"/>
<line x1="557.0" y1="421.5" x2="562.8" y2="421.0" stroke="#bf520c" stroke-width="3.5"/>
<line x1="562.8" y1="421.0" x2="568.5" y2="420.5" stroke="#6a92a2" stroke-width="3.5"/>
<line x1="557.0" y1="421.5" x2="558.6" y2="426.1" stroke="#bf520c" stroke-width="3.5"/>
<line x1="558.6" y1="426.1" x2="560.2" y2="430.8" stroke="#6a92a2" stroke-width="3.5"/>
<line x1="560.2" y1="430.8" x2="559.2" y2="437.1" stroke="#6a92a2" stroke-width="2.4"/>
<line x1="559.2" y1="437.1" x2="558.1" y2="443.3" stroke="#e8e8e8" stroke-width="2.4"/>
<line x1="420.7" y1="394.5" x2="425.9" y2="404.9" stroke="#c8920e" stroke-width="3.5"/>
<line x1="425.9" y1="404.9" x2="431.0" y2="415.3" stroke="#bf520c" stroke-width="3.5"/>
<line x1="446.6" y1="404.9" x2="438.8" y2="410.1" stroke="#c8920e" stroke-width="3.5"/>
<line x1="438.8" y1="410.1" x2="431.0" y2="415.3" stroke="#bf520c" stroke-width="3.5"/>
<line x1="411.3" y1="425.7" x2="421.1" y2="420.5" stroke="#c8920e" stroke-width="3.5"/>
<line x1="421.1" y1="420.5" x2="431.0" y2="415.3" stroke="#bf520c" stroke-width="3.5"/>
<line x1="431.0" y1="415.3" x2="438.3" y2="424.6" stroke="#bf520c" stroke-width="3.5"/>
<line x1="438.3" y1="424.6" x2="445.6" y2="434.0" stroke="#bf520c" stroke-width="3.5"/>
<line x1="468.4" y1="423.6" x2="457.0" y2="428.8" stroke="#bf520c" stroke-width="3.5"/>
<line x1="457.0" y1="428.8" x2="445.6" y2="434.0" stroke="#bf520c" stroke-width="3.5"/>
<line x1="468.4" y1="423.6" x2="475.1" y2="431.9" stroke="#bf520c" stroke-width="3.5"/>
<line x1="475.1" y1="431.9" x2="481.9" y2="440.2" stroke="#bf520c" stroke-width="3.5"/>
<line x1="481.9" y1="440.2" x2="477.2" y2="452.1" stroke="#bf520c" stroke-width="3.5"/>
<line x1="477.2" y1="452.1" x2="472.5" y2="464.0" stroke="#bf520c" stroke-width="3.5"/>
<line x1="472.5" y1="464.0" x2="461.6" y2="468.1" stroke="#bf520c" stroke-width="3.5"/>
<line x1="461.6" y1="468.1" x2="450.8" y2="472.3" stroke="#bf520c" stroke-width="3.5"/>
<line x1="450.8" y1="472.3" x2="443.5" y2="464.6" stroke="#bf520c" stroke-width="3.5"/>
<line x1="443.5" y1="464.6" x2="436.2" y2="456.8" stroke="#bf520c" stroke-width="3.5"/>
<line x1="436.2" y1="456.8" x2="440.9" y2="445.4" stroke="#bf520c" stroke-width="3.5"/>
<line x1="440.9" y1="445.4" x2="445.6" y2="434.0" stroke="#bf520c" stroke-width="3.5"/>
<line x1="473.6" y1="404.9" x2="471.0" y2="414.2" stroke="#e8e8e8" stroke-width="2.4"/>
<line x1="471.0" y1="414.2" x2="468.4" y2="423.6" stroke="#bf520c" stroke-width="2.4"/>
<line x1="436.2" y1="456.8" x2="427.9" y2="460.4" stroke="#bf520c" stroke-width="2.4"/>
<line x1="427.9" y1="460.4" x2="419.6" y2="464.0" stroke="#e8e8e8" stroke-width="2.4"/>
<line x1="472.5" y1="464.0" x2="477.2" y2="470.2" stroke="#bf520c" stroke-width="2.4"/>
<line x1="477.2" y1="470.2" x2="481.9" y2="476.5" stroke="#e8e8e8" stroke-width="2.4"/>
<line x1="481.9" y1="440.2" x2="492.8" y2="437.1" stroke="#bf520c" stroke-width="3.5"/>
<line x1="492.8" y1="437.1" x2="503.7" y2="434.0" stroke="#7ea6b6" stroke-width="3.5"/>
<line x1="503.7" y1="434.0" x2="508.4" y2="441.2" stroke="#7ea6b6" stroke-width="2.4"/>
<line x1="508.4" y1="441.2" x2="513.0" y2="448.5" stroke="#e8e8e8" stroke-width="2.4"/>
<line x1="450.8" y1="472.3" x2="446.0" y2="486.0" stroke="#bf520c" stroke-width="3.5"/>
<line x1="446.0" y1="486.0" x2="441.1" y2="499.6" stroke="#bf520c" stroke-width="3.5"/>
<line x1="441.1" y1="499.6" x2="429.5" y2="499.6" stroke="#bf520c" stroke-width="3.5"/>
<line x1="429.5" y1="499.6" x2="417.8" y2="499.6" stroke="#c8920e" stroke-width="3.5"/>
<line x1="441.1" y1="499.6" x2="439.0" y2="505.9" stroke="#bf520c" stroke-width="3.5"/>
<line x1="439.0" y1="505.9" x2="436.8" y2="512.2" stroke="#c8920e" stroke-width="3.5"/>
<line x1="441.1" y1="499.6" x2="448.5" y2="506.9" stroke="#bf520c" stroke-width="3.5"/>
<line x1="448.5" y1="506.9" x2="455.8" y2="514.3" stroke="#c8920e" stroke-width="3.5"/>
<line x1="505.0" y1="466.0" x2="509.4" y2="476.4" stroke="#d80000" stroke-width="3.5"/>
<line x1="509.4" y1="476.4" x2="513.9" y2="486.9" stroke="#bf520c" stroke-width="3.5"/>
<line x1="513.9" y1="486.9" x2="507.5" y2="493.8" stroke="#bf520c" stroke-width="3.5"/>
<line x1="507.5" y1="493.8" x2="501.2" y2="500.6" stroke="#d80000" stroke-width="3.5"/>
<line x1="513.9" y1="486.9" x2="524.0" y2="490.0" stroke="#bf520c" stroke-width="3.5"/>
<line x1="524.0" y1="490.0" x2="534.0" y2="493.2" stroke="#d80000" stroke-width="3.5"/>
<line x1="516.1" y1="455.7" x2="510.6" y2="460.9" stroke="#e8e8e8" stroke-width="2.4"/>
<line x1="510.6" y1="460.9" x2="505.0" y2="466.0" stroke="#d80000" stroke-width="2.4"/>
<line x1="538.9" y1="473.4" x2="541.3" y2="484.9" stroke="#d80000" stroke-width="3.5"/>
<line x1="541.3" y1="484.9" x2="543.8" y2="496.4" stroke="#bf520c" stroke-width="3.5"/>
<line x1="534.0" y1="493.2" x2="538.9" y2="494.8" stroke="#d80000" stroke-width="3.5"/>
<line x1="538.9" y1="494.8" x2="543.8" y2="496.4" stroke="#bf520c" stroke-width="3.5"/>
<line x1="543.8" y1="496.4" x2="532.5" y2="505.9" stroke="#bf520c" stroke-width="3.5"/>
<line x1="532.5" y1="505.9" x2="521.3" y2="515.4" stroke="#bf520c" stroke-width="3.5"/>
<line x1="543.8" y1="496.4" x2="556.0" y2="501.1" stroke="#bf520c" stroke-width="3.5"/>
<line x1="556.0" y1="501.1" x2="568.1" y2="505.9" stroke="#bf520c" stroke-width="3.5"/>
<line x1="521.3" y1="515.4" x2="515.5" y2="513.3" stroke="#bf520c" stroke-width="2.4"/>
<line x1="515.5" y1="513.3" x2="509.7" y2="511.2" stroke="#e8e8e8" stroke-width="2.4"/>
<line x1="521.3" y1="515.4" x2="525.0" y2="529.1" stroke="#bf520c" stroke-width="3.5"/>
<line x1="525.0" y1="529.1" x2="528.7" y2="542.8" stroke="#bf520c" stroke-width="3.5"/>
<line x1="528.7" y1="542.8" x2="526.0" y2="549.1" stroke="#bf520c" stroke-width="3.5"/>
<line x1="526.0" y1="549.1" x2="523.4" y2="555.5" stroke="#bf520c" stroke-width="3.5"/>
<line x1="528.7" y1="542.8" x2="520.8" y2="540.7" stroke="#bf520c" stroke-width="2.4"/>
<line x1="520.8" y1="540.7" x2="512.9" y2="538.6" stroke="#e8e8e8" stroke-width="2.4"/>
<line x1="523.4" y1="555.5" x2="517.6" y2="555.0" stroke="#bf520c" stroke-width="2.4"/>
<line x1="517.6" y1="555.0" x2="511.8" y2="554.5" stroke="#e8e8e8" stroke-width="2.4"/>
<line x1="523.4" y1="555.5" x2="517.0" y2="563.5" stroke="#bf520c" stroke-width="2.4"/>
<line x1="517.0" y1="563.5" x2="510.7" y2="571.4" stroke="#e8e8e8" stroke-width="2.4"/>
<line x1="523.4" y1="555.5" x2="528.0" y2="558.4" stroke="#bf520c" stroke-width="2.4"/>
<line x1="528.0" y1="558.4" x2="532.5" y2="561.2" stroke="#e8e8e8" stroke-width="2.4"/>
<line x1="523.4" y1="555.5" x2="535.2" y2="555.0" stroke="#bf520c" stroke-width="3.5"/>
<line x1="535.2" y1="555.0" x2="547.0" y2="554.5" stroke="#c6a60a" stroke-width="3.5"/>
<line x1="568.1" y1="505.9" x2="573.4" y2="498.3" stroke="#bf520c" stroke-width="2.4"/>
<line x1="573.4" y1="498.3" x2="578.7" y2="490.7" stroke="#e8e8e8" stroke-width="2.4"/>
<line x1="568.1" y1="505.9" x2="572.9" y2="510.1" stroke="#bf520c" stroke-width="2.4"/>
<line x1="572.9" y1="510.1" x2="577.6" y2="514.3" stroke="#e8e8e8" stroke-width="2.4"/>
<line x1="568.1" y1="505.9" x2="565.5" y2="514.8" stroke="#bf520c" stroke-width="3.5"/>
<line x1="565.5" y1="514.8" x2="562.8" y2="523.8" stroke="#bf520c" stroke-width="3.5"/>
<line x1="562.8" y1="523.8" x2="554.9" y2="539.1" stroke="#bf520c" stroke-width="3.5"/>
<line x1="554.9" y1="539.1" x2="547.0" y2="554.5" stroke="#c6a60a" stroke-width="3.5"/>
<line x1="562.8" y1="523.8" x2="575.5" y2="527.5" stroke="#bf520c" stroke-width="3.5"/>
<line x1="575.5" y1="527.5" x2="588.2" y2="531.2" stroke="#bf520c" stroke-width="3.5"/>
<line x1="562.8" y1="523.8" x2="557.0" y2="527.0" stroke="#bf520c" stroke-width="3.5"/>
<line x1="557.0" y1="527.0" x2="551.2" y2="530.2" stroke="#7a3c10" stroke-width="3.5"/>
<line x1="593.5" y1="523.8" x2="604.0" y2="527.0" stroke="#bf520c" stroke-width="3.5"/>
<line x1="604.0" y1="527.0" x2="614.6" y2="530.2" stroke="#bf520c" stroke-width="3.5"/>
<line x1="614.6" y1="530.2" x2="625.2" y2="536.0" stroke="#bf520c" stroke-width="3.5"/>
<line x1="625.2" y1="536.0" x2="635.7" y2="541.8" stroke="#bf520c" stroke-width="3.5"/>
<line x1="635.7" y1="541.8" x2="632.5" y2="546.5" stroke="#bf520c" stroke-width="3.5"/>
<line x1="632.5" y1="546.5" x2="629.4" y2="551.3" stroke="#bf520c" stroke-width="3.5"/>
<line x1="629.4" y1="551.3" x2="618.8" y2="547.6" stroke="#bf520c" stroke-width="3.5"/>
<line x1="618.8" y1="547.6" x2="608.2" y2="543.9" stroke="#bf520c" stroke-width="3.5"/>
<line x1="608.2" y1="543.9" x2="598.2" y2="537.5" stroke="#bf520c" stroke-width="3.5"/>
<line x1="598.2" y1="537.5" x2="588.2" y2="531.2" stroke="#bf520c" stroke-width="3.5"/>
<line x1="588.2" y1="531.2" x2="590.9" y2="527.5" stroke="#bf520c" stroke-width="3.5"/>
<line x1="590.9" y1="527.5" x2="593.5" y2="523.8" stroke="#bf520c" stroke-width="3.5"/>
<line x1="614.6" y1="530.2" x2="616.7" y2="527.5" stroke="#bf520c" stroke-width="2.4"/>
<line x1="616.7" y1="527.5" x2="618.8" y2="524.9" stroke="#e8e8e8" stroke-width="2.4"/>
<line x1="635.7" y1="541.8" x2="644.2" y2="544.5" stroke="#bf520c" stroke-width="2.4"/>
<line x1="644.2" y1="544.5" x2="652.6" y2="547.1" stroke="#e8e8e8" stroke-width="2.4"/>
<line x1="629.4" y1="551.3" x2="636.8" y2="555.5" stroke="#bf520c" stroke-width="2.4"/>
<line x1="636.8" y1="555.5" x2="644.1" y2="559.7" stroke="#e8e8e8" stroke-width="2.4"/>
<line x1="608.2" y1="543.9" x2="606.1" y2="547.0" stroke="#bf520c" stroke-width="2.4"/>
<line x1="606.1" y1="547.0" x2="604.0" y2="550.2" stroke="#e8e8e8" stroke-width="2.4"/>
<line x1="547.0" y1="554.5" x2="549.1" y2="564.5" stroke="#c6a60a" stroke-width="3.5"/>
<line x1="549.1" y1="564.5" x2="551.2" y2="574.5" stroke="#7a3c10" stroke-width="3.5"/>
<line x1="551.2" y1="530.2" x2="549.1" y2="542.4" stroke="#7a3c10" stroke-width="3.5"/>
<line x1="549.1" y1="542.4" x2="547.0" y2="554.5" stroke="#c6a60a" stroke-width="3.5"/>
<line x1="551.2" y1="574.5" x2="548.0" y2="581.4" stroke="#7a3c10" stroke-width="2.4"/>
<line x1="548.0" y1="581.4" x2="544.9" y2="588.2" stroke="#e8e8e8" stroke-width="2.4"/>
<line x1="565.0" y1="580.9" x2="566.5" y2="590.9" stroke="#7a3c10" stroke-width="2.4"/>
<line x1="566.5" y1="590.9" x2="568.1" y2="600.9" stroke="#e8e8e8" stroke-width="2.4"/>
<line x1="590.3" y1="378.0" x2="586.1" y2="379.5" stroke="#7a3c10" stroke-width="2.4"/>
<line x1="586.1" y1="379.5" x2="581.9" y2="381.0" stroke="#e8e8e8" stroke-width="2.4"/>
<line x1="590.2" y1="390.4" x2="587.1" y2="393.0" stroke="#7a3c10" stroke-width="2.4"/>
<line x1="587.1" y1="393.0" x2="584.0" y2="395.6" stroke="#e8e8e8" stroke-width="2.4"/>
<line x1="599.6" y1="390.4" x2="600.1" y2="398.1" stroke="#7a3c10" stroke-width="3.5"/>
<line x1="600.1" y1="398.1" x2="600.6" y2="405.9" stroke="#bf520c" stroke-width="3.5"/>
<line x1="600.6" y1="405.9" x2="608.9" y2="399.2" stroke="#bf520c" stroke-width="2.4"/>
<line x1="608.9" y1="399.2" x2="617.2" y2="392.5" stroke="#e8e8e8" stroke-width="2.4"/>
<line x1="600.6" y1="405.9" x2="604.2" y2="406.9" stroke="#bf520c" stroke-width="2.4"/>
<line x1="604.2" y1="406.9" x2="607.9" y2="408.0" stroke="#e8e8e8" stroke-width="2.4"/>
<line x1="600.6" y1="405.9" x2="594.9" y2="412.1" stroke="#bf520c" stroke-width="3.5"/>
<line x1="594.9" y1="412.1" x2="589.2" y2="418.4" stroke="#bf520c" stroke-width="3.5"/>
<line x1="600.6" y1="405.9" x2="602.7" y2="413.2" stroke="#bf520c" stroke-width="3.5"/>
<line x1="602.7" y1="413.2" x2="604.8" y2="420.5" stroke="#bf520c" stroke-width="3.5"/>
<line x1="589.2" y1="418.4" x2="584.5" y2="427.8" stroke="#bf520c" stroke-width="3.5"/>
<line x1="584.5" y1="427.8" x2="579.9" y2="437.1" stroke="#bf520c" stroke-width="3.5"/>
<line x1="589.2" y1="418.4" x2="578.9" y2="419.4" stroke="#bf520c" stroke-width="3.5"/>
<line x1="578.9" y1="419.4" x2="568.5" y2="420.5" stroke="#6a92a2" stroke-width="3.5"/>
<line x1="604.8" y1="420.5" x2="607.4" y2="417.4" stroke="#bf520c" stroke-width="3.5"/>
<line x1="607.4" y1="417.4" x2="610.0" y2="414.2" stroke="#7a3c10" stroke-width="3.5"/>
<line x1="604.8" y1="420.5" x2="613.6" y2="423.6" stroke="#bf520c" stroke-width="2.4"/>
<line x1="613.6" y1="423.6" x2="622.4" y2="426.7" stroke="#e8e8e8" stroke-width="2.4"/>
<line x1="604.8" y1="420.5" x2="616.2" y2="429.8" stroke="#bf520c" stroke-width="3.5"/>
<line x1="616.2" y1="429.8" x2="627.6" y2="439.1" stroke="#bf520c" stroke-width="3.5"/>
<line x1="579.9" y1="437.1" x2="588.7" y2="444.4" stroke="#bf520c" stroke-width="3.5"/>
<line x1="588.7" y1="444.4" x2="597.5" y2="451.6" stroke="#7ea6b6" stroke-width="3.5"/>
<line x1="579.9" y1="437.1" x2="577.3" y2="445.4" stroke="#bf520c" stroke-width="3.5"/>
<line x1="577.3" y1="445.4" x2="574.7" y2="453.7" stroke="#bf520c" stroke-width="3.5"/>
<line x1="579.9" y1="437.1" x2="581.5" y2="443.8" stroke="#bf520c" stroke-width="2.4"/>
<line x1="581.5" y1="443.8" x2="583.0" y2="450.5" stroke="#e8e8e8" stroke-width="2.4"/>
<line x1="627.6" y1="439.1" x2="629.2" y2="443.8" stroke="#bf520c" stroke-width="2.4"/>
<line x1="629.2" y1="443.8" x2="630.7" y2="448.5" stroke="#e8e8e8" stroke-width="2.4"/>
<line x1="627.6" y1="439.1" x2="635.9" y2="434.5" stroke="#bf520c" stroke-width="2.4"/>
<line x1="635.9" y1="434.5" x2="644.2" y2="429.8" stroke="#e8e8e8" stroke-width="2.4"/>
<line x1="627.6" y1="439.1" x2="621.4" y2="444.3" stroke="#bf520c" stroke-width="3.5"/>
<line x1="621.4" y1="444.3" x2="615.1" y2="449.5" stroke="#6a92a2" stroke-width="3.5"/>
<line x1="597.5" y1="451.6" x2="607.9" y2="455.8" stroke="#7ea6b6" stroke-width="3.5"/>
<line x1="607.9" y1="455.8" x2="618.2" y2="459.9" stroke="#bf520c" stroke-width="3.5"/>
<line x1="615.1" y1="449.5" x2="616.7" y2="454.7" stroke="#6a92a2" stroke-width="3.5"/>
<line x1="616.7" y1="454.7" x2="618.2" y2="459.9" stroke="#bf520c" stroke-width="3.5"/>
<line x1="618.2" y1="459.9" x2="613.0" y2="462.5" stroke="#bf520c" stroke-width="2.4"/>
<line x1="613.0" y1="462.5" x2="607.9" y2="465.1" stroke="#e8e8e8" stroke-width="2.4"/>
<line x1="618.2" y1="459.9" x2="626.5" y2="461.9" stroke="#bf520c" stroke-width="2.4"/>
<line x1="626.5" y1="461.9" x2="634.8" y2="464.0" stroke="#e8e8e8" stroke-width="2.4"/>
<line x1="618.2" y1="459.9" x2="616.2" y2="468.2" stroke="#bf520c" stroke-width="2.4"/>
<line x1="616.2" y1="468.2" x2="614.1" y2="476.5" stroke="#e8e8e8" stroke-width="2.4"/>
<line x1="574.7" y1="453.7" x2="572.6" y2="462.5" stroke="#bf520c" stroke-width="2.4"/>
<line x1="572.6" y1="462.5" x2="570.5" y2="471.3" stroke="#e8e8e8" stroke-width="2.4"/>
<line x1="618.2" y1="459.9" x2="620.6" y2="472.4" stroke="#bf520c" stroke-width="2.4"/>
<line x1="620.6" y1="472.4" x2="623.0" y2="484.8" stroke="#6a6a6a" stroke-width="2.4"/>
<line x1="579.9" y1="437.1" x2="592.3" y2="428.8" stroke="#bf520c" stroke-width="3.5"/>
<line x1="592.3" y1="428.8" x2="604.8" y2="420.5" stroke="#bf520c" stroke-width="3.5"/>
<line x1="597.5" y1="451.6" x2="586.1" y2="452.6" stroke="#7ea6b6" stroke-width="3.5"/>
<line x1="586.1" y1="452.6" x2="574.7" y2="453.7" stroke="#bf520c" stroke-width="3.5"/>
<line x1="604.8" y1="420.5" x2="601.1" y2="436.1" stroke="#bf520c" stroke-width="3.5"/>
<line x1="601.1" y1="436.1" x2="597.5" y2="451.6" stroke="#7ea6b6" stroke-width="3.5"/>
<line x1="597.7" y1="430.2" x2="593.5" y2="424.3" stroke="#7a3c10" stroke-width="3.5"/>
<line x1="593.5" y1="424.3" x2="589.2" y2="418.4" stroke="#bf520c" stroke-width="3.5"/>
<line x1="590.2" y1="390.4" x2="590.5" y2="393.4" stroke="#7a3c10" stroke-width="2.4"/>
<line x1="590.5" y1="393.4" x2="590.9" y2="396.5" stroke="#e8e8e8" stroke-width="2.4"/>
<circle cx="497.9" cy="372.7" r="6.8" fill="url(#gO)"/>
<circle cx="516.1" cy="386.2" r="6.4" fill="url(#gC)"/>
<circle cx="541.0" cy="381.0" r="6.4" fill="url(#gC)"/>
<circle cx="518.2" cy="412.2" r="6.4" fill="url(#gC)"/>
<circle cx="542.0" cy="408.0" r="6.4" fill="url(#gC)"/>
<circle cx="558.1" cy="363.4" r="6.8" fill="url(#gO)"/>
<circle cx="526.5" cy="415.3" r="3.6" fill="url(#gH)"/>
<circle cx="541.0" cy="427.0" r="6.4" fill="url(#gC)"/>
<circle cx="546.7" cy="442.2" r="3.6" fill="url(#gH)"/>
<circle cx="552.9" cy="404.9" r="3.6" fill="url(#gH)"/>
<circle cx="557.0" cy="421.5" r="6.4" fill="url(#gC)"/>
<circle cx="558.1" cy="443.3" r="3.6" fill="url(#gH)"/>
<circle cx="420.7" cy="394.5" r="5.8" fill="url(#gF)"/>
<circle cx="446.6" cy="404.9" r="5.8" fill="url(#gF)"/>
<circle cx="411.3" cy="425.7" r="5.8" fill="url(#gF)"/>
<circle cx="431.0" cy="415.3" r="6.4" fill="url(#gC)"/>
<circle cx="473.6" cy="404.9" r="3.6" fill="url(#gH)"/>
<circle cx="468.4" cy="423.6" r="6.4" fill="url(#gC)"/>
<circle cx="445.6" cy="434.0" r="6.4" fill="url(#gC)"/>
<circle cx="481.9" cy="440.2" r="6.4" fill="url(#gC)"/>
<circle cx="503.7" cy="434.0" r="7.0" fill="url(#gN)"/>
<circle cx="513.0" cy="448.5" r="3.6" fill="url(#gH)"/>
<circle cx="516.1" cy="455.7" r="3.6" fill="url(#gH)"/>
<circle cx="436.2" cy="456.8" r="6.4" fill="url(#gC)"/>
<circle cx="419.6" cy="464.0" r="3.6" fill="url(#gH)"/>
<circle cx="472.5" cy="464.0" r="6.4" fill="url(#gC)"/>
<circle cx="450.8" cy="472.3" r="6.4" fill="url(#gC)"/>
<circle cx="481.9" cy="476.5" r="3.6" fill="url(#gH)"/>
<circle cx="505.0" cy="466.0" r="6.8" fill="url(#gO)"/>
<circle cx="538.9" cy="473.4" r="6.8" fill="url(#gO)"/>
<circle cx="441.1" cy="499.6" r="6.4" fill="url(#gC)"/>
<circle cx="417.8" cy="499.6" r="5.8" fill="url(#gF)"/>
<circle cx="436.8" cy="512.2" r="5.8" fill="url(#gF)"/>
<circle cx="455.8" cy="514.3" r="5.8" fill="url(#gF)"/>
<circle cx="513.9" cy="486.9" r="6.4" fill="url(#gC)"/>
<circle cx="501.2" cy="500.6" r="6.8" fill="url(#gO)"/>
<circle cx="534.0" cy="493.2" r="6.8" fill="url(#gO)"/>
<circle cx="521.3" cy="515.4" r="6.4" fill="url(#gC)"/>
<circle cx="509.7" cy="511.2" r="3.6" fill="url(#gH)"/>
<circle cx="528.7" cy="542.8" r="6.4" fill="url(#gC)"/>
<circle cx="523.4" cy="555.5" r="6.4" fill="url(#gC)"/>
<circle cx="512.9" cy="538.6" r="3.6" fill="url(#gH)"/>
<circle cx="511.8" cy="554.5" r="3.6" fill="url(#gH)"/>
<circle cx="510.7" cy="571.4" r="3.6" fill="url(#gH)"/>
<circle cx="532.5" cy="561.2" r="3.6" fill="url(#gH)"/>
<circle cx="581.9" cy="381.0" r="3.6" fill="url(#gH)"/>
<circle cx="617.2" cy="392.5" r="3.6" fill="url(#gH)"/>
<circle cx="584.0" cy="395.6" r="3.6" fill="url(#gH)"/>
<circle cx="600.6" cy="405.9" r="6.4" fill="url(#gC)"/>
<circle cx="607.9" cy="408.0" r="3.6" fill="url(#gH)"/>
<circle cx="589.2" cy="418.4" r="6.4" fill="url(#gC)"/>
<circle cx="604.8" cy="420.5" r="6.4" fill="url(#gC)"/>
<circle cx="622.4" cy="426.7" r="3.6" fill="url(#gH)"/>
<circle cx="644.2" cy="429.8" r="3.6" fill="url(#gH)"/>
<circle cx="579.9" cy="437.1" r="6.4" fill="url(#gC)"/>
<circle cx="627.6" cy="439.1" r="6.4" fill="url(#gC)"/>
<circle cx="630.7" cy="448.5" r="3.6" fill="url(#gH)"/>
<circle cx="597.5" cy="451.6" r="7.0" fill="url(#gN)"/>
<circle cx="574.7" cy="453.7" r="6.4" fill="url(#gC)"/>
<circle cx="583.0" cy="450.5" r="3.6" fill="url(#gH)"/>
<circle cx="570.5" cy="471.3" r="3.6" fill="url(#gH)"/>
<circle cx="618.2" cy="459.9" r="6.4" fill="url(#gC)"/>
<circle cx="607.9" cy="465.1" r="3.6" fill="url(#gH)"/>
<circle cx="634.8" cy="464.0" r="3.6" fill="url(#gH)"/>
<circle cx="614.1" cy="476.5" r="3.6" fill="url(#gH)"/>
<circle cx="543.8" cy="496.4" r="6.4" fill="url(#gC)"/>
<circle cx="578.7" cy="490.7" r="3.6" fill="url(#gH)"/>
<circle cx="568.1" cy="505.9" r="6.4" fill="url(#gC)"/>
<circle cx="577.6" cy="514.3" r="3.6" fill="url(#gH)"/>
<circle cx="562.8" cy="523.8" r="6.4" fill="url(#gC)"/>
<circle cx="593.5" cy="523.8" r="6.4" fill="url(#gC)"/>
<circle cx="588.2" cy="531.2" r="6.4" fill="url(#gC)"/>
<circle cx="618.8" cy="524.9" r="3.6" fill="url(#gH)"/>
<circle cx="614.6" cy="530.2" r="6.4" fill="url(#gC)"/>
<circle cx="608.2" cy="543.9" r="6.4" fill="url(#gC)"/>
<circle cx="635.7" cy="541.8" r="6.4" fill="url(#gC)"/>
<circle cx="629.4" cy="551.3" r="6.4" fill="url(#gC)"/>
<circle cx="652.6" cy="547.1" r="3.6" fill="url(#gH)"/>
<circle cx="644.1" cy="559.7" r="3.6" fill="url(#gH)"/>
<circle cx="604.0" cy="550.2" r="3.6" fill="url(#gH)"/>
<circle cx="547.0" cy="554.5" r="8.6" fill="url(#gS)"/>
<circle cx="544.9" cy="588.2" r="3.6" fill="url(#gH)"/>
<circle cx="568.1" cy="600.9" r="3.6" fill="url(#gH)"/>
<circle cx="590.9" cy="396.5" r="3.6" fill="url(#gH)"/>
</svg></body></html>
